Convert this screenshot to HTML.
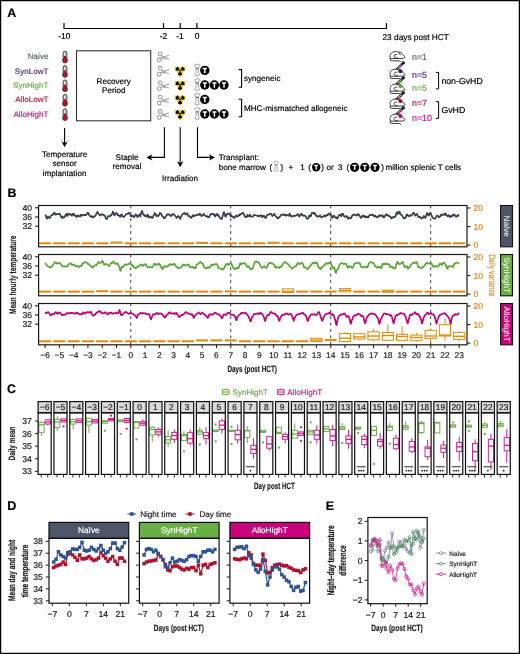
<!DOCTYPE html>
<html><head><meta charset="utf-8"><style>
html,body{margin:0;padding:0;background:#fff;}
svg{display:block;font-family:"Liberation Sans", sans-serif;text-rendering:geometricPrecision;-webkit-font-smoothing:antialiased;will-change:transform;}
</style></head><body>
<svg width="520" height="654" viewBox="0 0 520 654">
<rect x="0" y="0" width="520" height="654" fill="#fff"/>
<text x="7.20" y="16.60" font-size="12.4" fill="#000" stroke="#000" stroke-width="0.18" text-anchor="start" font-weight="bold" >A</text>
<polyline points="64.00,23.00 64.00,28.50 386.50,28.50 386.50,23.00" fill="none" stroke="#000" stroke-width="1.2" stroke-linejoin="round" stroke-linejoin="miter"/>
<line x1="163.50" y1="23.00" x2="163.50" y2="28.50" stroke="#000" stroke-width="1.2" />
<line x1="180.20" y1="23.00" x2="180.20" y2="28.50" stroke="#000" stroke-width="1.2" />
<line x1="196.90" y1="23.00" x2="196.90" y2="28.50" stroke="#000" stroke-width="1.2" />
<text x="64.30" y="39.30" font-size="8.5" fill="#000" stroke="#000" stroke-width="0.18" text-anchor="middle" >-10</text>
<text x="163.50" y="39.30" font-size="8.5" fill="#000" stroke="#000" stroke-width="0.18" text-anchor="middle" >-2</text>
<text x="180.00" y="39.30" font-size="8.5" fill="#000" stroke="#000" stroke-width="0.18" text-anchor="middle" >-1</text>
<text x="197.00" y="39.30" font-size="8.5" fill="#000" stroke="#000" stroke-width="0.18" text-anchor="middle" >0</text>
<text x="382.50" y="39.80" font-size="8.3" fill="#000" stroke="#000" stroke-width="0.18" text-anchor="start" >23 days post HCT</text>
<text x="48.40" y="59.30" font-size="8.05" fill="#5d6378" stroke="#5d6378" stroke-width="0.18" text-anchor="end" >Naive</text>
<text x="48.40" y="73.60" font-size="8.05" fill="#5b2d73" stroke="#5b2d73" stroke-width="0.18" text-anchor="end" >SynLowT</text>
<text x="48.40" y="88.00" font-size="8.05" fill="#6cab45" stroke="#6cab45" stroke-width="0.18" text-anchor="end" >SynHighT</text>
<text x="48.40" y="102.30" font-size="8.05" fill="#b51a40" stroke="#b51a40" stroke-width="0.18" text-anchor="end" >AlloLowT</text>
<text x="48.40" y="116.60" font-size="8.05" fill="#c2188a" stroke="#c2188a" stroke-width="0.18" text-anchor="end" >AlloHighT</text>
<rect x="63.10" y="51.20" width="3.8" height="9.0" rx="1.9" fill="#b4b4b4" stroke="#2a2a2a" stroke-width="0.8"/>
<line x1="64.70" y1="52.80" x2="64.70" y2="55.40" stroke="#fff" stroke-width="0.9"/>
<circle cx="65.00" cy="60.50" r="2.45" fill="#c8102e" stroke="#2a2a2a" stroke-width="0.8"/>
<rect x="63.90" y="56.00" width="2.2" height="4.6" fill="#b0102a"/>
<rect x="63.10" y="65.60" width="3.8" height="9.0" rx="1.9" fill="#b4b4b4" stroke="#2a2a2a" stroke-width="0.8"/>
<line x1="64.70" y1="67.20" x2="64.70" y2="69.80" stroke="#fff" stroke-width="0.9"/>
<circle cx="65.00" cy="74.90" r="2.45" fill="#c8102e" stroke="#2a2a2a" stroke-width="0.8"/>
<rect x="63.90" y="70.40" width="2.2" height="4.6" fill="#b0102a"/>
<rect x="63.10" y="80.00" width="3.8" height="9.0" rx="1.9" fill="#b4b4b4" stroke="#2a2a2a" stroke-width="0.8"/>
<line x1="64.70" y1="81.60" x2="64.70" y2="84.20" stroke="#fff" stroke-width="0.9"/>
<circle cx="65.00" cy="89.30" r="2.45" fill="#c8102e" stroke="#2a2a2a" stroke-width="0.8"/>
<rect x="63.90" y="84.80" width="2.2" height="4.6" fill="#b0102a"/>
<rect x="63.10" y="94.40" width="3.8" height="9.0" rx="1.9" fill="#b4b4b4" stroke="#2a2a2a" stroke-width="0.8"/>
<line x1="64.70" y1="96.00" x2="64.70" y2="98.60" stroke="#fff" stroke-width="0.9"/>
<circle cx="65.00" cy="103.70" r="2.45" fill="#c8102e" stroke="#2a2a2a" stroke-width="0.8"/>
<rect x="63.90" y="99.20" width="2.2" height="4.6" fill="#b0102a"/>
<rect x="63.10" y="108.80" width="3.8" height="9.0" rx="1.9" fill="#b4b4b4" stroke="#2a2a2a" stroke-width="0.8"/>
<line x1="64.70" y1="110.40" x2="64.70" y2="113.00" stroke="#fff" stroke-width="0.9"/>
<circle cx="65.00" cy="118.10" r="2.45" fill="#c8102e" stroke="#2a2a2a" stroke-width="0.8"/>
<rect x="63.90" y="113.60" width="2.2" height="4.6" fill="#b0102a"/>
<rect x="76.50" y="50.80" width="74.20" height="70.00" fill="none" stroke="#333" stroke-width="1.1" />
<text x="113.70" y="84.30" font-size="8.1" fill="#000" stroke="#000" stroke-width="0.18" text-anchor="middle" >Recovery</text>
<text x="113.80" y="93.40" font-size="8.1" fill="#000" stroke="#000" stroke-width="0.18" text-anchor="middle" >Period</text>
<g fill="none" stroke="#a2a2a2" stroke-width="1.15"><circle cx="160.20" cy="53.90" r="1.9"/><circle cx="159.20" cy="59.80" r="1.9"/><path d="M161.50,55.40 L164.40,58.10 M160.70,58.50 L163.60,57.10"/><path d="M165.20,56.50 L169.00,55.40 M165.20,58.40 L169.00,59.10"/><circle cx="164.30" cy="57.50" r="1.0"/></g>
<g fill="none" stroke="#a2a2a2" stroke-width="1.15"><circle cx="160.20" cy="68.30" r="1.9"/><circle cx="159.20" cy="74.20" r="1.9"/><path d="M161.50,69.80 L164.40,72.50 M160.70,72.90 L163.60,71.50"/><path d="M165.20,70.90 L169.00,69.80 M165.20,72.80 L169.00,73.50"/><circle cx="164.30" cy="71.90" r="1.0"/></g>
<g fill="none" stroke="#a2a2a2" stroke-width="1.15"><circle cx="160.20" cy="82.70" r="1.9"/><circle cx="159.20" cy="88.60" r="1.9"/><path d="M161.50,84.20 L164.40,86.90 M160.70,87.30 L163.60,85.90"/><path d="M165.20,85.30 L169.00,84.20 M165.20,87.20 L169.00,87.90"/><circle cx="164.30" cy="86.30" r="1.0"/></g>
<g fill="none" stroke="#a2a2a2" stroke-width="1.15"><circle cx="160.20" cy="97.10" r="1.9"/><circle cx="159.20" cy="103.00" r="1.9"/><path d="M161.50,98.60 L164.40,101.30 M160.70,101.70 L163.60,100.30"/><path d="M165.20,99.70 L169.00,98.60 M165.20,101.60 L169.00,102.30"/><circle cx="164.30" cy="100.70" r="1.0"/></g>
<g fill="none" stroke="#a2a2a2" stroke-width="1.15"><circle cx="160.20" cy="111.50" r="1.9"/><circle cx="159.20" cy="117.40" r="1.9"/><path d="M161.50,113.00 L164.40,115.70 M160.70,116.10 L163.60,114.70"/><path d="M165.20,114.10 L169.00,113.00 M165.20,116.00 L169.00,116.70"/><circle cx="164.30" cy="115.10" r="1.0"/></g>
<polygon points="174.50,67.20 185.70,67.20 180.10,77.00" fill="#f2c200" stroke="#f2c200" stroke-width="0.6" stroke-linejoin="round"/>
<path d="M178.55,70.60 L175.40,70.60 A4.7,4.7 0 0 1 177.75,66.53 L179.32,69.26 A1.55,1.55 0 0 0 178.55,70.60 Z" fill="#000"/>
<path d="M180.88,69.26 L182.45,66.53 A4.7,4.7 0 0 1 184.80,70.60 L181.65,70.60 A1.55,1.55 0 0 0 180.88,69.26 Z" fill="#000"/>
<path d="M180.88,71.94 L182.45,74.67 A4.7,4.7 0 0 1 177.75,74.67 L179.32,71.94 A1.55,1.55 0 0 0 180.88,71.94 Z" fill="#000"/>
<circle cx="180.10" cy="70.60" r="0.95" fill="#000"/>
<polygon points="174.50,81.60 185.70,81.60 180.10,91.40" fill="#f2c200" stroke="#f2c200" stroke-width="0.6" stroke-linejoin="round"/>
<path d="M178.55,85.00 L175.40,85.00 A4.7,4.7 0 0 1 177.75,80.93 L179.32,83.66 A1.55,1.55 0 0 0 178.55,85.00 Z" fill="#000"/>
<path d="M180.88,83.66 L182.45,80.93 A4.7,4.7 0 0 1 184.80,85.00 L181.65,85.00 A1.55,1.55 0 0 0 180.88,83.66 Z" fill="#000"/>
<path d="M180.88,86.34 L182.45,89.07 A4.7,4.7 0 0 1 177.75,89.07 L179.32,86.34 A1.55,1.55 0 0 0 180.88,86.34 Z" fill="#000"/>
<circle cx="180.10" cy="85.00" r="0.95" fill="#000"/>
<polygon points="174.50,96.00 185.70,96.00 180.10,105.80" fill="#f2c200" stroke="#f2c200" stroke-width="0.6" stroke-linejoin="round"/>
<path d="M178.55,99.40 L175.40,99.40 A4.7,4.7 0 0 1 177.75,95.33 L179.32,98.06 A1.55,1.55 0 0 0 178.55,99.40 Z" fill="#000"/>
<path d="M180.88,98.06 L182.45,95.33 A4.7,4.7 0 0 1 184.80,99.40 L181.65,99.40 A1.55,1.55 0 0 0 180.88,98.06 Z" fill="#000"/>
<path d="M180.88,100.74 L182.45,103.47 A4.7,4.7 0 0 1 177.75,103.47 L179.32,100.74 A1.55,1.55 0 0 0 180.88,100.74 Z" fill="#000"/>
<circle cx="180.10" cy="99.40" r="0.95" fill="#000"/>
<polygon points="174.50,110.40 185.70,110.40 180.10,120.20" fill="#f2c200" stroke="#f2c200" stroke-width="0.6" stroke-linejoin="round"/>
<path d="M178.55,113.80 L175.40,113.80 A4.7,4.7 0 0 1 177.75,109.73 L179.32,112.46 A1.55,1.55 0 0 0 178.55,113.80 Z" fill="#000"/>
<path d="M180.88,112.46 L182.45,109.73 A4.7,4.7 0 0 1 184.80,113.80 L181.65,113.80 A1.55,1.55 0 0 0 180.88,112.46 Z" fill="#000"/>
<path d="M180.88,115.14 L182.45,117.87 A4.7,4.7 0 0 1 177.75,117.87 L179.32,115.14 A1.55,1.55 0 0 0 180.88,115.14 Z" fill="#000"/>
<circle cx="180.10" cy="113.80" r="0.95" fill="#000"/>
<g transform="translate(194.20,64.20) scale(1.0)" fill="#fff" stroke="#8a8a8a" stroke-width="0.8"><path d="M0.6,0.8 C1.5,-0.2 4.8,-0.2 5.6,0.8 C6.2,1.8 5.2,2.6 4.4,3.0 L4.2,8.6 C5.2,9.4 5.6,10.6 4.8,11.2 C3.8,11.8 1.6,11.8 1.0,11.0 C0.6,10.2 1.2,9.2 1.8,8.6 L1.9,3.0 C0.8,2.6 0.0,1.8 0.6,0.8 Z"/><ellipse cx="2.9" cy="4.1" rx="0.9" ry="0.6" fill="#222" stroke="none"/></g>
<circle cx="204.80" cy="70.40" r="4.7" fill="#000"/>
<path d="M202.70,68.40 H206.90 M204.80,68.40 V73.20" stroke="#fff" stroke-width="1.45" fill="none"/>
<g transform="translate(194.20,78.80) scale(1.0)" fill="#fff" stroke="#8a8a8a" stroke-width="0.8"><path d="M0.6,0.8 C1.5,-0.2 4.8,-0.2 5.6,0.8 C6.2,1.8 5.2,2.6 4.4,3.0 L4.2,8.6 C5.2,9.4 5.6,10.6 4.8,11.2 C3.8,11.8 1.6,11.8 1.0,11.0 C0.6,10.2 1.2,9.2 1.8,8.6 L1.9,3.0 C0.8,2.6 0.0,1.8 0.6,0.8 Z"/><ellipse cx="2.9" cy="4.1" rx="0.9" ry="0.6" fill="#222" stroke="none"/></g>
<circle cx="204.80" cy="85.00" r="4.7" fill="#000"/>
<path d="M202.70,83.00 H206.90 M204.80,83.00 V87.80" stroke="#fff" stroke-width="1.45" fill="none"/>
<circle cx="214.40" cy="85.00" r="4.7" fill="#000"/>
<path d="M212.30,83.00 H216.50 M214.40,83.00 V87.80" stroke="#fff" stroke-width="1.45" fill="none"/>
<circle cx="224.00" cy="85.00" r="4.7" fill="#000"/>
<path d="M221.90,83.00 H226.10 M224.00,83.00 V87.80" stroke="#fff" stroke-width="1.45" fill="none"/>
<g transform="translate(194.20,93.30) scale(1.0)" fill="#fff" stroke="#8a8a8a" stroke-width="0.8"><path d="M0.6,0.8 C1.5,-0.2 4.8,-0.2 5.6,0.8 C6.2,1.8 5.2,2.6 4.4,3.0 L4.2,8.6 C5.2,9.4 5.6,10.6 4.8,11.2 C3.8,11.8 1.6,11.8 1.0,11.0 C0.6,10.2 1.2,9.2 1.8,8.6 L1.9,3.0 C0.8,2.6 0.0,1.8 0.6,0.8 Z"/><ellipse cx="2.9" cy="4.1" rx="0.9" ry="0.6" fill="#222" stroke="none"/></g>
<circle cx="204.80" cy="99.50" r="4.7" fill="#000"/>
<path d="M202.70,97.50 H206.90 M204.80,97.50 V102.30" stroke="#fff" stroke-width="1.45" fill="none"/>
<g transform="translate(194.20,107.80) scale(1.0)" fill="#fff" stroke="#8a8a8a" stroke-width="0.8"><path d="M0.6,0.8 C1.5,-0.2 4.8,-0.2 5.6,0.8 C6.2,1.8 5.2,2.6 4.4,3.0 L4.2,8.6 C5.2,9.4 5.6,10.6 4.8,11.2 C3.8,11.8 1.6,11.8 1.0,11.0 C0.6,10.2 1.2,9.2 1.8,8.6 L1.9,3.0 C0.8,2.6 0.0,1.8 0.6,0.8 Z"/><ellipse cx="2.9" cy="4.1" rx="0.9" ry="0.6" fill="#222" stroke="none"/></g>
<circle cx="204.80" cy="114.00" r="4.7" fill="#000"/>
<path d="M202.70,112.00 H206.90 M204.80,112.00 V116.80" stroke="#fff" stroke-width="1.45" fill="none"/>
<circle cx="214.40" cy="114.00" r="4.7" fill="#000"/>
<path d="M212.30,112.00 H216.50 M214.40,112.00 V116.80" stroke="#fff" stroke-width="1.45" fill="none"/>
<circle cx="224.00" cy="114.00" r="4.7" fill="#000"/>
<path d="M221.90,112.00 H226.10 M224.00,112.00 V116.80" stroke="#fff" stroke-width="1.45" fill="none"/>
<polyline points="238.60,69.60 241.60,69.60 241.60,87.30 238.60,87.30" fill="none" stroke="#000" stroke-width="1.1" stroke-linejoin="round" stroke-linejoin="miter"/>
<polyline points="238.60,99.20 241.60,99.20 241.60,116.80 238.60,116.80" fill="none" stroke="#000" stroke-width="1.1" stroke-linejoin="round" stroke-linejoin="miter"/>
<text x="244.00" y="80.90" font-size="8.1" fill="#000" stroke="#000" stroke-width="0.18" text-anchor="start" >syngeneic</text>
<text x="244.00" y="111.00" font-size="8.1" fill="#000" stroke="#000" stroke-width="0.18" text-anchor="start" >MHC-mismatched allogeneic</text>
<g transform="translate(389.30,51.50)" fill="#fff" stroke="#1e1e1e" stroke-width="0.85" stroke-linejoin="round" stroke-linecap="round"><path d="M1.3,7.0 C-0.2,5.2 0.6,1.2 4.6,0.2 C6.6,-0.2 8.4,0.2 9.4,0.9 C10.2,0.2 11.6,0.3 11.9,1.4 C13.0,2.3 14.6,4.0 15.4,5.2 C15.8,6.0 15.2,6.8 14.0,6.9 L2.6,7.1 C2.0,7.1 1.6,7.1 1.3,7.0 Z"/><path d="M7.6,3.0 C5.6,2.2 4.2,4.0 5.0,5.5 C5.6,6.6 7.4,6.9 8.2,6.4" fill="none"/><path d="M10.0,1.2 C9.6,2.4 10.4,3.4 11.6,3.2" fill="none"/><path d="M1.3,7.2 C0.2,7.9 0.4,9.0 1.8,9.3 L10.2,9.4 C11.2,9.5 11.6,10.0 11.2,10.5" fill="none"/></g>
<line x1="403.60" y1="62.60" x2="396.60" y2="69.60" stroke="#1e1e1e" stroke-width="2.5" stroke-linecap="round"/>
<line x1="401.64" y1="64.56" x2="397.65" y2="68.55" stroke="#c29ad8" stroke-width="1.1"/>
<line x1="402.33" y1="61.33" x2="404.87" y2="63.87" stroke="#1e1e1e" stroke-width="0.9"/>
<g transform="translate(389.30,69.20)" fill="#fff" stroke="#1e1e1e" stroke-width="0.85" stroke-linejoin="round" stroke-linecap="round"><path d="M1.3,7.0 C-0.2,5.2 0.6,1.2 4.6,0.2 C6.6,-0.2 8.4,0.2 9.4,0.9 C10.2,0.2 11.6,0.3 11.9,1.4 C13.0,2.3 14.6,4.0 15.4,5.2 C15.8,6.0 15.2,6.8 14.0,6.9 L2.6,7.1 C2.0,7.1 1.6,7.1 1.3,7.0 Z"/><path d="M7.6,3.0 C5.6,2.2 4.2,4.0 5.0,5.5 C5.6,6.6 7.4,6.9 8.2,6.4" fill="none"/><path d="M10.0,1.2 C9.6,2.4 10.4,3.4 11.6,3.2" fill="none"/><path d="M1.3,7.2 C0.2,7.9 0.4,9.0 1.8,9.3 L10.2,9.4 C11.2,9.5 11.6,10.0 11.2,10.5" fill="none"/></g>
<circle cx="400.40" cy="71.20" r="2.0" fill="#4e1266"/>
<line x1="403.60" y1="77.50" x2="396.60" y2="84.50" stroke="#1e1e1e" stroke-width="2.5" stroke-linecap="round"/>
<line x1="401.64" y1="79.46" x2="397.65" y2="83.45" stroke="#a8d890" stroke-width="1.1"/>
<line x1="402.33" y1="76.23" x2="404.87" y2="78.77" stroke="#1e1e1e" stroke-width="0.9"/>
<g transform="translate(389.30,84.10)" fill="#fff" stroke="#1e1e1e" stroke-width="0.85" stroke-linejoin="round" stroke-linecap="round"><path d="M1.3,7.0 C-0.2,5.2 0.6,1.2 4.6,0.2 C6.6,-0.2 8.4,0.2 9.4,0.9 C10.2,0.2 11.6,0.3 11.9,1.4 C13.0,2.3 14.6,4.0 15.4,5.2 C15.8,6.0 15.2,6.8 14.0,6.9 L2.6,7.1 C2.0,7.1 1.6,7.1 1.3,7.0 Z"/><path d="M7.6,3.0 C5.6,2.2 4.2,4.0 5.0,5.5 C5.6,6.6 7.4,6.9 8.2,6.4" fill="none"/><path d="M10.0,1.2 C9.6,2.4 10.4,3.4 11.6,3.2" fill="none"/><path d="M1.3,7.2 C0.2,7.9 0.4,9.0 1.8,9.3 L10.2,9.4 C11.2,9.5 11.6,10.0 11.2,10.5" fill="none"/></g>
<circle cx="400.40" cy="86.10" r="2.0" fill="#4fae2a"/>
<line x1="403.60" y1="92.50" x2="396.60" y2="99.50" stroke="#1e1e1e" stroke-width="2.5" stroke-linecap="round"/>
<line x1="401.64" y1="94.46" x2="397.65" y2="98.45" stroke="#f0a0b8" stroke-width="1.1"/>
<line x1="402.33" y1="91.23" x2="404.87" y2="93.77" stroke="#1e1e1e" stroke-width="0.9"/>
<g transform="translate(389.30,99.10)" fill="#fff" stroke="#1e1e1e" stroke-width="0.85" stroke-linejoin="round" stroke-linecap="round"><path d="M1.3,7.0 C-0.2,5.2 0.6,1.2 4.6,0.2 C6.6,-0.2 8.4,0.2 9.4,0.9 C10.2,0.2 11.6,0.3 11.9,1.4 C13.0,2.3 14.6,4.0 15.4,5.2 C15.8,6.0 15.2,6.8 14.0,6.9 L2.6,7.1 C2.0,7.1 1.6,7.1 1.3,7.0 Z"/><path d="M7.6,3.0 C5.6,2.2 4.2,4.0 5.0,5.5 C5.6,6.6 7.4,6.9 8.2,6.4" fill="none"/><path d="M10.0,1.2 C9.6,2.4 10.4,3.4 11.6,3.2" fill="none"/><path d="M1.3,7.2 C0.2,7.9 0.4,9.0 1.8,9.3 L10.2,9.4 C11.2,9.5 11.6,10.0 11.2,10.5" fill="none"/></g>
<circle cx="400.40" cy="101.10" r="2.0" fill="#c0001e"/>
<line x1="403.60" y1="107.50" x2="396.60" y2="114.50" stroke="#1e1e1e" stroke-width="2.5" stroke-linecap="round"/>
<line x1="401.64" y1="109.46" x2="397.65" y2="113.45" stroke="#f08ccc" stroke-width="1.1"/>
<line x1="402.33" y1="106.23" x2="404.87" y2="108.77" stroke="#1e1e1e" stroke-width="0.9"/>
<g transform="translate(389.30,114.10)" fill="#fff" stroke="#1e1e1e" stroke-width="0.85" stroke-linejoin="round" stroke-linecap="round"><path d="M1.3,7.0 C-0.2,5.2 0.6,1.2 4.6,0.2 C6.6,-0.2 8.4,0.2 9.4,0.9 C10.2,0.2 11.6,0.3 11.9,1.4 C13.0,2.3 14.6,4.0 15.4,5.2 C15.8,6.0 15.2,6.8 14.0,6.9 L2.6,7.1 C2.0,7.1 1.6,7.1 1.3,7.0 Z"/><path d="M7.6,3.0 C5.6,2.2 4.2,4.0 5.0,5.5 C5.6,6.6 7.4,6.9 8.2,6.4" fill="none"/><path d="M10.0,1.2 C9.6,2.4 10.4,3.4 11.6,3.2" fill="none"/><path d="M1.3,7.2 C0.2,7.9 0.4,9.0 1.8,9.3 L10.2,9.4 C11.2,9.5 11.6,10.0 11.2,10.5" fill="none"/></g>
<circle cx="400.40" cy="116.10" r="2.0" fill="#d0007a"/>
<text x="412.00" y="59.70" font-size="8.9" fill="#5d6378" stroke="#5d6378" stroke-width="0.18" text-anchor="start" >n=1</text>
<text x="412.00" y="77.80" font-size="8.9" fill="#5b2d73" stroke="#5b2d73" stroke-width="0.18" text-anchor="start" >n=5</text>
<text x="412.00" y="90.90" font-size="8.9" fill="#6cab45" stroke="#6cab45" stroke-width="0.18" text-anchor="start" >n=5</text>
<text x="412.00" y="106.30" font-size="8.9" fill="#b51a40" stroke="#b51a40" stroke-width="0.18" text-anchor="start" >n=7</text>
<text x="412.00" y="120.90" font-size="8.9" fill="#c2188a" stroke="#c2188a" stroke-width="0.18" text-anchor="start" >n=10</text>
<polyline points="435.80,72.40 438.60,72.40 438.60,88.90 435.80,88.90" fill="none" stroke="#000" stroke-width="1.0" stroke-linejoin="round" stroke-linejoin="miter"/>
<polyline points="435.80,101.60 438.60,101.60 438.60,118.40 435.80,118.40" fill="none" stroke="#000" stroke-width="1.0" stroke-linejoin="round" stroke-linejoin="miter"/>
<text x="441.40" y="83.80" font-size="8.75" fill="#000" stroke="#000" stroke-width="0.18" text-anchor="start" >non-GvHD</text>
<text x="441.40" y="113.00" font-size="8.75" fill="#000" stroke="#000" stroke-width="0.18" text-anchor="start" >GvHD</text>
<line x1="64.60" y1="128.00" x2="64.60" y2="143.00" stroke="#000" stroke-width="1.1" />
<polygon points="64.60,147.30 61.40,141.30 64.60,142.90 67.80,141.30" fill="#000"/>
<text x="64.60" y="156.50" font-size="8.1" fill="#000" stroke="#000" stroke-width="0.18" text-anchor="middle" >Temperature</text>
<text x="64.60" y="166.40" font-size="8.1" fill="#000" stroke="#000" stroke-width="0.18" text-anchor="middle" >sensor</text>
<text x="64.60" y="176.30" font-size="8.1" fill="#000" stroke="#000" stroke-width="0.18" text-anchor="middle" >implantation</text>
<polyline points="164.40,127.20 164.40,157.40 150.00,157.40" fill="none" stroke="#000" stroke-width="1.1" stroke-linejoin="round" stroke-linejoin="miter"/>
<polygon points="146.40,157.40 152.40,154.20 150.80,157.40 152.40,160.60" fill="#000"/>
<text x="127.00" y="160.20" font-size="8.1" fill="#000" stroke="#000" stroke-width="0.18" text-anchor="middle" >Staple</text>
<text x="126.90" y="169.30" font-size="8.1" fill="#000" stroke="#000" stroke-width="0.18" text-anchor="middle" >removal</text>
<line x1="180.20" y1="127.20" x2="180.20" y2="162.50" stroke="#000" stroke-width="1.1" />
<polygon points="180.20,167.20 177.00,161.20 180.20,162.80 183.40,161.20" fill="#000"/>
<text x="180.00" y="180.70" font-size="8.1" fill="#000" stroke="#000" stroke-width="0.18" text-anchor="middle" >Irradiation</text>
<polyline points="197.50,127.20 197.50,157.40 211.00,157.40" fill="none" stroke="#000" stroke-width="1.1" stroke-linejoin="round" stroke-linejoin="miter"/>
<polygon points="215.00,157.40 209.00,154.20 210.60,157.40 209.00,160.60" fill="#000"/>
<text x="218.70" y="160.00" font-size="8.1" fill="#000" stroke="#000" stroke-width="0.18" text-anchor="start" >Transplant:</text>
<text x="218.70" y="169.70" font-size="8.1" fill="#000" stroke="#000" stroke-width="0.18" text-anchor="start" >bone marrow</text>
<text x="269.50" y="169.70" font-size="8.1" fill="#000" stroke="#000" stroke-width="0.18" text-anchor="start" >(</text>
<g transform="translate(273.60,161.30) scale(0.85)" fill="#fff" stroke="#8a8a8a" stroke-width="0.8"><path d="M0.6,0.8 C1.5,-0.2 4.8,-0.2 5.6,0.8 C6.2,1.8 5.2,2.6 4.4,3.0 L4.2,8.6 C5.2,9.4 5.6,10.6 4.8,11.2 C3.8,11.8 1.6,11.8 1.0,11.0 C0.6,10.2 1.2,9.2 1.8,8.6 L1.9,3.0 C0.8,2.6 0.0,1.8 0.6,0.8 Z"/><ellipse cx="2.9" cy="4.1" rx="0.9" ry="0.6" fill="#222" stroke="none"/></g>
<text x="280.60" y="169.70" font-size="8.1" fill="#000" stroke="#000" stroke-width="0.18" text-anchor="start" >)</text>
<text x="288.50" y="169.70" font-size="8.1" fill="#000" stroke="#000" stroke-width="0.18" text-anchor="start" >+</text>
<text x="300.30" y="169.70" font-size="8.1" fill="#000" stroke="#000" stroke-width="0.18" text-anchor="start" >1</text>
<text x="308.30" y="169.70" font-size="8.1" fill="#000" stroke="#000" stroke-width="0.18" text-anchor="start" >(</text>
<circle cx="316.20" cy="167.30" r="4.2" fill="#000"/>
<path d="M314.32,165.51 H318.08 M316.20,165.51 V169.80" stroke="#fff" stroke-width="1.30" fill="none"/>
<text x="321.30" y="169.70" font-size="8.1" fill="#000" stroke="#000" stroke-width="0.18" text-anchor="start" >)</text>
<text x="326.50" y="169.70" font-size="8.1" fill="#000" stroke="#000" stroke-width="0.18" text-anchor="start" >or</text>
<text x="337.90" y="169.70" font-size="8.1" fill="#000" stroke="#000" stroke-width="0.18" text-anchor="start" >3</text>
<text x="346.60" y="169.70" font-size="8.1" fill="#000" stroke="#000" stroke-width="0.18" text-anchor="start" >(</text>
<circle cx="354.60" cy="167.30" r="4.6" fill="#000"/>
<path d="M352.54,165.34 H356.66 M354.60,165.34 V170.04" stroke="#fff" stroke-width="1.42" fill="none"/>
<circle cx="364.80" cy="167.30" r="4.6" fill="#000"/>
<path d="M362.74,165.34 H366.86 M364.80,165.34 V170.04" stroke="#fff" stroke-width="1.42" fill="none"/>
<circle cx="375.00" cy="167.30" r="4.6" fill="#000"/>
<path d="M372.94,165.34 H377.06 M375.00,165.34 V170.04" stroke="#fff" stroke-width="1.42" fill="none"/>
<text x="381.20" y="169.70" font-size="8.1" fill="#000" stroke="#000" stroke-width="0.18" text-anchor="start" >)</text>
<text x="385.40" y="169.70" font-size="8.1" fill="#000" stroke="#000" stroke-width="0.18" text-anchor="start" >million splenic T cells</text>
<text x="7.40" y="196.70" font-size="12.4" fill="#000" stroke="#000" stroke-width="0.18" text-anchor="start" font-weight="bold" >B</text>
<line x1="130.78" y1="205.50" x2="130.78" y2="246.80" stroke="#3a3a3a" stroke-width="1.0" stroke-dasharray="2.8,3.6"/>
<line x1="230.74" y1="205.50" x2="230.74" y2="246.80" stroke="#3a3a3a" stroke-width="1.0" stroke-dasharray="2.8,3.6"/>
<line x1="330.70" y1="205.50" x2="330.70" y2="246.80" stroke="#3a3a3a" stroke-width="1.0" stroke-dasharray="2.8,3.6"/>
<line x1="430.66" y1="205.50" x2="430.66" y2="246.80" stroke="#3a3a3a" stroke-width="1.0" stroke-dasharray="2.8,3.6"/>
<rect x="39.10" y="242.30" width="12.00" height="2.00" fill="#e08a00" stroke="none" stroke-width="1" />
<rect x="53.38" y="242.30" width="12.00" height="2.00" fill="#e08a00" stroke="none" stroke-width="1" />
<rect x="67.66" y="242.30" width="12.00" height="2.00" fill="#e08a00" stroke="none" stroke-width="1" />
<rect x="81.94" y="242.30" width="12.00" height="2.00" fill="#e08a00" stroke="none" stroke-width="1" />
<rect x="96.22" y="242.30" width="12.00" height="2.00" fill="#e08a00" stroke="none" stroke-width="1" />
<rect x="110.50" y="241.60" width="12.00" height="2.00" fill="#e08a00" stroke="none" stroke-width="1" />
<rect x="124.78" y="242.30" width="12.00" height="2.00" fill="#e08a00" stroke="none" stroke-width="1" />
<rect x="139.06" y="242.30" width="12.00" height="2.00" fill="#e08a00" stroke="none" stroke-width="1" />
<rect x="153.34" y="242.30" width="12.00" height="2.00" fill="#e08a00" stroke="none" stroke-width="1" />
<rect x="167.62" y="242.30" width="12.00" height="2.00" fill="#e08a00" stroke="none" stroke-width="1" />
<rect x="181.90" y="242.30" width="12.00" height="2.00" fill="#e08a00" stroke="none" stroke-width="1" />
<rect x="196.18" y="241.90" width="12.00" height="2.00" fill="#e08a00" stroke="none" stroke-width="1" />
<rect x="210.46" y="242.30" width="12.00" height="2.00" fill="#e08a00" stroke="none" stroke-width="1" />
<rect x="224.74" y="242.30" width="12.00" height="2.00" fill="#e08a00" stroke="none" stroke-width="1" />
<rect x="239.02" y="242.30" width="12.00" height="2.00" fill="#e08a00" stroke="none" stroke-width="1" />
<rect x="253.30" y="242.30" width="12.00" height="2.00" fill="#e08a00" stroke="none" stroke-width="1" />
<rect x="267.58" y="241.80" width="12.00" height="2.00" fill="#e08a00" stroke="none" stroke-width="1" />
<rect x="281.86" y="242.30" width="12.00" height="2.00" fill="#e08a00" stroke="none" stroke-width="1" />
<rect x="296.14" y="242.30" width="12.00" height="2.00" fill="#e08a00" stroke="none" stroke-width="1" />
<rect x="310.42" y="242.30" width="12.00" height="2.00" fill="#e08a00" stroke="none" stroke-width="1" />
<rect x="324.70" y="242.30" width="12.00" height="2.00" fill="#e08a00" stroke="none" stroke-width="1" />
<rect x="338.98" y="242.30" width="12.00" height="2.00" fill="#e08a00" stroke="none" stroke-width="1" />
<rect x="353.26" y="242.30" width="12.00" height="2.00" fill="#e08a00" stroke="none" stroke-width="1" />
<rect x="367.54" y="242.30" width="12.00" height="2.00" fill="#e08a00" stroke="none" stroke-width="1" />
<rect x="381.82" y="242.30" width="12.00" height="2.00" fill="#e08a00" stroke="none" stroke-width="1" />
<rect x="396.10" y="242.30" width="12.00" height="2.00" fill="#e08a00" stroke="none" stroke-width="1" />
<rect x="410.38" y="242.30" width="12.00" height="2.00" fill="#e08a00" stroke="none" stroke-width="1" />
<rect x="424.66" y="242.30" width="12.00" height="2.00" fill="#e08a00" stroke="none" stroke-width="1" />
<rect x="438.94" y="242.30" width="12.00" height="2.00" fill="#e08a00" stroke="none" stroke-width="1" />
<rect x="453.22" y="242.30" width="12.00" height="2.00" fill="#e08a00" stroke="none" stroke-width="1" />
<polyline points="45.10,214.85 45.70,215.17 46.29,217.21 46.88,218.58 47.48,218.00 48.07,216.48 48.67,217.11 49.27,218.12 49.86,217.87 50.45,216.90 51.05,215.64 51.64,215.24 52.24,214.88 52.84,214.83 53.43,213.53 54.02,212.91 54.62,212.70 55.21,214.60 55.81,214.70 56.41,214.29 57.00,213.76 57.59,214.03 58.19,213.99 58.78,213.90 59.38,213.78 59.98,214.06 60.57,216.07 61.16,216.60 61.76,217.75 62.35,216.39 62.95,217.90 63.55,217.13 64.14,217.46 64.73,216.81 65.33,215.24 65.92,214.72 66.52,213.52 67.12,216.01 67.71,215.28 68.31,214.75 68.90,213.73 69.50,214.24 70.09,214.08 70.69,214.86 71.28,214.74 71.88,215.68 72.47,213.92 73.06,214.68 73.66,213.57 74.25,215.56 74.85,215.09 75.44,216.00 76.04,215.87 76.64,217.08 77.23,215.69 77.82,215.85 78.42,215.48 79.02,216.39 79.61,216.31 80.21,216.41 80.80,214.69 81.39,214.95 81.99,215.45 82.59,215.67 83.18,214.89 83.78,214.68 84.37,215.03 84.97,214.92 85.56,215.13 86.16,215.13 86.75,214.20 87.34,213.01 87.94,212.70 88.53,213.11 89.13,214.86 89.72,215.75 90.32,216.41 90.91,216.86 91.51,216.38 92.10,216.02 92.70,217.56 93.30,217.46 93.89,216.87 94.48,216.00 95.08,216.18 95.67,215.48 96.27,214.24 96.87,213.13 97.46,211.85 98.06,213.08 98.65,213.86 99.25,214.76 99.84,215.12 100.44,215.56 101.03,214.37 101.62,214.67 102.22,214.23 102.81,214.34 103.41,215.33 104.00,215.02 104.60,215.66 105.19,216.21 105.79,218.18 106.39,218.96 106.98,218.97 107.57,217.31 108.17,216.01 108.76,216.49 109.36,216.49 109.96,216.21 110.55,215.12 111.15,215.51 111.74,214.57 112.34,213.62 112.93,211.47 113.53,213.10 114.12,215.03 114.72,215.34 115.31,213.26 115.91,213.22 116.50,212.98 117.09,213.80 117.69,215.10 118.28,214.61 118.88,215.69 119.47,215.90 120.07,216.75 120.66,215.55 121.26,214.45 121.85,214.59 122.45,216.37 123.04,216.60 123.64,216.99 124.24,216.48 124.83,215.90 125.43,215.24 126.02,214.14 126.61,214.08 127.21,213.78 127.81,213.85 128.40,213.48 129.00,212.81 129.59,213.59 130.19,214.05 130.78,216.13 131.38,216.15 131.97,215.90 132.56,215.34 133.16,216.46 133.75,217.33 134.35,216.67 134.94,216.00 135.54,214.25 136.13,214.74 136.73,215.34 137.32,217.10 137.92,216.45 138.52,215.77 139.11,214.55 139.70,214.64 140.30,216.52 140.89,213.33 141.49,212.49 142.09,210.90 142.68,213.16 143.28,214.68 143.87,214.88 144.47,215.84 145.06,215.22 145.66,216.34 146.25,216.67 146.84,216.57 147.44,214.62 148.03,215.09 148.63,217.35 149.22,217.52 149.82,216.98 150.41,216.61 151.01,216.65 151.60,217.97 152.20,218.00 152.79,217.81 153.39,215.77 153.98,215.36 154.58,212.95 155.17,213.67 155.77,214.11 156.37,216.11 156.96,215.41 157.56,215.63 158.15,216.09 158.75,215.60 159.34,214.20 159.93,212.91 160.53,213.43 161.12,213.88 161.72,215.38 162.31,216.10 162.91,216.82 163.50,217.03 164.10,218.26 164.69,218.22 165.29,217.44 165.88,216.25 166.48,215.47 167.07,214.25 167.67,214.43 168.26,214.59 168.86,214.14 169.46,214.48 170.05,215.60 170.64,215.84 171.24,216.17 171.84,214.62 172.43,214.87 173.03,214.03 173.62,214.16 174.21,214.84 174.81,215.24 175.41,216.51 176.00,216.51 176.59,217.95 177.19,217.22 177.78,216.80 178.38,215.99 178.97,217.04 179.57,216.98 180.16,219.09 180.76,217.05 181.35,216.11 181.95,214.84 182.54,214.32 183.14,213.88 183.73,213.24 184.33,212.96 184.92,213.47 185.52,214.64 186.11,213.95 186.71,213.35 187.31,213.44 187.90,214.80 188.49,216.10 189.09,215.88 189.68,216.30 190.28,216.97 190.88,217.94 191.47,217.72 192.06,216.73 192.66,215.30 193.25,215.17 193.85,216.23 194.44,216.02 195.04,215.28 195.63,215.55 196.23,215.05 196.82,214.83 197.42,214.67 198.01,214.60 198.61,214.89 199.20,214.88 199.80,213.53 200.39,214.91 200.99,214.93 201.59,216.12 202.18,215.48 202.77,215.41 203.37,214.20 203.96,213.86 204.56,214.98 205.16,215.62 205.75,216.17 206.34,216.33 206.94,216.59 207.53,216.11 208.13,217.34 208.72,217.44 209.32,217.09 209.91,215.43 210.51,214.38 211.10,213.82 211.70,213.89 212.29,214.47 212.89,213.83 213.48,214.30 214.08,214.09 214.67,215.63 215.27,216.45 215.87,215.31 216.46,214.03 217.05,214.80 217.65,214.25 218.24,215.69 218.84,215.64 219.44,217.26 220.03,217.81 220.62,218.66 221.22,218.92 221.81,218.93 222.41,216.82 223.00,214.70 223.60,212.24 224.19,212.33 224.79,214.60 225.38,216.62 225.98,216.52 226.57,214.68 227.17,214.06 227.76,213.36 228.36,213.86 228.95,213.73 229.55,214.10 230.14,215.23 230.74,216.42 231.33,215.25 231.93,216.12 232.52,216.89 233.12,216.90 233.72,217.26 234.31,218.04 234.90,216.87 235.50,216.23 236.09,215.42 236.69,216.64 237.28,216.49 237.88,216.24 238.47,215.10 239.07,214.64 239.66,215.37 240.26,214.15 240.85,214.18 241.45,214.19 242.04,213.19 242.64,213.21 243.23,212.84 243.83,214.29 244.42,215.75 245.02,216.28 245.61,217.19 246.21,216.86 246.80,216.98 247.40,214.87 248.00,216.11 248.59,216.10 249.18,216.18 249.78,214.66 250.37,215.24 250.97,216.58 251.56,216.68 252.16,216.57 252.75,216.75 253.35,216.05 253.94,215.33 254.54,214.94 255.13,215.15 255.73,215.27 256.32,215.48 256.92,215.65 257.51,215.57 258.11,216.24 258.70,215.81 259.30,215.95 259.89,216.36 260.49,215.20 261.08,215.41 261.68,215.53 262.28,217.15 262.87,216.64 263.46,215.66 264.06,215.66 264.65,217.20 265.25,217.84 265.85,218.03 266.44,216.63 267.03,215.14 267.63,214.79 268.23,214.57 268.82,214.57 269.42,214.47 270.01,213.86 270.61,213.62 271.20,214.19 271.80,214.81 272.39,216.02 272.99,215.58 273.58,214.79 274.18,213.81 274.77,214.72 275.37,215.55 275.96,216.61 276.56,217.03 277.15,218.13 277.75,217.75 278.34,218.45 278.94,217.13 279.53,217.03 280.12,216.25 280.72,215.92 281.31,214.67 281.91,214.83 282.50,214.48 283.10,214.61 283.69,215.11 284.29,214.44 284.88,215.13 285.48,214.75 286.07,215.80 286.67,215.11 287.26,215.13 287.86,215.08 288.46,215.49 289.05,215.91 289.64,213.62 290.24,214.68 290.83,215.69 291.43,216.76 292.03,216.33 292.62,216.08 293.21,215.85 293.81,215.75 294.40,216.19 295.00,215.47 295.60,215.71 296.19,215.47 296.79,214.95 297.38,214.44 297.97,214.01 298.57,215.47 299.17,216.60 299.76,216.04 300.36,215.07 300.95,213.79 301.55,213.91 302.14,215.15 302.74,215.21 303.33,215.93 303.93,215.36 304.52,215.55 305.12,215.95 305.71,216.42 306.31,217.33 306.90,218.62 307.50,218.57 308.09,218.64 308.69,217.61 309.28,215.39 309.88,216.44 310.47,215.73 311.06,216.09 311.66,213.21 312.25,212.76 312.85,212.90 313.45,213.51 314.04,213.89 314.63,212.70 315.23,214.19 315.82,214.87 316.42,216.09 317.02,215.85 317.61,216.41 318.20,216.90 318.80,216.48 319.39,215.99 319.99,215.38 320.59,216.25 321.18,217.47 321.78,217.51 322.37,216.75 322.96,216.74 323.56,216.08 324.16,215.61 324.75,215.35 325.35,216.59 325.94,215.90 326.53,215.24 327.13,214.80 327.73,215.22 328.32,213.85 328.92,213.60 329.51,214.54 330.11,214.67 330.70,214.31 331.30,216.31 331.89,217.77 332.49,217.79 333.08,215.78 333.68,216.61 334.27,215.78 334.87,217.12 335.46,217.28 336.06,218.07 336.65,217.32 337.25,218.54 337.84,218.12 338.44,216.20 339.03,215.15 339.62,214.64 340.22,214.85 340.81,216.00 341.41,216.03 342.01,213.90 342.60,213.78 343.19,214.07 343.79,216.08 344.38,216.38 344.98,216.68 345.58,216.87 346.17,216.36 346.76,216.00 347.36,216.89 347.95,218.75 348.55,218.07 349.15,217.41 349.74,217.71 350.34,218.54 350.93,218.33 351.52,217.40 352.12,215.81 352.72,214.86 353.31,214.75 353.91,215.05 354.50,214.61 355.09,214.26 355.69,214.96 356.29,215.09 356.88,215.62 357.48,215.48 358.07,213.77 358.66,214.66 359.26,215.16 359.86,216.00 360.45,217.32 361.05,217.90 361.64,217.18 362.24,216.27 362.83,215.33 363.43,215.89 364.02,216.76 364.62,215.96 365.21,216.49 365.81,217.43 366.40,217.07 367.00,216.51 367.59,217.12 368.19,217.52 368.78,216.51 369.38,215.20 369.97,214.81 370.56,215.17 371.16,215.24 371.75,214.96 372.35,214.52 372.94,214.60 373.54,215.49 374.14,216.40 374.73,216.08 375.32,215.53 375.92,216.90 376.51,217.02 377.11,217.43 377.71,216.56 378.30,216.41 378.89,216.61 379.49,215.10 380.08,215.42 380.68,215.66 381.28,215.69 381.87,216.20 382.47,215.16 383.06,216.71 383.65,217.35 384.25,217.36 384.85,216.26 385.44,214.99 386.04,214.81 386.63,214.12 387.22,215.56 387.82,215.25 388.42,215.58 389.01,216.19 389.61,216.11 390.20,216.58 390.80,217.45 391.39,218.59 391.99,217.39 392.58,217.82 393.18,216.86 393.77,217.49 394.37,216.90 394.96,216.95 395.56,216.28 396.15,213.47 396.75,212.77 397.34,212.10 397.94,213.92 398.53,213.12 399.12,211.72 399.72,211.81 400.31,214.33 400.91,214.72 401.50,214.81 402.10,215.60 402.70,216.33 403.29,217.57 403.88,218.46 404.48,218.15 405.07,218.06 405.67,217.71 406.27,215.87 406.86,214.39 407.45,214.96 408.05,215.52 408.64,216.34 409.24,215.60 409.84,215.36 410.43,215.37 411.03,215.62 411.62,215.56 412.21,214.66 412.81,213.80 413.41,212.54 414.00,213.20 414.60,214.10 415.19,215.59 415.78,214.56 416.38,214.64 416.98,213.86 417.57,215.31 418.17,216.75 418.76,216.97 419.35,217.17 419.95,216.69 420.55,217.96 421.14,218.00 421.74,218.52 422.33,218.25 422.93,217.86 423.52,216.19 424.12,216.10 424.71,217.32 425.31,217.93 425.90,216.59 426.50,214.89 427.09,213.05 427.69,213.42 428.28,215.35 428.88,215.53 429.47,213.74 430.06,212.92 430.66,213.28 431.25,214.44 431.85,216.21 432.44,217.19 433.04,218.01 433.63,218.48 434.23,218.59 434.83,218.87 435.42,218.03 436.01,217.09 436.61,215.83 437.20,215.55 437.80,215.94 438.40,216.70 438.99,217.27 439.58,217.03 440.18,216.40 440.77,214.92 441.37,215.54 441.97,214.28 442.56,214.81 443.16,214.94 443.75,214.28 444.34,214.64 444.94,213.27 445.54,215.00 446.13,214.26 446.73,215.56 447.32,215.76 447.91,216.46 448.51,215.07 449.11,215.58 449.70,216.27 450.30,217.15 450.89,216.30 451.49,215.61 452.08,216.24 452.68,215.24 453.27,215.31 453.87,214.25 454.46,214.50 455.06,215.81 455.65,216.17 456.25,216.86 456.84,215.96 457.44,215.97 458.03,214.81 458.62,215.80 459.22,215.35" fill="none" stroke="#363c52" stroke-width="1.7" stroke-linejoin="round" />
<rect x="38.60" y="205.50" width="428.40" height="41.30" fill="none" stroke="#1a1a1a" stroke-width="1.2" />
<line x1="35.10" y1="207.80" x2="38.60" y2="207.80" stroke="#1a1a1a" stroke-width="1.1" />
<text x="32.00" y="210.80" font-size="8.6" fill="#1a1a1a" stroke="#1a1a1a" stroke-width="0.18" text-anchor="end" >40</text>
<line x1="35.10" y1="217.00" x2="38.60" y2="217.00" stroke="#1a1a1a" stroke-width="1.1" />
<text x="32.00" y="220.00" font-size="8.6" fill="#1a1a1a" stroke="#1a1a1a" stroke-width="0.18" text-anchor="end" >36</text>
<line x1="35.10" y1="226.20" x2="38.60" y2="226.20" stroke="#1a1a1a" stroke-width="1.1" />
<text x="32.00" y="229.20" font-size="8.6" fill="#1a1a1a" stroke="#1a1a1a" stroke-width="0.18" text-anchor="end" >32</text>
<line x1="467.00" y1="245.10" x2="470.40" y2="245.10" stroke="#1a1a1a" stroke-width="1.1" />
<text x="473.60" y="248.10" font-size="8.6" fill="#d8880f" stroke="#d8880f" stroke-width="0.18" text-anchor="start" >0</text>
<line x1="467.00" y1="226.55" x2="470.40" y2="226.55" stroke="#1a1a1a" stroke-width="1.1" />
<text x="473.60" y="229.55" font-size="8.6" fill="#d8880f" stroke="#d8880f" stroke-width="0.18" text-anchor="start" >10</text>
<line x1="467.00" y1="208.00" x2="470.40" y2="208.00" stroke="#1a1a1a" stroke-width="1.1" />
<text x="473.60" y="211.00" font-size="8.6" fill="#d8880f" stroke="#d8880f" stroke-width="0.18" text-anchor="start" >20</text>
<rect x="500.60" y="205.50" width="11.90" height="41.30" fill="#4f5568" stroke="#111" stroke-width="1.1" />
<text x="506.55" y="226.15" font-size="8.1" fill="#fff" text-anchor="middle" dominant-baseline="central" transform="rotate(90 506.55 226.15)">Naïve</text>
<line x1="130.78" y1="254.50" x2="130.78" y2="295.80" stroke="#3a3a3a" stroke-width="1.0" stroke-dasharray="2.8,3.6"/>
<line x1="230.74" y1="254.50" x2="230.74" y2="295.80" stroke="#3a3a3a" stroke-width="1.0" stroke-dasharray="2.8,3.6"/>
<line x1="330.70" y1="254.50" x2="330.70" y2="295.80" stroke="#3a3a3a" stroke-width="1.0" stroke-dasharray="2.8,3.6"/>
<line x1="430.66" y1="254.50" x2="430.66" y2="295.80" stroke="#3a3a3a" stroke-width="1.0" stroke-dasharray="2.8,3.6"/>
<rect x="39.10" y="290.60" width="12.00" height="2.00" fill="#e08a00" stroke="none" stroke-width="1" />
<rect x="53.38" y="290.60" width="12.00" height="2.00" fill="#e08a00" stroke="none" stroke-width="1" />
<rect x="67.66" y="290.60" width="12.00" height="2.00" fill="#e08a00" stroke="none" stroke-width="1" />
<rect x="81.94" y="290.60" width="12.00" height="2.00" fill="#e08a00" stroke="none" stroke-width="1" />
<rect x="96.22" y="290.20" width="12.00" height="2.00" fill="#e08a00" stroke="none" stroke-width="1" />
<rect x="110.50" y="290.60" width="12.00" height="2.00" fill="#e08a00" stroke="none" stroke-width="1" />
<rect x="124.78" y="290.60" width="12.00" height="2.00" fill="#e08a00" stroke="none" stroke-width="1" />
<rect x="139.06" y="290.60" width="12.00" height="2.00" fill="#e08a00" stroke="none" stroke-width="1" />
<rect x="153.34" y="290.60" width="12.00" height="2.00" fill="#e08a00" stroke="none" stroke-width="1" />
<rect x="167.62" y="290.60" width="12.00" height="2.00" fill="#e08a00" stroke="none" stroke-width="1" />
<rect x="181.90" y="290.60" width="12.00" height="2.00" fill="#e08a00" stroke="none" stroke-width="1" />
<rect x="196.18" y="290.60" width="12.00" height="2.00" fill="#e08a00" stroke="none" stroke-width="1" />
<rect x="210.46" y="290.60" width="12.00" height="2.00" fill="#e08a00" stroke="none" stroke-width="1" />
<rect x="224.74" y="290.40" width="12.00" height="2.00" fill="#e08a00" stroke="none" stroke-width="1" />
<rect x="239.02" y="290.60" width="12.00" height="2.00" fill="#e08a00" stroke="none" stroke-width="1" />
<rect x="253.30" y="290.60" width="12.00" height="2.00" fill="#e08a00" stroke="none" stroke-width="1" />
<rect x="267.58" y="290.60" width="12.00" height="2.00" fill="#e08a00" stroke="none" stroke-width="1" />
<rect x="282.26" y="288.90" width="11.20" height="3.70" fill="#fff" stroke="#e08a00" stroke-width="1.0" />
<line x1="282.26" y1="291.40" x2="293.46" y2="291.40" stroke="#e08a00" stroke-width="1.4" />
<rect x="296.14" y="290.60" width="12.00" height="2.00" fill="#e08a00" stroke="none" stroke-width="1" />
<rect x="310.42" y="290.60" width="12.00" height="2.00" fill="#e08a00" stroke="none" stroke-width="1" />
<rect x="324.70" y="290.60" width="12.00" height="2.00" fill="#e08a00" stroke="none" stroke-width="1" />
<rect x="339.38" y="288.60" width="11.20" height="3.20" fill="#fff" stroke="#e08a00" stroke-width="1.0" />
<line x1="339.38" y1="290.40" x2="350.58" y2="290.40" stroke="#e08a00" stroke-width="1.4" />
<rect x="353.26" y="290.60" width="12.00" height="2.00" fill="#e08a00" stroke="none" stroke-width="1" />
<rect x="367.54" y="290.60" width="12.00" height="2.00" fill="#e08a00" stroke="none" stroke-width="1" />
<rect x="382.22" y="290.20" width="11.20" height="2.00" fill="#fff" stroke="#e08a00" stroke-width="1.0" />
<line x1="382.22" y1="291.40" x2="393.42" y2="291.40" stroke="#e08a00" stroke-width="1.4" />
<rect x="396.10" y="290.60" width="12.00" height="2.00" fill="#e08a00" stroke="none" stroke-width="1" />
<rect x="410.38" y="290.60" width="12.00" height="2.00" fill="#e08a00" stroke="none" stroke-width="1" />
<rect x="424.66" y="290.60" width="12.00" height="2.00" fill="#e08a00" stroke="none" stroke-width="1" />
<rect x="438.94" y="290.60" width="12.00" height="2.00" fill="#e08a00" stroke="none" stroke-width="1" />
<rect x="453.22" y="290.60" width="12.00" height="2.00" fill="#e08a00" stroke="none" stroke-width="1" />
<polyline points="45.10,263.06 45.70,263.87 46.29,264.24 46.88,265.43 47.48,266.22 48.07,266.51 48.67,266.52 49.27,266.83 49.86,267.94 50.45,267.58 51.05,266.86 51.64,266.76 52.24,265.78 52.84,265.05 53.43,264.37 54.02,263.31 54.62,262.07 55.21,262.54 55.81,263.01 56.41,262.93 57.00,263.57 57.59,263.15 58.19,263.08 58.78,262.69 59.38,262.88 59.98,263.35 60.57,263.91 61.16,264.42 61.76,265.55 62.35,266.35 62.95,266.26 63.55,266.40 64.14,266.55 64.73,266.25 65.33,266.50 65.92,266.90 66.52,266.25 67.12,266.24 67.71,265.90 68.31,264.36 68.90,263.98 69.50,263.82 70.09,263.61 70.69,263.19 71.28,263.95 71.88,264.83 72.47,264.92 73.06,264.85 73.66,264.31 74.25,264.47 74.85,265.64 75.44,265.96 76.04,266.39 76.64,265.91 77.23,266.25 77.82,266.06 78.42,266.53 79.02,267.14 79.61,266.62 80.21,265.92 80.80,265.69 81.39,266.01 81.99,264.94 82.59,263.35 83.18,263.44 83.78,263.04 84.37,262.49 84.97,262.05 85.56,262.39 86.16,262.45 86.75,262.53 87.34,263.34 87.94,264.09 88.53,263.71 89.13,264.66 89.72,265.15 90.32,265.83 90.91,266.09 91.51,267.07 92.10,266.81 92.70,267.73 93.30,266.81 93.89,266.49 94.48,265.24 95.08,265.18 95.67,265.48 96.27,265.31 96.87,264.39 97.46,263.41 98.06,262.93 98.65,261.84 99.25,262.62 99.84,263.00 100.44,262.73 101.03,262.52 101.62,262.35 102.22,260.87 102.81,261.73 103.41,262.91 104.00,264.46 104.60,264.81 105.19,264.29 105.79,263.74 106.39,264.02 106.98,264.64 107.57,264.97 108.17,265.27 108.76,265.77 109.36,266.10 109.96,264.45 110.55,263.77 111.15,262.81 111.74,262.97 112.34,262.47 112.93,262.57 113.53,261.49 114.12,263.01 114.72,263.33 115.31,264.01 115.91,263.81 116.50,263.66 117.09,263.19 117.69,263.54 118.28,265.56 118.88,265.78 119.47,266.94 120.07,270.32 120.66,270.88 121.26,268.27 121.85,266.86 122.45,267.21 123.04,266.95 123.64,266.00 124.24,265.44 124.83,264.51 125.43,264.56 126.02,264.23 126.61,264.82 127.21,264.62 127.81,264.53 128.40,264.05 129.00,263.73 129.59,263.43 130.19,263.71 130.78,264.55 131.38,264.82 131.97,264.47 132.56,266.09 133.16,265.81 133.75,267.18 134.35,267.21 134.94,267.79 135.54,268.23 136.13,267.73 136.73,267.08 137.32,267.33 137.92,267.08 138.52,265.93 139.11,265.90 139.70,265.87 140.30,264.81 140.89,264.25 141.49,264.50 142.09,265.29 142.68,266.16 143.28,265.27 143.87,264.80 144.47,264.32 145.06,264.54 145.66,264.07 146.25,265.57 146.84,266.46 147.44,266.97 148.03,267.23 148.63,267.50 149.22,267.47 149.82,266.69 150.41,267.07 151.01,267.36 151.60,267.34 152.20,267.56 152.79,266.62 153.39,265.58 153.98,264.07 154.58,263.81 155.17,263.69 155.77,264.71 156.37,264.96 156.96,265.01 157.56,264.08 158.15,264.22 158.75,263.44 159.34,264.23 159.93,264.54 160.53,266.46 161.12,266.76 161.72,268.07 162.31,269.03 162.91,268.93 163.50,267.54 164.10,266.32 164.69,266.62 165.29,266.62 165.88,266.70 166.48,265.90 167.07,266.76 167.67,266.51 168.26,266.09 168.86,265.15 169.46,264.88 170.05,264.14 170.64,264.78 171.24,264.58 171.84,264.41 172.43,265.00 173.03,264.66 173.62,263.78 174.21,263.60 174.81,264.52 175.41,264.87 176.00,266.50 176.59,266.90 177.19,267.47 177.78,268.10 178.38,268.00 178.97,267.97 179.57,267.98 180.16,267.71 180.76,267.37 181.35,267.28 181.95,266.48 182.54,265.31 183.14,264.51 183.73,264.96 184.33,264.73 184.92,265.57 185.52,265.49 186.11,265.30 186.71,264.82 187.31,264.61 187.90,264.76 188.49,264.45 189.09,265.35 189.68,267.01 190.28,267.38 190.88,267.36 191.47,266.84 192.06,267.25 192.66,266.97 193.25,267.58 193.85,267.20 194.44,268.01 195.04,268.37 195.63,268.04 196.23,266.61 196.82,264.33 197.42,264.20 198.01,263.98 198.61,263.61 199.20,263.18 199.80,262.22 200.39,261.77 200.99,262.33 201.59,263.23 202.18,263.36 202.77,263.62 203.37,264.80 203.96,266.82 204.56,267.72 205.16,267.88 205.75,268.03 206.34,268.34 206.94,268.14 207.53,267.76 208.13,267.03 208.72,267.35 209.32,267.92 209.91,267.40 210.51,266.43 211.10,265.37 211.70,264.36 212.29,264.94 212.89,264.96 213.48,265.15 214.08,264.59 214.67,264.39 215.27,264.17 215.87,264.09 216.46,263.85 217.05,264.69 217.65,265.53 218.24,267.98 218.84,267.96 219.44,268.33 220.03,268.56 220.62,268.46 221.22,268.62 221.81,269.36 222.41,269.75 223.00,269.46 223.60,268.69 224.19,268.32 224.79,266.51 225.38,265.35 225.98,264.03 226.57,264.57 227.17,264.07 227.76,263.63 228.36,264.22 228.95,265.01 229.55,263.99 230.14,263.60 230.74,263.09 231.33,263.64 231.93,264.74 232.52,266.44 233.12,267.69 233.72,268.64 234.31,268.88 234.90,268.84 235.50,268.70 236.09,268.86 236.69,267.71 237.28,268.14 237.88,268.32 238.47,268.22 239.07,266.43 239.66,264.89 240.26,262.98 240.85,264.13 241.45,264.35 242.04,263.50 242.64,263.39 243.23,263.18 243.83,263.52 244.42,263.20 245.02,263.51 245.61,264.34 246.21,265.19 246.80,265.89 247.40,267.02 248.00,266.97 248.59,266.23 249.18,266.98 249.78,268.33 250.37,269.33 250.97,269.22 251.56,268.77 252.16,269.01 252.75,267.82 253.35,266.58 253.94,264.22 254.54,262.95 255.13,261.77 255.73,261.46 256.32,261.48 256.92,261.72 257.51,262.51 258.11,262.31 258.70,262.58 259.30,263.42 259.89,264.48 260.49,265.87 261.08,267.00 261.68,267.78 262.28,267.79 262.87,267.41 263.46,266.95 264.06,266.48 264.65,266.22 265.25,267.16 265.85,267.81 266.44,268.06 267.03,267.13 267.63,266.11 268.23,263.88 268.82,263.81 269.42,262.92 270.01,262.97 270.61,262.78 271.20,263.49 271.80,263.20 272.39,263.72 272.99,263.69 273.58,264.37 274.18,264.76 274.77,265.84 275.37,267.26 275.96,267.80 276.56,267.40 277.15,267.09 277.75,267.29 278.34,267.54 278.94,267.89 279.53,267.86 280.12,266.74 280.72,267.04 281.31,266.43 281.91,266.13 282.50,264.31 283.10,263.84 283.69,263.03 284.29,262.46 284.88,261.95 285.48,262.09 286.07,262.83 286.67,263.49 287.26,263.54 287.86,263.97 288.46,264.40 289.05,265.10 289.64,266.31 290.24,267.02 290.83,267.36 291.43,267.95 292.03,268.83 292.62,268.03 293.21,267.65 293.81,267.27 294.40,266.96 295.00,266.19 295.60,266.21 296.19,266.00 296.79,264.67 297.38,263.53 297.97,262.89 298.57,263.74 299.17,263.96 299.76,264.05 300.36,263.70 300.95,262.91 301.55,262.53 302.14,263.18 302.74,263.63 303.33,265.21 303.93,267.39 304.52,267.30 305.12,267.23 305.71,267.18 306.31,268.05 306.90,268.80 307.50,269.04 308.09,268.84 308.69,268.23 309.28,266.65 309.88,266.87 310.47,265.79 311.06,264.84 311.66,263.90 312.25,263.67 312.85,262.81 313.45,262.59 314.04,263.21 314.63,263.32 315.23,263.27 315.82,262.37 316.42,262.26 317.02,262.93 317.61,264.53 318.20,266.47 318.80,267.24 319.39,268.36 319.99,268.12 320.59,268.99 321.18,267.87 321.78,267.08 322.37,266.83 322.96,266.89 323.56,265.88 324.16,264.98 324.75,264.89 325.35,264.08 325.94,263.38 326.53,263.16 327.13,263.39 327.73,263.77 328.32,263.11 328.92,262.79 329.51,263.04 330.11,263.43 330.70,263.65 331.30,264.11 331.89,265.87 332.49,268.01 333.08,268.10 333.68,267.33 334.27,267.40 334.87,269.66 335.46,272.46 336.06,272.75 336.65,271.03 337.25,269.45 337.84,269.05 338.44,268.29 339.03,266.38 339.62,264.31 340.22,263.84 340.81,263.26 341.41,263.18 342.01,263.08 342.60,263.55 343.19,263.69 343.79,264.02 344.38,263.96 344.98,263.62 345.58,263.54 346.17,263.92 346.76,265.68 347.36,266.92 347.95,267.90 348.55,266.73 349.15,266.29 349.74,266.77 350.34,266.35 350.93,266.32 351.52,267.58 352.12,267.60 352.72,267.87 353.31,266.63 353.91,265.25 354.50,263.44 355.09,263.20 355.69,263.04 356.29,263.16 356.88,262.92 357.48,262.75 358.07,262.58 358.66,262.90 359.26,263.20 359.86,263.21 360.45,265.23 361.05,266.64 361.64,267.13 362.24,267.11 362.83,267.04 363.43,267.51 364.02,267.36 364.62,266.96 365.21,266.88 365.81,266.44 366.40,266.80 367.00,267.24 367.59,267.24 368.19,265.17 368.78,263.42 369.38,262.96 369.97,262.31 370.56,262.17 371.16,261.99 371.75,262.63 372.35,262.71 372.94,262.85 373.54,262.92 374.14,264.11 374.73,265.27 375.32,266.07 375.92,266.62 376.51,267.40 377.11,266.99 377.71,267.66 378.30,267.25 378.89,267.07 379.49,266.68 380.08,266.88 380.68,268.25 381.28,267.75 381.87,266.67 382.47,264.18 383.06,263.64 383.65,264.16 384.25,264.16 384.85,264.09 385.44,263.31 386.04,264.30 386.63,263.64 387.22,264.13 387.82,264.11 388.42,264.31 389.01,264.07 389.61,265.72 390.20,267.11 390.80,266.57 391.39,266.45 391.99,266.63 392.58,267.77 393.18,267.44 393.77,268.26 394.37,268.09 394.96,268.62 395.56,267.60 396.15,265.46 396.75,263.14 397.34,261.81 397.94,262.53 398.53,263.49 399.12,264.13 399.72,263.86 400.31,263.98 400.91,263.75 401.50,262.65 402.10,262.15 402.70,261.92 403.29,263.34 403.88,265.57 404.48,266.91 405.07,267.31 405.67,266.30 406.27,266.04 406.86,266.11 407.45,267.40 408.05,268.66 408.64,268.11 409.24,267.18 409.84,267.27 410.43,265.92 411.03,264.76 411.62,264.13 412.21,263.77 412.81,263.19 413.41,262.46 414.00,262.93 414.60,262.48 415.19,263.06 415.78,262.80 416.38,262.13 416.98,262.73 417.57,264.35 418.17,266.98 418.76,267.11 419.35,267.42 419.95,267.16 420.55,267.62 421.14,268.21 421.74,268.13 422.33,267.87 422.93,266.65 423.52,266.76 424.12,266.07 424.71,265.41 425.31,264.29 425.90,263.61 426.50,262.94 427.09,263.54 427.69,263.12 428.28,263.28 428.88,263.34 429.47,263.46 430.06,263.96 430.66,263.78 431.25,263.27 431.85,263.97 432.44,265.84 433.04,266.92 433.63,266.40 434.23,266.43 434.83,265.81 435.42,266.52 436.01,266.23 436.61,266.45 437.20,266.12 437.80,266.82 438.40,265.96 438.99,265.41 439.58,263.85 440.18,263.27 440.77,263.76 441.37,264.88 441.97,264.20 442.56,264.21 443.16,262.69 443.75,262.44 444.34,262.89 444.94,263.66 445.54,265.02 446.13,265.52 446.73,267.98 447.32,268.59 447.91,267.68 448.51,266.34 449.11,266.62 449.70,266.53 450.30,266.23 450.89,266.06 451.49,266.09 452.08,266.28 452.68,267.08 453.27,266.90 453.87,265.31 454.46,263.46 455.06,263.75 455.65,263.06 456.25,262.77 456.84,262.53 457.44,262.78 458.03,263.03 458.62,263.29 459.22,263.77" fill="none" stroke="#5aa533" stroke-width="1.7" stroke-linejoin="round" />
<rect x="38.60" y="254.50" width="428.40" height="41.30" fill="none" stroke="#1a1a1a" stroke-width="1.2" />
<line x1="35.10" y1="256.80" x2="38.60" y2="256.80" stroke="#1a1a1a" stroke-width="1.1" />
<text x="32.00" y="259.80" font-size="8.6" fill="#1a1a1a" stroke="#1a1a1a" stroke-width="0.18" text-anchor="end" >40</text>
<line x1="35.10" y1="266.00" x2="38.60" y2="266.00" stroke="#1a1a1a" stroke-width="1.1" />
<text x="32.00" y="269.00" font-size="8.6" fill="#1a1a1a" stroke="#1a1a1a" stroke-width="0.18" text-anchor="end" >36</text>
<line x1="35.10" y1="275.20" x2="38.60" y2="275.20" stroke="#1a1a1a" stroke-width="1.1" />
<text x="32.00" y="278.20" font-size="8.6" fill="#1a1a1a" stroke="#1a1a1a" stroke-width="0.18" text-anchor="end" >32</text>
<line x1="467.00" y1="294.10" x2="470.40" y2="294.10" stroke="#1a1a1a" stroke-width="1.1" />
<text x="473.60" y="297.10" font-size="8.6" fill="#d8880f" stroke="#d8880f" stroke-width="0.18" text-anchor="start" >0</text>
<line x1="467.00" y1="275.55" x2="470.40" y2="275.55" stroke="#1a1a1a" stroke-width="1.1" />
<text x="473.60" y="278.55" font-size="8.6" fill="#d8880f" stroke="#d8880f" stroke-width="0.18" text-anchor="start" >10</text>
<line x1="467.00" y1="257.00" x2="470.40" y2="257.00" stroke="#1a1a1a" stroke-width="1.1" />
<text x="473.60" y="260.00" font-size="8.6" fill="#d8880f" stroke="#d8880f" stroke-width="0.18" text-anchor="start" >20</text>
<rect x="500.60" y="254.50" width="11.90" height="41.30" fill="#6aaf45" stroke="#111" stroke-width="1.1" />
<text x="506.55" y="275.15" font-size="8.1" fill="#fff" text-anchor="middle" dominant-baseline="central" transform="rotate(90 506.55 275.15)">SynHighT</text>
<line x1="130.78" y1="303.50" x2="130.78" y2="344.80" stroke="#3a3a3a" stroke-width="1.0" stroke-dasharray="2.8,3.6"/>
<line x1="230.74" y1="303.50" x2="230.74" y2="344.80" stroke="#3a3a3a" stroke-width="1.0" stroke-dasharray="2.8,3.6"/>
<line x1="330.70" y1="303.50" x2="330.70" y2="344.80" stroke="#3a3a3a" stroke-width="1.0" stroke-dasharray="2.8,3.6"/>
<line x1="430.66" y1="303.50" x2="430.66" y2="344.80" stroke="#3a3a3a" stroke-width="1.0" stroke-dasharray="2.8,3.6"/>
<rect x="39.10" y="340.30" width="12.00" height="2.00" fill="#e08a00" stroke="none" stroke-width="1" />
<rect x="53.38" y="340.30" width="12.00" height="2.00" fill="#e08a00" stroke="none" stroke-width="1" />
<rect x="67.66" y="340.30" width="12.00" height="2.00" fill="#e08a00" stroke="none" stroke-width="1" />
<rect x="81.94" y="340.30" width="12.00" height="2.00" fill="#e08a00" stroke="none" stroke-width="1" />
<rect x="96.22" y="340.30" width="12.00" height="2.00" fill="#e08a00" stroke="none" stroke-width="1" />
<rect x="110.50" y="340.30" width="12.00" height="2.00" fill="#e08a00" stroke="none" stroke-width="1" />
<rect x="124.78" y="340.30" width="12.00" height="2.00" fill="#e08a00" stroke="none" stroke-width="1" />
<rect x="139.06" y="340.30" width="12.00" height="2.00" fill="#e08a00" stroke="none" stroke-width="1" />
<rect x="153.34" y="340.30" width="12.00" height="2.00" fill="#e08a00" stroke="none" stroke-width="1" />
<rect x="167.62" y="340.30" width="12.00" height="2.00" fill="#e08a00" stroke="none" stroke-width="1" />
<rect x="181.90" y="340.30" width="12.00" height="2.00" fill="#e08a00" stroke="none" stroke-width="1" />
<rect x="196.18" y="339.40" width="12.00" height="2.00" fill="#e08a00" stroke="none" stroke-width="1" />
<rect x="210.46" y="339.40" width="12.00" height="2.00" fill="#e08a00" stroke="none" stroke-width="1" />
<rect x="224.74" y="339.40" width="12.00" height="2.00" fill="#e08a00" stroke="none" stroke-width="1" />
<rect x="239.02" y="340.30" width="12.00" height="2.00" fill="#e08a00" stroke="none" stroke-width="1" />
<rect x="253.30" y="340.30" width="12.00" height="2.00" fill="#e08a00" stroke="none" stroke-width="1" />
<rect x="267.58" y="340.30" width="12.00" height="2.00" fill="#e08a00" stroke="none" stroke-width="1" />
<rect x="281.86" y="340.30" width="12.00" height="2.00" fill="#e08a00" stroke="none" stroke-width="1" />
<rect x="296.14" y="340.30" width="12.00" height="2.00" fill="#e08a00" stroke="none" stroke-width="1" />
<rect x="310.82" y="338.20" width="11.20" height="3.30" fill="#fff" stroke="#e08a00" stroke-width="1.0" />
<line x1="310.82" y1="340.00" x2="322.02" y2="340.00" stroke="#e08a00" stroke-width="1.4" />
<rect x="324.70" y="339.10" width="12.00" height="2.00" fill="#e08a00" stroke="none" stroke-width="1" />
<line x1="344.98" y1="332.30" x2="344.98" y2="333.50" stroke="#e08a00" stroke-width="1.0" />
<rect x="339.38" y="333.50" width="11.20" height="8.00" fill="#fff" stroke="#e08a00" stroke-width="1.0" />
<line x1="339.38" y1="338.20" x2="350.58" y2="338.20" stroke="#e08a00" stroke-width="1.4" />
<rect x="353.66" y="333.70" width="11.20" height="5.40" fill="#fff" stroke="#e08a00" stroke-width="1.0" />
<line x1="353.66" y1="337.00" x2="364.86" y2="337.00" stroke="#e08a00" stroke-width="1.4" />
<line x1="373.54" y1="329.00" x2="373.54" y2="331.80" stroke="#e08a00" stroke-width="1.0" />
<line x1="373.54" y1="339.90" x2="373.54" y2="341.00" stroke="#e08a00" stroke-width="1.0" />
<rect x="367.94" y="331.80" width="11.20" height="8.10" fill="#fff" stroke="#e08a00" stroke-width="1.0" />
<line x1="367.94" y1="336.00" x2="379.14" y2="336.00" stroke="#e08a00" stroke-width="1.4" />
<line x1="387.82" y1="324.20" x2="387.82" y2="332.50" stroke="#e08a00" stroke-width="1.0" />
<line x1="387.82" y1="340.30" x2="387.82" y2="341.50" stroke="#e08a00" stroke-width="1.0" />
<rect x="382.22" y="332.50" width="11.20" height="7.80" fill="#fff" stroke="#e08a00" stroke-width="1.0" />
<line x1="382.22" y1="335.50" x2="393.42" y2="335.50" stroke="#e08a00" stroke-width="1.4" />
<line x1="402.10" y1="326.30" x2="402.10" y2="334.30" stroke="#e08a00" stroke-width="1.0" />
<line x1="402.10" y1="340.30" x2="402.10" y2="341.20" stroke="#e08a00" stroke-width="1.0" />
<rect x="396.50" y="334.30" width="11.20" height="6.00" fill="#fff" stroke="#e08a00" stroke-width="1.0" />
<line x1="396.50" y1="336.50" x2="407.70" y2="336.50" stroke="#e08a00" stroke-width="1.4" />
<line x1="416.38" y1="332.90" x2="416.38" y2="335.10" stroke="#e08a00" stroke-width="1.0" />
<line x1="416.38" y1="340.70" x2="416.38" y2="341.50" stroke="#e08a00" stroke-width="1.0" />
<rect x="410.78" y="335.10" width="11.20" height="5.60" fill="#fff" stroke="#e08a00" stroke-width="1.0" />
<line x1="410.78" y1="337.50" x2="421.98" y2="337.50" stroke="#e08a00" stroke-width="1.4" />
<line x1="430.66" y1="328.50" x2="430.66" y2="330.30" stroke="#e08a00" stroke-width="1.0" />
<line x1="430.66" y1="338.40" x2="430.66" y2="342.00" stroke="#e08a00" stroke-width="1.0" />
<rect x="425.06" y="330.30" width="11.20" height="8.10" fill="#fff" stroke="#e08a00" stroke-width="1.0" />
<line x1="425.06" y1="336.00" x2="436.26" y2="336.00" stroke="#e08a00" stroke-width="1.4" />
<line x1="444.94" y1="318.20" x2="444.94" y2="324.70" stroke="#e08a00" stroke-width="1.0" />
<line x1="444.94" y1="336.00" x2="444.94" y2="340.70" stroke="#e08a00" stroke-width="1.0" />
<rect x="439.34" y="324.70" width="11.20" height="11.30" fill="#fff" stroke="#e08a00" stroke-width="1.0" />
<line x1="439.34" y1="335.10" x2="450.54" y2="335.10" stroke="#e08a00" stroke-width="1.4" />
<line x1="459.22" y1="331.10" x2="459.22" y2="332.40" stroke="#e08a00" stroke-width="1.0" />
<line x1="459.22" y1="339.40" x2="459.22" y2="341.50" stroke="#e08a00" stroke-width="1.0" />
<rect x="453.62" y="332.40" width="11.20" height="7.00" fill="#fff" stroke="#e08a00" stroke-width="1.0" />
<line x1="453.62" y1="336.30" x2="464.82" y2="336.30" stroke="#e08a00" stroke-width="1.4" />
<polyline points="45.10,312.34 45.70,313.01 46.29,313.35 46.88,312.74 47.48,312.29 48.07,312.17 48.67,312.37 49.27,313.37 49.86,314.19 50.45,315.08 51.05,315.38 51.64,314.35 52.24,313.80 52.84,314.13 53.43,314.08 54.02,314.11 54.62,313.15 55.21,312.61 55.81,312.07 56.41,312.95 57.00,313.18 57.59,313.80 58.19,312.47 58.78,313.10 59.38,312.48 59.98,312.79 60.57,313.35 61.16,313.89 61.76,315.08 62.35,314.53 62.95,315.07 63.55,314.56 64.14,314.49 64.73,314.60 65.33,314.90 65.92,314.13 66.52,313.21 67.12,313.26 67.71,313.06 68.31,313.79 68.90,313.57 69.50,312.80 70.09,312.86 70.69,312.77 71.28,313.24 71.88,312.66 72.47,312.91 73.06,312.91 73.66,313.43 74.25,313.77 74.85,313.77 75.44,313.21 76.04,312.40 76.64,313.29 77.23,313.04 77.82,313.17 78.42,313.39 79.02,314.41 79.61,314.07 80.21,314.27 80.80,314.00 81.39,314.64 81.99,313.66 82.59,313.86 83.18,312.27 83.78,312.78 84.37,313.06 84.97,313.68 85.56,313.27 86.16,312.76 86.75,312.28 87.34,312.07 87.94,312.35 88.53,312.16 89.13,312.52 89.72,312.61 90.32,312.34 90.91,311.75 91.51,313.41 92.10,314.63 92.70,315.54 93.30,315.66 93.89,315.59 94.48,314.53 95.08,314.73 95.67,313.36 96.27,313.21 96.87,312.50 97.46,312.15 98.06,311.45 98.65,311.81 99.25,311.37 99.84,311.13 100.44,311.56 101.03,312.42 101.62,312.78 102.22,313.24 102.81,313.14 103.41,313.25 104.00,313.43 104.60,312.29 105.19,312.27 105.79,312.48 106.39,313.42 106.98,313.87 107.57,314.36 108.17,314.10 108.76,312.88 109.36,313.39 109.96,312.93 110.55,312.93 111.15,312.43 111.74,313.38 112.34,313.53 112.93,313.90 113.53,312.86 114.12,313.26 114.72,313.51 115.31,313.19 115.91,313.10 116.50,312.45 117.09,313.31 117.69,313.25 118.28,313.09 118.88,311.73 119.47,310.11 120.07,311.73 120.66,314.33 121.26,315.18 121.85,315.23 122.45,314.83 123.04,313.67 123.64,313.48 124.24,312.82 124.83,312.36 125.43,311.95 126.02,312.06 126.61,312.36 127.21,313.02 127.81,313.25 128.40,313.84 129.00,313.69 129.59,313.52 130.19,312.73 130.78,313.52 131.38,313.14 131.97,313.51 132.56,313.73 133.16,313.83 133.75,314.35 134.35,314.83 134.94,315.36 135.54,315.70 136.13,316.84 136.73,317.99 137.32,316.39 137.92,314.44 138.52,314.48 139.11,313.81 139.70,313.89 140.30,312.91 140.89,312.90 141.49,312.97 142.09,313.03 142.68,313.62 143.28,313.07 143.87,313.33 144.47,313.56 145.06,313.03 145.66,313.71 146.25,314.16 146.84,314.35 147.44,314.46 148.03,314.12 148.63,314.40 149.22,314.08 149.82,316.12 150.41,318.14 151.01,319.49 151.60,317.76 152.20,316.26 152.79,314.54 153.39,314.16 153.98,314.36 154.58,314.55 155.17,314.30 155.77,313.39 156.37,313.60 156.96,312.93 157.56,313.49 158.15,314.36 158.75,314.04 159.34,313.72 159.93,313.21 160.53,313.68 161.12,313.55 161.72,313.84 162.31,314.40 162.91,315.12 163.50,316.41 164.10,316.35 164.69,317.51 165.29,317.16 165.88,316.38 166.48,314.93 167.07,314.71 167.67,314.16 168.26,313.90 168.86,312.75 169.46,312.34 170.05,312.39 170.64,313.06 171.24,313.66 171.84,313.27 172.43,313.55 173.03,313.50 173.62,313.68 174.21,312.92 174.81,313.96 175.41,313.48 176.00,313.67 176.59,312.81 177.19,314.39 177.78,315.03 178.38,315.88 178.97,317.02 179.57,317.12 180.16,316.12 180.76,315.77 181.35,314.87 181.95,315.21 182.54,314.82 183.14,314.76 183.73,314.11 184.33,313.81 184.92,312.58 185.52,312.12 186.11,312.16 186.71,312.53 187.31,313.01 187.90,313.56 188.49,313.63 189.09,313.61 189.68,313.71 190.28,314.01 190.88,314.82 191.47,314.69 192.06,314.05 192.66,315.16 193.25,317.05 193.85,317.94 194.44,316.35 195.04,315.27 195.63,314.86 196.23,314.39 196.82,314.06 197.42,313.38 198.01,312.90 198.61,312.36 199.20,313.02 199.80,313.61 200.39,313.88 200.99,314.09 201.59,313.03 202.18,312.53 202.77,312.87 203.37,313.32 203.96,314.19 204.56,314.73 205.16,314.88 205.75,315.21 206.34,316.23 206.94,316.74 207.53,317.89 208.13,317.48 208.72,315.82 209.32,314.32 209.91,314.35 210.51,314.06 211.10,314.54 211.70,314.54 212.29,314.69 212.89,314.14 213.48,314.37 214.08,313.30 214.67,312.50 215.27,312.64 215.87,313.05 216.46,313.47 217.05,313.82 217.65,314.43 218.24,314.63 218.84,314.36 219.44,314.80 220.03,315.27 220.62,316.50 221.22,316.92 221.81,318.43 222.41,317.68 223.00,316.12 223.60,314.50 224.19,314.52 224.79,314.36 225.38,315.06 225.98,314.81 226.57,314.71 227.17,313.22 227.76,312.86 228.36,312.83 228.95,312.66 229.55,312.71 230.14,313.83 230.74,314.42 231.33,314.95 231.93,314.88 232.52,314.87 233.12,314.76 233.72,315.04 234.31,315.26 234.90,316.30 235.50,318.07 236.09,319.95 236.69,320.12 237.28,316.78 237.88,316.37 238.47,315.44 239.07,314.89 239.66,314.40 240.26,314.20 240.85,313.43 241.45,312.80 242.04,312.88 242.64,313.12 243.23,313.04 243.83,313.02 244.42,312.91 245.02,312.57 245.61,312.87 246.21,313.66 246.80,314.30 247.40,315.13 248.00,315.69 248.59,316.48 249.18,318.22 249.78,319.16 250.37,321.41 250.97,321.07 251.56,318.65 252.16,316.99 252.75,316.38 253.35,315.33 253.94,314.19 254.54,313.74 255.13,314.08 255.73,314.16 256.32,313.98 256.92,313.77 257.51,313.13 258.11,313.74 258.70,313.43 259.30,314.19 259.89,313.01 260.49,312.82 261.08,313.16 261.68,313.96 262.28,313.92 262.87,315.05 263.46,316.08 264.06,317.68 264.65,320.22 265.25,321.01 265.85,318.35 266.44,317.11 267.03,315.80 267.63,315.20 268.23,314.83 268.82,315.19 269.42,314.11 270.01,313.17 270.61,311.94 271.20,312.54 271.80,312.33 272.39,313.14 272.99,313.55 273.58,313.50 274.18,313.32 274.77,313.54 275.37,314.19 275.96,314.98 276.56,315.75 277.15,315.51 277.75,316.50 278.34,318.17 278.94,320.55 279.53,320.84 280.12,318.30 280.72,317.06 281.31,315.93 281.91,315.12 282.50,314.56 283.10,314.91 283.69,314.76 284.29,314.46 284.88,314.73 285.48,313.73 286.07,313.93 286.67,313.43 287.26,313.74 287.86,314.31 288.46,314.72 289.05,314.42 289.64,314.34 290.24,313.95 290.83,313.82 291.43,314.68 292.03,315.77 292.62,317.53 293.21,319.43 293.81,320.79 294.40,318.03 295.00,317.63 295.60,315.97 296.19,315.35 296.79,314.79 297.38,314.58 297.97,314.41 298.57,314.16 299.17,314.14 299.76,313.89 300.36,313.92 300.95,313.23 301.55,313.34 302.14,313.02 302.74,312.56 303.33,313.46 303.93,314.05 304.52,314.62 305.12,314.66 305.71,315.39 306.31,316.93 306.90,318.45 307.50,320.99 308.09,320.81 308.69,318.65 309.28,317.06 309.88,315.97 310.47,315.21 311.06,314.25 311.66,314.39 312.25,314.36 312.85,314.62 313.45,314.61 314.04,314.31 314.63,314.39 315.23,314.67 315.82,315.21 316.42,315.05 317.02,314.22 317.61,313.35 318.20,312.30 318.80,311.95 319.39,312.73 319.99,314.83 320.59,316.44 321.18,318.07 321.78,320.22 322.37,320.75 322.96,318.90 323.56,317.37 324.16,316.36 324.75,315.22 325.35,314.45 325.94,314.18 326.53,313.77 327.13,313.63 327.73,313.55 328.32,313.38 328.92,313.27 329.51,312.56 330.11,312.73 330.70,314.08 331.30,314.37 331.89,314.89 332.49,314.06 333.08,314.57 333.68,315.32 334.27,317.28 334.87,318.84 335.46,321.08 336.06,324.14 336.65,325.00 337.25,321.53 337.84,318.64 338.44,316.86 339.03,315.92 339.62,315.41 340.22,314.86 340.81,314.46 341.41,314.80 342.01,314.56 342.60,314.02 343.19,314.12 343.79,313.81 344.38,313.48 344.98,313.91 345.58,315.25 346.17,315.98 346.76,317.09 347.36,316.44 347.95,315.99 348.55,316.13 349.15,317.74 349.74,319.76 350.34,322.73 350.93,323.84 351.52,321.03 352.12,319.38 352.72,317.97 353.31,316.38 353.91,315.89 354.50,315.21 355.09,315.29 355.69,315.29 356.29,314.93 356.88,314.80 357.48,314.32 358.07,313.68 358.66,313.90 359.26,314.52 359.86,314.52 360.45,314.88 361.05,315.84 361.64,316.33 362.24,315.82 362.83,316.03 363.43,317.04 364.02,319.70 364.62,322.19 365.21,323.45 365.81,321.09 366.40,318.76 367.00,317.39 367.59,316.05 368.19,315.94 368.78,315.09 369.38,314.13 369.97,313.76 370.56,313.88 371.16,313.86 371.75,313.43 372.35,313.51 372.94,313.65 373.54,314.25 374.14,314.06 374.73,314.35 375.32,314.45 375.92,315.23 376.51,316.26 377.11,317.26 377.71,318.19 378.30,318.93 378.89,322.94 379.49,323.88 380.08,321.54 380.68,319.15 381.28,318.79 381.87,317.27 382.47,316.04 383.06,314.88 383.65,313.64 384.25,313.49 384.85,313.47 385.44,313.73 386.04,314.37 386.63,313.81 387.22,314.24 387.82,314.39 388.42,314.50 389.01,314.86 389.61,315.25 390.20,315.72 390.80,314.88 391.39,315.98 391.99,317.27 392.58,319.66 393.18,321.95 393.77,323.32 394.37,320.33 394.96,318.62 395.56,316.07 396.15,315.78 396.75,314.69 397.34,315.23 397.94,314.45 398.53,314.47 399.12,314.26 399.72,313.88 400.31,313.13 400.91,312.93 401.50,313.39 402.10,313.74 402.70,313.60 403.29,313.64 403.88,313.82 404.48,314.26 405.07,315.62 405.67,317.03 406.27,318.99 406.86,320.46 407.45,323.14 408.05,322.99 408.64,319.95 409.24,317.33 409.84,315.29 410.43,314.41 411.03,315.00 411.62,315.18 412.21,314.39 412.81,313.94 413.41,313.66 414.00,313.44 414.60,312.60 415.19,312.18 415.78,313.23 416.38,314.24 416.98,314.09 417.57,313.91 418.17,314.23 418.76,314.96 419.35,316.32 419.95,316.69 420.55,318.15 421.14,319.60 421.74,323.31 422.33,323.09 422.93,320.56 423.52,318.12 424.12,316.78 424.71,315.27 425.31,314.80 425.90,314.34 426.50,313.85 427.09,312.97 427.69,312.66 428.28,313.20 428.88,314.28 429.47,313.85 430.06,313.52 430.66,312.78 431.25,313.51 431.85,314.36 432.44,314.56 433.04,314.26 433.63,314.60 434.23,315.96 434.83,317.16 435.42,319.67 436.01,322.36 436.61,323.68 437.20,320.84 437.80,319.28 438.40,317.57 438.99,316.19 439.58,315.13 440.18,315.03 440.77,314.65 441.37,314.56 441.97,313.80 442.56,313.75 443.16,313.56 443.75,313.41 444.34,313.21 444.94,313.63 445.54,313.44 446.13,314.61 446.73,315.13 447.32,316.17 447.91,316.28 448.51,317.46 449.11,318.28 449.70,320.21 450.30,322.80 450.89,323.70 451.49,319.85 452.08,317.16 452.68,316.20 453.27,315.74 453.87,315.06 454.46,314.66 455.06,314.87 455.65,314.12 456.25,314.38 456.84,314.63 457.44,314.67 458.03,314.06 458.62,313.29 459.22,312.86" fill="none" stroke="#c2007a" stroke-width="1.7" stroke-linejoin="round" />
<rect x="38.60" y="303.50" width="428.40" height="41.30" fill="none" stroke="#1a1a1a" stroke-width="1.2" />
<line x1="35.10" y1="305.80" x2="38.60" y2="305.80" stroke="#1a1a1a" stroke-width="1.1" />
<text x="32.00" y="308.80" font-size="8.6" fill="#1a1a1a" stroke="#1a1a1a" stroke-width="0.18" text-anchor="end" >40</text>
<line x1="35.10" y1="315.00" x2="38.60" y2="315.00" stroke="#1a1a1a" stroke-width="1.1" />
<text x="32.00" y="318.00" font-size="8.6" fill="#1a1a1a" stroke="#1a1a1a" stroke-width="0.18" text-anchor="end" >36</text>
<line x1="35.10" y1="324.20" x2="38.60" y2="324.20" stroke="#1a1a1a" stroke-width="1.1" />
<text x="32.00" y="327.20" font-size="8.6" fill="#1a1a1a" stroke="#1a1a1a" stroke-width="0.18" text-anchor="end" >32</text>
<line x1="467.00" y1="343.10" x2="470.40" y2="343.10" stroke="#1a1a1a" stroke-width="1.1" />
<text x="473.60" y="346.10" font-size="8.6" fill="#d8880f" stroke="#d8880f" stroke-width="0.18" text-anchor="start" >0</text>
<line x1="467.00" y1="324.55" x2="470.40" y2="324.55" stroke="#1a1a1a" stroke-width="1.1" />
<text x="473.60" y="327.55" font-size="8.6" fill="#d8880f" stroke="#d8880f" stroke-width="0.18" text-anchor="start" >10</text>
<line x1="467.00" y1="306.00" x2="470.40" y2="306.00" stroke="#1a1a1a" stroke-width="1.1" />
<text x="473.60" y="309.00" font-size="8.6" fill="#d8880f" stroke="#d8880f" stroke-width="0.18" text-anchor="start" >20</text>
<rect x="500.60" y="303.50" width="11.90" height="41.30" fill="#c8007a" stroke="#111" stroke-width="1.1" />
<text x="506.55" y="324.15" font-size="8.1" fill="#fff" text-anchor="middle" dominant-baseline="central" transform="rotate(90 506.55 324.15)">AlloHighT</text>
<line x1="45.10" y1="344.80" x2="45.10" y2="348.00" stroke="#1a1a1a" stroke-width="1.0" />
<text x="45.10" y="358.00" font-size="8.4" fill="#1a1a1a" stroke="#1a1a1a" stroke-width="0.18" text-anchor="middle" >−6</text>
<line x1="59.38" y1="344.80" x2="59.38" y2="348.00" stroke="#1a1a1a" stroke-width="1.0" />
<text x="59.38" y="358.00" font-size="8.4" fill="#1a1a1a" stroke="#1a1a1a" stroke-width="0.18" text-anchor="middle" >−5</text>
<line x1="73.66" y1="344.80" x2="73.66" y2="348.00" stroke="#1a1a1a" stroke-width="1.0" />
<text x="73.66" y="358.00" font-size="8.4" fill="#1a1a1a" stroke="#1a1a1a" stroke-width="0.18" text-anchor="middle" >−4</text>
<line x1="87.94" y1="344.80" x2="87.94" y2="348.00" stroke="#1a1a1a" stroke-width="1.0" />
<text x="87.94" y="358.00" font-size="8.4" fill="#1a1a1a" stroke="#1a1a1a" stroke-width="0.18" text-anchor="middle" >−3</text>
<line x1="102.22" y1="344.80" x2="102.22" y2="348.00" stroke="#1a1a1a" stroke-width="1.0" />
<text x="102.22" y="358.00" font-size="8.4" fill="#1a1a1a" stroke="#1a1a1a" stroke-width="0.18" text-anchor="middle" >−2</text>
<line x1="116.50" y1="344.80" x2="116.50" y2="348.00" stroke="#1a1a1a" stroke-width="1.0" />
<text x="116.50" y="358.00" font-size="8.4" fill="#1a1a1a" stroke="#1a1a1a" stroke-width="0.18" text-anchor="middle" >−1</text>
<line x1="130.78" y1="344.80" x2="130.78" y2="348.00" stroke="#1a1a1a" stroke-width="1.0" />
<text x="130.78" y="358.00" font-size="8.4" fill="#1a1a1a" stroke="#1a1a1a" stroke-width="0.18" text-anchor="middle" >0</text>
<line x1="145.06" y1="344.80" x2="145.06" y2="348.00" stroke="#1a1a1a" stroke-width="1.0" />
<text x="145.06" y="358.00" font-size="8.4" fill="#1a1a1a" stroke="#1a1a1a" stroke-width="0.18" text-anchor="middle" >1</text>
<line x1="159.34" y1="344.80" x2="159.34" y2="348.00" stroke="#1a1a1a" stroke-width="1.0" />
<text x="159.34" y="358.00" font-size="8.4" fill="#1a1a1a" stroke="#1a1a1a" stroke-width="0.18" text-anchor="middle" >2</text>
<line x1="173.62" y1="344.80" x2="173.62" y2="348.00" stroke="#1a1a1a" stroke-width="1.0" />
<text x="173.62" y="358.00" font-size="8.4" fill="#1a1a1a" stroke="#1a1a1a" stroke-width="0.18" text-anchor="middle" >3</text>
<line x1="187.90" y1="344.80" x2="187.90" y2="348.00" stroke="#1a1a1a" stroke-width="1.0" />
<text x="187.90" y="358.00" font-size="8.4" fill="#1a1a1a" stroke="#1a1a1a" stroke-width="0.18" text-anchor="middle" >4</text>
<line x1="202.18" y1="344.80" x2="202.18" y2="348.00" stroke="#1a1a1a" stroke-width="1.0" />
<text x="202.18" y="358.00" font-size="8.4" fill="#1a1a1a" stroke="#1a1a1a" stroke-width="0.18" text-anchor="middle" >5</text>
<line x1="216.46" y1="344.80" x2="216.46" y2="348.00" stroke="#1a1a1a" stroke-width="1.0" />
<text x="216.46" y="358.00" font-size="8.4" fill="#1a1a1a" stroke="#1a1a1a" stroke-width="0.18" text-anchor="middle" >6</text>
<line x1="230.74" y1="344.80" x2="230.74" y2="348.00" stroke="#1a1a1a" stroke-width="1.0" />
<text x="230.74" y="358.00" font-size="8.4" fill="#1a1a1a" stroke="#1a1a1a" stroke-width="0.18" text-anchor="middle" >7</text>
<line x1="245.02" y1="344.80" x2="245.02" y2="348.00" stroke="#1a1a1a" stroke-width="1.0" />
<text x="245.02" y="358.00" font-size="8.4" fill="#1a1a1a" stroke="#1a1a1a" stroke-width="0.18" text-anchor="middle" >8</text>
<line x1="259.30" y1="344.80" x2="259.30" y2="348.00" stroke="#1a1a1a" stroke-width="1.0" />
<text x="259.30" y="358.00" font-size="8.4" fill="#1a1a1a" stroke="#1a1a1a" stroke-width="0.18" text-anchor="middle" >9</text>
<line x1="273.58" y1="344.80" x2="273.58" y2="348.00" stroke="#1a1a1a" stroke-width="1.0" />
<text x="273.58" y="358.00" font-size="8.4" fill="#1a1a1a" stroke="#1a1a1a" stroke-width="0.18" text-anchor="middle" >10</text>
<line x1="287.86" y1="344.80" x2="287.86" y2="348.00" stroke="#1a1a1a" stroke-width="1.0" />
<text x="287.86" y="358.00" font-size="8.4" fill="#1a1a1a" stroke="#1a1a1a" stroke-width="0.18" text-anchor="middle" >11</text>
<line x1="302.14" y1="344.80" x2="302.14" y2="348.00" stroke="#1a1a1a" stroke-width="1.0" />
<text x="302.14" y="358.00" font-size="8.4" fill="#1a1a1a" stroke="#1a1a1a" stroke-width="0.18" text-anchor="middle" >12</text>
<line x1="316.42" y1="344.80" x2="316.42" y2="348.00" stroke="#1a1a1a" stroke-width="1.0" />
<text x="316.42" y="358.00" font-size="8.4" fill="#1a1a1a" stroke="#1a1a1a" stroke-width="0.18" text-anchor="middle" >13</text>
<line x1="330.70" y1="344.80" x2="330.70" y2="348.00" stroke="#1a1a1a" stroke-width="1.0" />
<text x="330.70" y="358.00" font-size="8.4" fill="#1a1a1a" stroke="#1a1a1a" stroke-width="0.18" text-anchor="middle" >14</text>
<line x1="344.98" y1="344.80" x2="344.98" y2="348.00" stroke="#1a1a1a" stroke-width="1.0" />
<text x="344.98" y="358.00" font-size="8.4" fill="#1a1a1a" stroke="#1a1a1a" stroke-width="0.18" text-anchor="middle" >15</text>
<line x1="359.26" y1="344.80" x2="359.26" y2="348.00" stroke="#1a1a1a" stroke-width="1.0" />
<text x="359.26" y="358.00" font-size="8.4" fill="#1a1a1a" stroke="#1a1a1a" stroke-width="0.18" text-anchor="middle" >16</text>
<line x1="373.54" y1="344.80" x2="373.54" y2="348.00" stroke="#1a1a1a" stroke-width="1.0" />
<text x="373.54" y="358.00" font-size="8.4" fill="#1a1a1a" stroke="#1a1a1a" stroke-width="0.18" text-anchor="middle" >17</text>
<line x1="387.82" y1="344.80" x2="387.82" y2="348.00" stroke="#1a1a1a" stroke-width="1.0" />
<text x="387.82" y="358.00" font-size="8.4" fill="#1a1a1a" stroke="#1a1a1a" stroke-width="0.18" text-anchor="middle" >18</text>
<line x1="402.10" y1="344.80" x2="402.10" y2="348.00" stroke="#1a1a1a" stroke-width="1.0" />
<text x="402.10" y="358.00" font-size="8.4" fill="#1a1a1a" stroke="#1a1a1a" stroke-width="0.18" text-anchor="middle" >19</text>
<line x1="416.38" y1="344.80" x2="416.38" y2="348.00" stroke="#1a1a1a" stroke-width="1.0" />
<text x="416.38" y="358.00" font-size="8.4" fill="#1a1a1a" stroke="#1a1a1a" stroke-width="0.18" text-anchor="middle" >20</text>
<line x1="430.66" y1="344.80" x2="430.66" y2="348.00" stroke="#1a1a1a" stroke-width="1.0" />
<text x="430.66" y="358.00" font-size="8.4" fill="#1a1a1a" stroke="#1a1a1a" stroke-width="0.18" text-anchor="middle" >21</text>
<line x1="444.94" y1="344.80" x2="444.94" y2="348.00" stroke="#1a1a1a" stroke-width="1.0" />
<text x="444.94" y="358.00" font-size="8.4" fill="#1a1a1a" stroke="#1a1a1a" stroke-width="0.18" text-anchor="middle" >22</text>
<line x1="459.22" y1="344.80" x2="459.22" y2="348.00" stroke="#1a1a1a" stroke-width="1.0" />
<text x="459.22" y="358.00" font-size="8.4" fill="#1a1a1a" stroke="#1a1a1a" stroke-width="0.18" text-anchor="middle" >23</text>
<text x="252.20" y="371.60" font-size="9.0" fill="#1a1a1a" stroke="#1a1a1a" stroke-width="0.15" text-anchor="middle" textLength="49.5" lengthAdjust="spacingAndGlyphs" font-weight="bold">Days (post HCT)</text>
<text x="16.30" y="274.80" font-size="9.5" fill="#1a1a1a" stroke="#1a1a1a" stroke-width="0.15" text-anchor="middle" textLength="78.5" lengthAdjust="spacingAndGlyphs" transform="rotate(-90 16.30 274.80)" font-weight="bold">Mean hourly temperature</text>
<text x="489.40" y="275.40" font-size="9.5" fill="#d8880f" stroke="#d8880f" stroke-width="0.15" text-anchor="middle" textLength="42.4" lengthAdjust="spacingAndGlyphs" transform="rotate(90 489.40 275.40)">Daily variance</text>
<text x="7.00" y="392.80" font-size="12.4" fill="#000" stroke="#000" stroke-width="0.18" text-anchor="start" font-weight="bold" >C</text>
<rect x="38.10" y="401.60" width="13.10" height="11.20" fill="#dadada" stroke="#111" stroke-width="1.2" />
<text x="44.65" y="410.10" font-size="8.4" fill="#1a1a1a" stroke="#1a1a1a" stroke-width="0.18" text-anchor="middle" >−6</text>
<line x1="41.50" y1="421.30" x2="41.50" y2="422.40" stroke="#6cab45" stroke-width="1.0" />
<line x1="41.50" y1="432.40" x2="41.50" y2="435.90" stroke="#6cab45" stroke-width="1.0" />
<rect x="38.90" y="422.40" width="5.20" height="10.00" fill="#fff" stroke="#6cab45" stroke-width="0.95" />
<line x1="38.90" y1="424.80" x2="44.10" y2="424.80" stroke="#6cab45" stroke-width="1.3" />
<line x1="47.70" y1="419.00" x2="47.70" y2="419.80" stroke="#d3198f" stroke-width="1.0" />
<line x1="47.70" y1="424.00" x2="47.70" y2="425.00" stroke="#d3198f" stroke-width="1.0" />
<rect x="45.10" y="419.80" width="5.20" height="4.20" fill="#fff" stroke="#d3198f" stroke-width="0.95" />
<line x1="45.10" y1="422.00" x2="50.30" y2="422.00" stroke="#d3198f" stroke-width="1.3" />
<rect x="38.10" y="412.80" width="13.10" height="61.60" fill="none" stroke="#111" stroke-width="1.2" />
<line x1="41.20" y1="474.40" x2="41.20" y2="477.50" stroke="#1a1a1a" stroke-width="0.9" />
<line x1="47.70" y1="474.40" x2="47.70" y2="477.50" stroke="#1a1a1a" stroke-width="0.9" />
<rect x="53.93" y="401.60" width="13.10" height="11.20" fill="#dadada" stroke="#111" stroke-width="1.2" />
<text x="60.48" y="410.10" font-size="8.4" fill="#1a1a1a" stroke="#1a1a1a" stroke-width="0.18" text-anchor="middle" >−5</text>
<line x1="57.33" y1="416.60" x2="57.33" y2="419.30" stroke="#6cab45" stroke-width="1.0" />
<line x1="57.33" y1="427.70" x2="57.33" y2="431.10" stroke="#6cab45" stroke-width="1.0" />
<rect x="54.73" y="419.30" width="5.20" height="8.40" fill="#fff" stroke="#6cab45" stroke-width="0.95" />
<line x1="54.73" y1="422.00" x2="59.93" y2="422.00" stroke="#6cab45" stroke-width="1.3" />
<rect x="60.93" y="418.80" width="5.20" height="3.20" fill="#fff" stroke="#d3198f" stroke-width="0.95" />
<line x1="60.93" y1="420.50" x2="66.13" y2="420.50" stroke="#d3198f" stroke-width="1.3" />
<circle cx="63.53" cy="426.40" r="1.15" fill="#d3198f"/>
<rect x="53.93" y="412.80" width="13.10" height="61.60" fill="none" stroke="#111" stroke-width="1.2" />
<line x1="57.03" y1="474.40" x2="57.03" y2="477.50" stroke="#1a1a1a" stroke-width="0.9" />
<line x1="63.53" y1="474.40" x2="63.53" y2="477.50" stroke="#1a1a1a" stroke-width="0.9" />
<rect x="69.76" y="401.60" width="13.10" height="11.20" fill="#dadada" stroke="#111" stroke-width="1.2" />
<text x="76.31" y="410.10" font-size="8.4" fill="#1a1a1a" stroke="#1a1a1a" stroke-width="0.18" text-anchor="middle" >−4</text>
<line x1="73.16" y1="418.00" x2="73.16" y2="419.60" stroke="#6cab45" stroke-width="1.0" />
<line x1="73.16" y1="424.00" x2="73.16" y2="429.50" stroke="#6cab45" stroke-width="1.0" />
<rect x="70.56" y="419.60" width="5.20" height="4.40" fill="#fff" stroke="#6cab45" stroke-width="0.95" />
<line x1="70.56" y1="421.70" x2="75.76" y2="421.70" stroke="#6cab45" stroke-width="1.3" />
<rect x="76.76" y="418.80" width="5.20" height="3.70" fill="#fff" stroke="#d3198f" stroke-width="0.95" />
<line x1="76.76" y1="420.70" x2="81.96" y2="420.70" stroke="#d3198f" stroke-width="1.3" />
<rect x="69.76" y="412.80" width="13.10" height="61.60" fill="none" stroke="#111" stroke-width="1.2" />
<line x1="72.86" y1="474.40" x2="72.86" y2="477.50" stroke="#1a1a1a" stroke-width="0.9" />
<line x1="79.36" y1="474.40" x2="79.36" y2="477.50" stroke="#1a1a1a" stroke-width="0.9" />
<rect x="85.59" y="401.60" width="13.10" height="11.20" fill="#dadada" stroke="#111" stroke-width="1.2" />
<text x="92.14" y="410.10" font-size="8.4" fill="#1a1a1a" stroke="#1a1a1a" stroke-width="0.18" text-anchor="middle" >−3</text>
<line x1="88.99" y1="417.70" x2="88.99" y2="418.20" stroke="#6cab45" stroke-width="1.0" />
<line x1="88.99" y1="425.10" x2="88.99" y2="433.00" stroke="#6cab45" stroke-width="1.0" />
<rect x="86.39" y="418.20" width="5.20" height="6.90" fill="#fff" stroke="#6cab45" stroke-width="0.95" />
<line x1="86.39" y1="421.70" x2="91.59" y2="421.70" stroke="#6cab45" stroke-width="1.3" />
<rect x="92.59" y="419.50" width="5.20" height="3.50" fill="#fff" stroke="#d3198f" stroke-width="0.95" />
<line x1="92.59" y1="421.20" x2="97.79" y2="421.20" stroke="#d3198f" stroke-width="1.3" />
<rect x="85.59" y="412.80" width="13.10" height="61.60" fill="none" stroke="#111" stroke-width="1.2" />
<line x1="88.69" y1="474.40" x2="88.69" y2="477.50" stroke="#1a1a1a" stroke-width="0.9" />
<line x1="95.19" y1="474.40" x2="95.19" y2="477.50" stroke="#1a1a1a" stroke-width="0.9" />
<rect x="101.42" y="401.60" width="13.10" height="11.20" fill="#dadada" stroke="#111" stroke-width="1.2" />
<text x="107.97" y="410.10" font-size="8.4" fill="#1a1a1a" stroke="#1a1a1a" stroke-width="0.18" text-anchor="middle" >−2</text>
<rect x="102.22" y="420.60" width="5.20" height="2.60" fill="#fff" stroke="#6cab45" stroke-width="0.95" />
<line x1="102.22" y1="421.70" x2="107.42" y2="421.70" stroke="#6cab45" stroke-width="1.3" />
<circle cx="104.82" cy="430.80" r="1.15" fill="#6cab45"/>
<rect x="108.42" y="418.50" width="5.20" height="2.40" fill="#fff" stroke="#d3198f" stroke-width="0.95" />
<line x1="108.42" y1="419.70" x2="113.62" y2="419.70" stroke="#d3198f" stroke-width="1.3" />
<circle cx="111.02" cy="415.70" r="1.15" fill="#d3198f"/>
<rect x="101.42" y="412.80" width="13.10" height="61.60" fill="none" stroke="#111" stroke-width="1.2" />
<line x1="104.52" y1="474.40" x2="104.52" y2="477.50" stroke="#1a1a1a" stroke-width="0.9" />
<line x1="111.02" y1="474.40" x2="111.02" y2="477.50" stroke="#1a1a1a" stroke-width="0.9" />
<rect x="117.25" y="401.60" width="13.10" height="11.20" fill="#dadada" stroke="#111" stroke-width="1.2" />
<text x="123.80" y="410.10" font-size="8.4" fill="#1a1a1a" stroke="#1a1a1a" stroke-width="0.18" text-anchor="middle" >−1</text>
<rect x="118.05" y="419.80" width="5.20" height="1.90" fill="#fff" stroke="#6cab45" stroke-width="0.95" />
<line x1="118.05" y1="420.80" x2="123.25" y2="420.80" stroke="#6cab45" stroke-width="1.3" />
<circle cx="120.65" cy="434.00" r="1.15" fill="#6cab45"/>
<line x1="126.85" y1="417.50" x2="126.85" y2="418.50" stroke="#d3198f" stroke-width="1.0" />
<line x1="126.85" y1="422.40" x2="126.85" y2="423.50" stroke="#d3198f" stroke-width="1.0" />
<rect x="124.25" y="418.50" width="5.20" height="3.90" fill="#fff" stroke="#d3198f" stroke-width="0.95" />
<line x1="124.25" y1="420.50" x2="129.45" y2="420.50" stroke="#d3198f" stroke-width="1.3" />
<circle cx="126.85" cy="428.80" r="1.15" fill="#d3198f"/>
<rect x="117.25" y="412.80" width="13.10" height="61.60" fill="none" stroke="#111" stroke-width="1.2" />
<line x1="120.35" y1="474.40" x2="120.35" y2="477.50" stroke="#1a1a1a" stroke-width="0.9" />
<line x1="126.85" y1="474.40" x2="126.85" y2="477.50" stroke="#1a1a1a" stroke-width="0.9" />
<rect x="133.08" y="401.60" width="13.10" height="11.20" fill="#dadada" stroke="#111" stroke-width="1.2" />
<text x="139.63" y="410.10" font-size="8.4" fill="#1a1a1a" stroke="#1a1a1a" stroke-width="0.18" text-anchor="middle" >0</text>
<rect x="133.88" y="421.70" width="5.20" height="6.30" fill="#fff" stroke="#6cab45" stroke-width="0.95" />
<line x1="133.88" y1="422.40" x2="139.08" y2="422.40" stroke="#6cab45" stroke-width="1.3" />
<circle cx="136.48" cy="439.30" r="1.15" fill="#6cab45"/>
<line x1="142.68" y1="419.50" x2="142.68" y2="421.70" stroke="#d3198f" stroke-width="1.0" />
<line x1="142.68" y1="425.10" x2="142.68" y2="426.00" stroke="#d3198f" stroke-width="1.0" />
<rect x="140.08" y="421.70" width="5.20" height="3.40" fill="#fff" stroke="#d3198f" stroke-width="0.95" />
<line x1="140.08" y1="423.20" x2="145.28" y2="423.20" stroke="#d3198f" stroke-width="1.3" />
<rect x="133.08" y="412.80" width="13.10" height="61.60" fill="none" stroke="#111" stroke-width="1.2" />
<line x1="136.18" y1="474.40" x2="136.18" y2="477.50" stroke="#1a1a1a" stroke-width="0.9" />
<line x1="142.68" y1="474.40" x2="142.68" y2="477.50" stroke="#1a1a1a" stroke-width="0.9" />
<rect x="148.91" y="401.60" width="13.10" height="11.20" fill="#dadada" stroke="#111" stroke-width="1.2" />
<text x="155.46" y="410.10" font-size="8.4" fill="#1a1a1a" stroke="#1a1a1a" stroke-width="0.18" text-anchor="middle" >1</text>
<line x1="152.31" y1="426.00" x2="152.31" y2="427.20" stroke="#6cab45" stroke-width="1.0" />
<line x1="152.31" y1="435.00" x2="152.31" y2="441.80" stroke="#6cab45" stroke-width="1.0" />
<rect x="149.71" y="427.20" width="5.20" height="7.80" fill="#fff" stroke="#6cab45" stroke-width="0.95" />
<line x1="149.71" y1="429.50" x2="154.91" y2="429.50" stroke="#6cab45" stroke-width="1.3" />
<line x1="158.51" y1="427.60" x2="158.51" y2="429.50" stroke="#d3198f" stroke-width="1.0" />
<line x1="158.51" y1="434.60" x2="158.51" y2="436.60" stroke="#d3198f" stroke-width="1.0" />
<rect x="155.91" y="429.50" width="5.20" height="5.10" fill="#fff" stroke="#d3198f" stroke-width="0.95" />
<line x1="155.91" y1="431.90" x2="161.11" y2="431.90" stroke="#d3198f" stroke-width="1.3" />
<rect x="148.91" y="412.80" width="13.10" height="61.60" fill="none" stroke="#111" stroke-width="1.2" />
<line x1="152.01" y1="474.40" x2="152.01" y2="477.50" stroke="#1a1a1a" stroke-width="0.9" />
<line x1="158.51" y1="474.40" x2="158.51" y2="477.50" stroke="#1a1a1a" stroke-width="0.9" />
<rect x="164.74" y="401.60" width="13.10" height="11.20" fill="#dadada" stroke="#111" stroke-width="1.2" />
<text x="171.29" y="410.10" font-size="8.4" fill="#1a1a1a" stroke="#1a1a1a" stroke-width="0.18" text-anchor="middle" >2</text>
<line x1="168.14" y1="430.30" x2="168.14" y2="436.60" stroke="#6cab45" stroke-width="1.0" />
<line x1="168.14" y1="443.00" x2="168.14" y2="446.60" stroke="#6cab45" stroke-width="1.0" />
<rect x="165.54" y="436.60" width="5.20" height="6.40" fill="#fff" stroke="#6cab45" stroke-width="0.95" />
<line x1="165.54" y1="439.80" x2="170.74" y2="439.80" stroke="#6cab45" stroke-width="1.3" />
<line x1="174.34" y1="429.50" x2="174.34" y2="432.40" stroke="#d3198f" stroke-width="1.0" />
<line x1="174.34" y1="439.30" x2="174.34" y2="443.00" stroke="#d3198f" stroke-width="1.0" />
<rect x="171.74" y="432.40" width="5.20" height="6.90" fill="#fff" stroke="#d3198f" stroke-width="0.95" />
<line x1="171.74" y1="435.50" x2="176.94" y2="435.50" stroke="#d3198f" stroke-width="1.3" />
<rect x="164.74" y="412.80" width="13.10" height="61.60" fill="none" stroke="#111" stroke-width="1.2" />
<line x1="167.84" y1="474.40" x2="167.84" y2="477.50" stroke="#1a1a1a" stroke-width="0.9" />
<line x1="174.34" y1="474.40" x2="174.34" y2="477.50" stroke="#1a1a1a" stroke-width="0.9" />
<rect x="180.57" y="401.60" width="13.10" height="11.20" fill="#dadada" stroke="#111" stroke-width="1.2" />
<text x="187.12" y="410.10" font-size="8.4" fill="#1a1a1a" stroke="#1a1a1a" stroke-width="0.18" text-anchor="middle" >3</text>
<line x1="183.97" y1="431.10" x2="183.97" y2="434.30" stroke="#6cab45" stroke-width="1.0" />
<rect x="181.37" y="434.30" width="5.20" height="6.30" fill="#fff" stroke="#6cab45" stroke-width="0.95" />
<line x1="181.37" y1="435.50" x2="186.57" y2="435.50" stroke="#6cab45" stroke-width="1.3" />
<circle cx="183.97" cy="451.30" r="1.15" fill="#6cab45"/>
<line x1="190.17" y1="429.50" x2="190.17" y2="432.70" stroke="#d3198f" stroke-width="1.0" />
<line x1="190.17" y1="443.00" x2="190.17" y2="445.60" stroke="#d3198f" stroke-width="1.0" />
<rect x="187.57" y="432.70" width="5.20" height="10.30" fill="#fff" stroke="#d3198f" stroke-width="0.95" />
<line x1="187.57" y1="438.70" x2="192.77" y2="438.70" stroke="#d3198f" stroke-width="1.3" />
<rect x="180.57" y="412.80" width="13.10" height="61.60" fill="none" stroke="#111" stroke-width="1.2" />
<line x1="183.67" y1="474.40" x2="183.67" y2="477.50" stroke="#1a1a1a" stroke-width="0.9" />
<line x1="190.17" y1="474.40" x2="190.17" y2="477.50" stroke="#1a1a1a" stroke-width="0.9" />
<rect x="196.40" y="401.60" width="13.10" height="11.20" fill="#dadada" stroke="#111" stroke-width="1.2" />
<text x="202.95" y="410.10" font-size="8.4" fill="#1a1a1a" stroke="#1a1a1a" stroke-width="0.18" text-anchor="middle" >4</text>
<line x1="199.80" y1="427.20" x2="199.80" y2="430.30" stroke="#6cab45" stroke-width="1.0" />
<rect x="197.20" y="430.30" width="5.20" height="4.00" fill="#fff" stroke="#6cab45" stroke-width="0.95" />
<line x1="197.20" y1="431.90" x2="202.40" y2="431.90" stroke="#6cab45" stroke-width="1.3" />
<circle cx="199.80" cy="444.50" r="1.15" fill="#6cab45"/>
<line x1="206.00" y1="427.20" x2="206.00" y2="432.70" stroke="#d3198f" stroke-width="1.0" />
<line x1="206.00" y1="438.70" x2="206.00" y2="444.50" stroke="#d3198f" stroke-width="1.0" />
<rect x="203.40" y="432.70" width="5.20" height="6.00" fill="#fff" stroke="#d3198f" stroke-width="0.95" />
<line x1="203.40" y1="435.50" x2="208.60" y2="435.50" stroke="#d3198f" stroke-width="1.3" />
<rect x="196.40" y="412.80" width="13.10" height="61.60" fill="none" stroke="#111" stroke-width="1.2" />
<line x1="199.50" y1="474.40" x2="199.50" y2="477.50" stroke="#1a1a1a" stroke-width="0.9" />
<line x1="206.00" y1="474.40" x2="206.00" y2="477.50" stroke="#1a1a1a" stroke-width="0.9" />
<rect x="212.23" y="401.60" width="13.10" height="11.20" fill="#dadada" stroke="#111" stroke-width="1.2" />
<text x="218.78" y="410.10" font-size="8.4" fill="#1a1a1a" stroke="#1a1a1a" stroke-width="0.18" text-anchor="middle" >5</text>
<rect x="213.03" y="430.00" width="5.20" height="1.60" fill="#fff" stroke="#6cab45" stroke-width="0.95" />
<line x1="213.03" y1="430.80" x2="218.23" y2="430.80" stroke="#6cab45" stroke-width="1.3" />
<circle cx="215.63" cy="424.50" r="1.15" fill="#6cab45"/>
<circle cx="215.63" cy="441.40" r="1.15" fill="#6cab45"/>
<line x1="221.83" y1="418.50" x2="221.83" y2="420.90" stroke="#d3198f" stroke-width="1.0" />
<line x1="221.83" y1="429.50" x2="221.83" y2="433.50" stroke="#d3198f" stroke-width="1.0" />
<rect x="219.23" y="420.90" width="5.20" height="8.60" fill="#fff" stroke="#d3198f" stroke-width="0.95" />
<line x1="219.23" y1="425.10" x2="224.43" y2="425.10" stroke="#d3198f" stroke-width="1.3" />
<rect x="212.23" y="412.80" width="13.10" height="61.60" fill="none" stroke="#111" stroke-width="1.2" />
<line x1="215.33" y1="474.40" x2="215.33" y2="477.50" stroke="#1a1a1a" stroke-width="0.9" />
<line x1="221.83" y1="474.40" x2="221.83" y2="477.50" stroke="#1a1a1a" stroke-width="0.9" />
<rect x="228.06" y="401.60" width="13.10" height="11.20" fill="#dadada" stroke="#111" stroke-width="1.2" />
<text x="234.61" y="410.10" font-size="8.4" fill="#1a1a1a" stroke="#1a1a1a" stroke-width="0.18" text-anchor="middle" >6</text>
<rect x="228.86" y="430.20" width="5.20" height="1.40" fill="#fff" stroke="#6cab45" stroke-width="0.95" />
<line x1="228.86" y1="430.90" x2="234.06" y2="430.90" stroke="#6cab45" stroke-width="1.3" />
<circle cx="231.46" cy="426.70" r="1.15" fill="#6cab45"/>
<circle cx="231.46" cy="444.00" r="1.15" fill="#6cab45"/>
<line x1="237.66" y1="424.50" x2="237.66" y2="430.30" stroke="#d3198f" stroke-width="1.0" />
<line x1="237.66" y1="439.80" x2="237.66" y2="443.70" stroke="#d3198f" stroke-width="1.0" />
<rect x="235.06" y="430.30" width="5.20" height="9.50" fill="#fff" stroke="#d3198f" stroke-width="0.95" />
<line x1="235.06" y1="434.60" x2="240.26" y2="434.60" stroke="#d3198f" stroke-width="1.3" />
<rect x="228.06" y="412.80" width="13.10" height="61.60" fill="none" stroke="#111" stroke-width="1.2" />
<line x1="231.16" y1="474.40" x2="231.16" y2="477.50" stroke="#1a1a1a" stroke-width="0.9" />
<line x1="237.66" y1="474.40" x2="237.66" y2="477.50" stroke="#1a1a1a" stroke-width="0.9" />
<rect x="243.89" y="401.60" width="13.10" height="11.20" fill="#dadada" stroke="#111" stroke-width="1.2" />
<text x="250.44" y="410.10" font-size="8.4" fill="#1a1a1a" stroke="#1a1a1a" stroke-width="0.18" text-anchor="middle" >7</text>
<line x1="247.29" y1="426.40" x2="247.29" y2="430.30" stroke="#6cab45" stroke-width="1.0" />
<line x1="247.29" y1="437.40" x2="247.29" y2="443.00" stroke="#6cab45" stroke-width="1.0" />
<rect x="244.69" y="430.30" width="5.20" height="7.10" fill="#fff" stroke="#6cab45" stroke-width="0.95" />
<line x1="244.69" y1="430.80" x2="249.89" y2="430.80" stroke="#6cab45" stroke-width="1.3" />
<line x1="253.49" y1="438.20" x2="253.49" y2="445.30" stroke="#d3198f" stroke-width="1.0" />
<line x1="253.49" y1="453.50" x2="253.49" y2="458.70" stroke="#d3198f" stroke-width="1.0" />
<rect x="250.89" y="445.30" width="5.20" height="8.20" fill="#fff" stroke="#d3198f" stroke-width="0.95" />
<line x1="250.89" y1="449.30" x2="256.09" y2="449.30" stroke="#d3198f" stroke-width="1.3" />
<line x1="245.89" y1="466.70" x2="254.89" y2="466.70" stroke="#5a5a5a" stroke-width="1.3" />
<circle cx="250.44" cy="470.7" r="0.85" fill="#1a1a1a"/>
<rect x="243.89" y="412.80" width="13.10" height="61.60" fill="none" stroke="#111" stroke-width="1.2" />
<line x1="246.99" y1="474.40" x2="246.99" y2="477.50" stroke="#1a1a1a" stroke-width="0.9" />
<line x1="253.49" y1="474.40" x2="253.49" y2="477.50" stroke="#1a1a1a" stroke-width="0.9" />
<rect x="259.72" y="401.60" width="13.10" height="11.20" fill="#dadada" stroke="#111" stroke-width="1.2" />
<text x="266.27" y="410.10" font-size="8.4" fill="#1a1a1a" stroke="#1a1a1a" stroke-width="0.18" text-anchor="middle" >8</text>
<rect x="260.52" y="430.30" width="5.20" height="2.10" fill="#fff" stroke="#6cab45" stroke-width="0.95" />
<line x1="260.52" y1="431.30" x2="265.72" y2="431.30" stroke="#6cab45" stroke-width="1.3" />
<circle cx="263.12" cy="442.50" r="1.15" fill="#6cab45"/>
<line x1="269.32" y1="435.90" x2="269.32" y2="436.60" stroke="#d3198f" stroke-width="1.0" />
<line x1="269.32" y1="448.20" x2="269.32" y2="450.80" stroke="#d3198f" stroke-width="1.0" />
<rect x="266.72" y="436.60" width="5.20" height="11.60" fill="#fff" stroke="#d3198f" stroke-width="0.95" />
<line x1="266.72" y1="444.00" x2="271.92" y2="444.00" stroke="#d3198f" stroke-width="1.3" />
<rect x="259.72" y="412.80" width="13.10" height="61.60" fill="none" stroke="#111" stroke-width="1.2" />
<line x1="262.82" y1="474.40" x2="262.82" y2="477.50" stroke="#1a1a1a" stroke-width="0.9" />
<line x1="269.32" y1="474.40" x2="269.32" y2="477.50" stroke="#1a1a1a" stroke-width="0.9" />
<rect x="275.55" y="401.60" width="13.10" height="11.20" fill="#dadada" stroke="#111" stroke-width="1.2" />
<text x="282.10" y="410.10" font-size="8.4" fill="#1a1a1a" stroke="#1a1a1a" stroke-width="0.18" text-anchor="middle" >9</text>
<rect x="276.35" y="427.20" width="5.20" height="6.30" fill="#fff" stroke="#6cab45" stroke-width="0.95" />
<line x1="276.35" y1="432.40" x2="281.55" y2="432.40" stroke="#6cab45" stroke-width="1.3" />
<circle cx="278.95" cy="447.70" r="1.15" fill="#6cab45"/>
<line x1="285.15" y1="432.40" x2="285.15" y2="434.30" stroke="#d3198f" stroke-width="1.0" />
<line x1="285.15" y1="439.30" x2="285.15" y2="443.40" stroke="#d3198f" stroke-width="1.0" />
<rect x="282.55" y="434.30" width="5.20" height="5.00" fill="#fff" stroke="#d3198f" stroke-width="0.95" />
<line x1="282.55" y1="436.60" x2="287.75" y2="436.60" stroke="#d3198f" stroke-width="1.3" />
<rect x="275.55" y="412.80" width="13.10" height="61.60" fill="none" stroke="#111" stroke-width="1.2" />
<line x1="278.65" y1="474.40" x2="278.65" y2="477.50" stroke="#1a1a1a" stroke-width="0.9" />
<line x1="285.15" y1="474.40" x2="285.15" y2="477.50" stroke="#1a1a1a" stroke-width="0.9" />
<rect x="291.38" y="401.60" width="13.10" height="11.20" fill="#dadada" stroke="#111" stroke-width="1.2" />
<text x="297.93" y="410.10" font-size="8.4" fill="#1a1a1a" stroke="#1a1a1a" stroke-width="0.18" text-anchor="middle" >10</text>
<line x1="294.78" y1="423.20" x2="294.78" y2="430.30" stroke="#6cab45" stroke-width="1.0" />
<rect x="292.18" y="430.30" width="5.20" height="7.90" fill="#fff" stroke="#6cab45" stroke-width="0.95" />
<line x1="292.18" y1="434.00" x2="297.38" y2="434.00" stroke="#6cab45" stroke-width="1.3" />
<rect x="298.38" y="431.90" width="5.20" height="3.60" fill="#fff" stroke="#d3198f" stroke-width="0.95" />
<line x1="298.38" y1="433.50" x2="303.58" y2="433.50" stroke="#d3198f" stroke-width="1.3" />
<circle cx="300.98" cy="427.20" r="1.15" fill="#d3198f"/>
<circle cx="300.98" cy="440.90" r="1.15" fill="#d3198f"/>
<rect x="291.38" y="412.80" width="13.10" height="61.60" fill="none" stroke="#111" stroke-width="1.2" />
<line x1="294.48" y1="474.40" x2="294.48" y2="477.50" stroke="#1a1a1a" stroke-width="0.9" />
<line x1="300.98" y1="474.40" x2="300.98" y2="477.50" stroke="#1a1a1a" stroke-width="0.9" />
<rect x="307.21" y="401.60" width="13.10" height="11.20" fill="#dadada" stroke="#111" stroke-width="1.2" />
<text x="313.76" y="410.10" font-size="8.4" fill="#1a1a1a" stroke="#1a1a1a" stroke-width="0.18" text-anchor="middle" >11</text>
<rect x="308.01" y="430.30" width="5.20" height="4.30" fill="#fff" stroke="#6cab45" stroke-width="0.95" />
<line x1="308.01" y1="431.90" x2="313.21" y2="431.90" stroke="#6cab45" stroke-width="1.3" />
<circle cx="310.61" cy="422.40" r="1.15" fill="#6cab45"/>
<circle cx="310.61" cy="442.50" r="1.15" fill="#6cab45"/>
<line x1="316.81" y1="425.60" x2="316.81" y2="430.30" stroke="#d3198f" stroke-width="1.0" />
<line x1="316.81" y1="439.30" x2="316.81" y2="443.70" stroke="#d3198f" stroke-width="1.0" />
<rect x="314.21" y="430.30" width="5.20" height="9.00" fill="#fff" stroke="#d3198f" stroke-width="0.95" />
<line x1="314.21" y1="435.00" x2="319.41" y2="435.00" stroke="#d3198f" stroke-width="1.3" />
<rect x="307.21" y="412.80" width="13.10" height="61.60" fill="none" stroke="#111" stroke-width="1.2" />
<line x1="310.31" y1="474.40" x2="310.31" y2="477.50" stroke="#1a1a1a" stroke-width="0.9" />
<line x1="316.81" y1="474.40" x2="316.81" y2="477.50" stroke="#1a1a1a" stroke-width="0.9" />
<rect x="323.04" y="401.60" width="13.10" height="11.20" fill="#dadada" stroke="#111" stroke-width="1.2" />
<text x="329.59" y="410.10" font-size="8.4" fill="#1a1a1a" stroke="#1a1a1a" stroke-width="0.18" text-anchor="middle" >12</text>
<line x1="326.44" y1="431.40" x2="326.44" y2="432.40" stroke="#6cab45" stroke-width="1.0" />
<rect x="323.84" y="426.40" width="5.20" height="5.00" fill="#fff" stroke="#6cab45" stroke-width="0.95" />
<line x1="323.84" y1="428.80" x2="329.04" y2="428.80" stroke="#6cab45" stroke-width="1.3" />
<line x1="332.64" y1="425.10" x2="332.64" y2="429.50" stroke="#d3198f" stroke-width="1.0" />
<line x1="332.64" y1="440.60" x2="332.64" y2="446.10" stroke="#d3198f" stroke-width="1.0" />
<rect x="330.04" y="429.50" width="5.20" height="11.10" fill="#fff" stroke="#d3198f" stroke-width="0.95" />
<line x1="330.04" y1="435.90" x2="335.24" y2="435.90" stroke="#d3198f" stroke-width="1.3" />
<rect x="323.04" y="412.80" width="13.10" height="61.60" fill="none" stroke="#111" stroke-width="1.2" />
<line x1="326.14" y1="474.40" x2="326.14" y2="477.50" stroke="#1a1a1a" stroke-width="0.9" />
<line x1="332.64" y1="474.40" x2="332.64" y2="477.50" stroke="#1a1a1a" stroke-width="0.9" />
<rect x="338.87" y="401.60" width="13.10" height="11.20" fill="#dadada" stroke="#111" stroke-width="1.2" />
<text x="345.42" y="410.10" font-size="8.4" fill="#1a1a1a" stroke="#1a1a1a" stroke-width="0.18" text-anchor="middle" >13</text>
<line x1="342.27" y1="423.20" x2="342.27" y2="426.70" stroke="#6cab45" stroke-width="1.0" />
<rect x="339.67" y="426.70" width="5.20" height="2.80" fill="#fff" stroke="#6cab45" stroke-width="0.95" />
<line x1="339.67" y1="428.00" x2="344.87" y2="428.00" stroke="#6cab45" stroke-width="1.3" />
<circle cx="342.27" cy="443.00" r="1.15" fill="#6cab45"/>
<line x1="348.47" y1="429.90" x2="348.47" y2="435.90" stroke="#d3198f" stroke-width="1.0" />
<line x1="348.47" y1="443.40" x2="348.47" y2="448.80" stroke="#d3198f" stroke-width="1.0" />
<rect x="345.87" y="435.90" width="5.20" height="7.50" fill="#fff" stroke="#d3198f" stroke-width="0.95" />
<line x1="345.87" y1="439.30" x2="351.07" y2="439.30" stroke="#d3198f" stroke-width="1.3" />
<rect x="338.87" y="412.80" width="13.10" height="61.60" fill="none" stroke="#111" stroke-width="1.2" />
<line x1="341.97" y1="474.40" x2="341.97" y2="477.50" stroke="#1a1a1a" stroke-width="0.9" />
<line x1="348.47" y1="474.40" x2="348.47" y2="477.50" stroke="#1a1a1a" stroke-width="0.9" />
<rect x="354.70" y="401.60" width="13.10" height="11.20" fill="#dadada" stroke="#111" stroke-width="1.2" />
<text x="361.25" y="410.10" font-size="8.4" fill="#1a1a1a" stroke="#1a1a1a" stroke-width="0.18" text-anchor="middle" >14</text>
<rect x="355.50" y="427.20" width="5.20" height="2.00" fill="#fff" stroke="#6cab45" stroke-width="0.95" />
<line x1="355.50" y1="428.20" x2="360.70" y2="428.20" stroke="#6cab45" stroke-width="1.3" />
<circle cx="358.10" cy="433.00" r="1.15" fill="#6cab45"/>
<line x1="364.30" y1="433.50" x2="364.30" y2="436.20" stroke="#d3198f" stroke-width="1.0" />
<line x1="364.30" y1="444.50" x2="364.30" y2="448.20" stroke="#d3198f" stroke-width="1.0" />
<rect x="361.70" y="436.20" width="5.20" height="8.30" fill="#fff" stroke="#d3198f" stroke-width="0.95" />
<line x1="361.70" y1="439.30" x2="366.90" y2="439.30" stroke="#d3198f" stroke-width="1.3" />
<line x1="356.70" y1="466.70" x2="365.70" y2="466.70" stroke="#5a5a5a" stroke-width="1.3" />
<circle cx="358.95" cy="470.7" r="0.85" fill="#1a1a1a"/>
<circle cx="361.25" cy="470.7" r="0.85" fill="#1a1a1a"/>
<circle cx="363.55" cy="470.7" r="0.85" fill="#1a1a1a"/>
<rect x="354.70" y="412.80" width="13.10" height="61.60" fill="none" stroke="#111" stroke-width="1.2" />
<line x1="357.80" y1="474.40" x2="357.80" y2="477.50" stroke="#1a1a1a" stroke-width="0.9" />
<line x1="364.30" y1="474.40" x2="364.30" y2="477.50" stroke="#1a1a1a" stroke-width="0.9" />
<rect x="370.53" y="401.60" width="13.10" height="11.20" fill="#dadada" stroke="#111" stroke-width="1.2" />
<text x="377.08" y="410.10" font-size="8.4" fill="#1a1a1a" stroke="#1a1a1a" stroke-width="0.18" text-anchor="middle" >15</text>
<rect x="371.33" y="426.40" width="5.20" height="9.10" fill="#fff" stroke="#6cab45" stroke-width="0.95" />
<line x1="371.33" y1="430.30" x2="376.53" y2="430.30" stroke="#6cab45" stroke-width="1.3" />
<circle cx="373.93" cy="463.90" r="1.15" fill="#6cab45"/>
<line x1="380.13" y1="433.00" x2="380.13" y2="439.30" stroke="#d3198f" stroke-width="1.0" />
<line x1="380.13" y1="446.10" x2="380.13" y2="448.80" stroke="#d3198f" stroke-width="1.0" />
<rect x="377.53" y="439.30" width="5.20" height="6.80" fill="#fff" stroke="#d3198f" stroke-width="0.95" />
<line x1="377.53" y1="441.40" x2="382.73" y2="441.40" stroke="#d3198f" stroke-width="1.3" />
<rect x="370.53" y="412.80" width="13.10" height="61.60" fill="none" stroke="#111" stroke-width="1.2" />
<line x1="373.63" y1="474.40" x2="373.63" y2="477.50" stroke="#1a1a1a" stroke-width="0.9" />
<line x1="380.13" y1="474.40" x2="380.13" y2="477.50" stroke="#1a1a1a" stroke-width="0.9" />
<rect x="386.36" y="401.60" width="13.10" height="11.20" fill="#dadada" stroke="#111" stroke-width="1.2" />
<text x="392.91" y="410.10" font-size="8.4" fill="#1a1a1a" stroke="#1a1a1a" stroke-width="0.18" text-anchor="middle" >16</text>
<line x1="389.76" y1="422.90" x2="389.76" y2="426.00" stroke="#6cab45" stroke-width="1.0" />
<rect x="387.16" y="426.00" width="5.20" height="4.30" fill="#fff" stroke="#6cab45" stroke-width="0.95" />
<line x1="387.16" y1="427.20" x2="392.36" y2="427.20" stroke="#6cab45" stroke-width="1.3" />
<circle cx="389.76" cy="443.70" r="1.15" fill="#6cab45"/>
<line x1="395.96" y1="434.60" x2="395.96" y2="438.20" stroke="#d3198f" stroke-width="1.0" />
<line x1="395.96" y1="448.80" x2="395.96" y2="450.00" stroke="#d3198f" stroke-width="1.0" />
<rect x="393.36" y="438.20" width="5.20" height="10.60" fill="#fff" stroke="#d3198f" stroke-width="0.95" />
<line x1="393.36" y1="444.50" x2="398.56" y2="444.50" stroke="#d3198f" stroke-width="1.3" />
<rect x="386.36" y="412.80" width="13.10" height="61.60" fill="none" stroke="#111" stroke-width="1.2" />
<line x1="389.46" y1="474.40" x2="389.46" y2="477.50" stroke="#1a1a1a" stroke-width="0.9" />
<line x1="395.96" y1="474.40" x2="395.96" y2="477.50" stroke="#1a1a1a" stroke-width="0.9" />
<rect x="402.19" y="401.60" width="13.10" height="11.20" fill="#dadada" stroke="#111" stroke-width="1.2" />
<text x="408.74" y="410.10" font-size="8.4" fill="#1a1a1a" stroke="#1a1a1a" stroke-width="0.18" text-anchor="middle" >17</text>
<line x1="405.59" y1="421.30" x2="405.59" y2="425.60" stroke="#6cab45" stroke-width="1.0" />
<line x1="405.59" y1="429.20" x2="405.59" y2="430.30" stroke="#6cab45" stroke-width="1.0" />
<rect x="402.99" y="425.60" width="5.20" height="3.60" fill="#fff" stroke="#6cab45" stroke-width="0.95" />
<line x1="402.99" y1="427.20" x2="408.19" y2="427.20" stroke="#6cab45" stroke-width="1.3" />
<line x1="411.79" y1="438.20" x2="411.79" y2="441.40" stroke="#d3198f" stroke-width="1.0" />
<line x1="411.79" y1="451.30" x2="411.79" y2="453.20" stroke="#d3198f" stroke-width="1.0" />
<rect x="409.19" y="441.40" width="5.20" height="9.90" fill="#fff" stroke="#d3198f" stroke-width="0.95" />
<line x1="409.19" y1="446.90" x2="414.39" y2="446.90" stroke="#d3198f" stroke-width="1.3" />
<line x1="404.19" y1="466.70" x2="413.19" y2="466.70" stroke="#5a5a5a" stroke-width="1.3" />
<circle cx="406.44" cy="470.7" r="0.85" fill="#1a1a1a"/>
<circle cx="408.74" cy="470.7" r="0.85" fill="#1a1a1a"/>
<circle cx="411.04" cy="470.7" r="0.85" fill="#1a1a1a"/>
<rect x="402.19" y="412.80" width="13.10" height="61.60" fill="none" stroke="#111" stroke-width="1.2" />
<line x1="405.29" y1="474.40" x2="405.29" y2="477.50" stroke="#1a1a1a" stroke-width="0.9" />
<line x1="411.79" y1="474.40" x2="411.79" y2="477.50" stroke="#1a1a1a" stroke-width="0.9" />
<rect x="418.02" y="401.60" width="13.10" height="11.20" fill="#dadada" stroke="#111" stroke-width="1.2" />
<text x="424.57" y="410.10" font-size="8.4" fill="#1a1a1a" stroke="#1a1a1a" stroke-width="0.18" text-anchor="middle" >18</text>
<line x1="421.42" y1="420.90" x2="421.42" y2="422.40" stroke="#6cab45" stroke-width="1.0" />
<line x1="421.42" y1="432.40" x2="421.42" y2="434.00" stroke="#6cab45" stroke-width="1.0" />
<rect x="418.82" y="422.40" width="5.20" height="10.00" fill="#fff" stroke="#6cab45" stroke-width="0.95" />
<line x1="418.82" y1="423.60" x2="424.02" y2="423.60" stroke="#6cab45" stroke-width="1.3" />
<line x1="427.62" y1="439.80" x2="427.62" y2="446.90" stroke="#d3198f" stroke-width="1.0" />
<line x1="427.62" y1="456.70" x2="427.62" y2="459.80" stroke="#d3198f" stroke-width="1.0" />
<rect x="425.02" y="446.90" width="5.20" height="9.80" fill="#fff" stroke="#d3198f" stroke-width="0.95" />
<line x1="425.02" y1="448.20" x2="430.22" y2="448.20" stroke="#d3198f" stroke-width="1.3" />
<line x1="420.02" y1="466.70" x2="429.02" y2="466.70" stroke="#5a5a5a" stroke-width="1.3" />
<circle cx="422.27" cy="470.7" r="0.85" fill="#1a1a1a"/>
<circle cx="424.57" cy="470.7" r="0.85" fill="#1a1a1a"/>
<circle cx="426.87" cy="470.7" r="0.85" fill="#1a1a1a"/>
<rect x="418.02" y="412.80" width="13.10" height="61.60" fill="none" stroke="#111" stroke-width="1.2" />
<line x1="421.12" y1="474.40" x2="421.12" y2="477.50" stroke="#1a1a1a" stroke-width="0.9" />
<line x1="427.62" y1="474.40" x2="427.62" y2="477.50" stroke="#1a1a1a" stroke-width="0.9" />
<rect x="433.85" y="401.60" width="13.10" height="11.20" fill="#dadada" stroke="#111" stroke-width="1.2" />
<text x="440.40" y="410.10" font-size="8.4" fill="#1a1a1a" stroke="#1a1a1a" stroke-width="0.18" text-anchor="middle" >19</text>
<rect x="434.65" y="422.40" width="5.20" height="10.60" fill="#fff" stroke="#6cab45" stroke-width="0.95" />
<line x1="434.65" y1="422.90" x2="439.85" y2="422.90" stroke="#6cab45" stroke-width="1.3" />
<line x1="443.45" y1="440.60" x2="443.45" y2="445.00" stroke="#d3198f" stroke-width="1.0" />
<line x1="443.45" y1="452.40" x2="443.45" y2="458.00" stroke="#d3198f" stroke-width="1.0" />
<rect x="440.85" y="445.00" width="5.20" height="7.40" fill="#fff" stroke="#d3198f" stroke-width="0.95" />
<line x1="440.85" y1="448.20" x2="446.05" y2="448.20" stroke="#d3198f" stroke-width="1.3" />
<line x1="435.85" y1="466.70" x2="444.85" y2="466.70" stroke="#5a5a5a" stroke-width="1.3" />
<circle cx="438.10" cy="470.7" r="0.85" fill="#1a1a1a"/>
<circle cx="440.40" cy="470.7" r="0.85" fill="#1a1a1a"/>
<circle cx="442.70" cy="470.7" r="0.85" fill="#1a1a1a"/>
<rect x="433.85" y="412.80" width="13.10" height="61.60" fill="none" stroke="#111" stroke-width="1.2" />
<line x1="436.95" y1="474.40" x2="436.95" y2="477.50" stroke="#1a1a1a" stroke-width="0.9" />
<line x1="443.45" y1="474.40" x2="443.45" y2="477.50" stroke="#1a1a1a" stroke-width="0.9" />
<rect x="449.68" y="401.60" width="13.10" height="11.20" fill="#dadada" stroke="#111" stroke-width="1.2" />
<text x="456.23" y="410.10" font-size="8.4" fill="#1a1a1a" stroke="#1a1a1a" stroke-width="0.18" text-anchor="middle" >20</text>
<rect x="450.48" y="424.80" width="5.20" height="2.40" fill="#fff" stroke="#6cab45" stroke-width="0.95" />
<line x1="450.48" y1="426.00" x2="455.68" y2="426.00" stroke="#6cab45" stroke-width="1.3" />
<circle cx="453.08" cy="422.40" r="1.15" fill="#6cab45"/>
<line x1="459.28" y1="436.60" x2="459.28" y2="442.50" stroke="#d3198f" stroke-width="1.0" />
<line x1="459.28" y1="451.60" x2="459.28" y2="460.80" stroke="#d3198f" stroke-width="1.0" />
<rect x="456.68" y="442.50" width="5.20" height="9.10" fill="#fff" stroke="#d3198f" stroke-width="0.95" />
<line x1="456.68" y1="446.90" x2="461.88" y2="446.90" stroke="#d3198f" stroke-width="1.3" />
<line x1="451.68" y1="466.70" x2="460.68" y2="466.70" stroke="#5a5a5a" stroke-width="1.3" />
<circle cx="453.93" cy="470.7" r="0.85" fill="#1a1a1a"/>
<circle cx="456.23" cy="470.7" r="0.85" fill="#1a1a1a"/>
<circle cx="458.53" cy="470.7" r="0.85" fill="#1a1a1a"/>
<rect x="449.68" y="412.80" width="13.10" height="61.60" fill="none" stroke="#111" stroke-width="1.2" />
<line x1="452.78" y1="474.40" x2="452.78" y2="477.50" stroke="#1a1a1a" stroke-width="0.9" />
<line x1="459.28" y1="474.40" x2="459.28" y2="477.50" stroke="#1a1a1a" stroke-width="0.9" />
<rect x="465.51" y="401.60" width="13.10" height="11.20" fill="#dadada" stroke="#111" stroke-width="1.2" />
<text x="472.06" y="410.10" font-size="8.4" fill="#1a1a1a" stroke="#1a1a1a" stroke-width="0.18" text-anchor="middle" >21</text>
<rect x="466.31" y="425.10" width="5.20" height="2.10" fill="#fff" stroke="#6cab45" stroke-width="0.95" />
<line x1="466.31" y1="426.10" x2="471.51" y2="426.10" stroke="#6cab45" stroke-width="1.3" />
<circle cx="468.91" cy="421.30" r="1.15" fill="#6cab45"/>
<circle cx="468.91" cy="430.80" r="1.15" fill="#6cab45"/>
<line x1="475.11" y1="439.30" x2="475.11" y2="443.40" stroke="#d3198f" stroke-width="1.0" />
<line x1="475.11" y1="460.80" x2="475.11" y2="471.30" stroke="#d3198f" stroke-width="1.0" />
<rect x="472.51" y="443.40" width="5.20" height="17.40" fill="#fff" stroke="#d3198f" stroke-width="0.95" />
<line x1="472.51" y1="451.60" x2="477.71" y2="451.60" stroke="#d3198f" stroke-width="1.3" />
<line x1="467.51" y1="466.70" x2="476.51" y2="466.70" stroke="#5a5a5a" stroke-width="1.3" />
<circle cx="469.76" cy="470.7" r="0.85" fill="#1a1a1a"/>
<circle cx="472.06" cy="470.7" r="0.85" fill="#1a1a1a"/>
<circle cx="474.36" cy="470.7" r="0.85" fill="#1a1a1a"/>
<rect x="465.51" y="412.80" width="13.10" height="61.60" fill="none" stroke="#111" stroke-width="1.2" />
<line x1="468.61" y1="474.40" x2="468.61" y2="477.50" stroke="#1a1a1a" stroke-width="0.9" />
<line x1="475.11" y1="474.40" x2="475.11" y2="477.50" stroke="#1a1a1a" stroke-width="0.9" />
<rect x="481.34" y="401.60" width="13.10" height="11.20" fill="#dadada" stroke="#111" stroke-width="1.2" />
<text x="487.89" y="410.10" font-size="8.4" fill="#1a1a1a" stroke="#1a1a1a" stroke-width="0.18" text-anchor="middle" >22</text>
<line x1="484.74" y1="422.00" x2="484.74" y2="424.00" stroke="#6cab45" stroke-width="1.0" />
<rect x="482.14" y="424.00" width="5.20" height="3.70" fill="#fff" stroke="#6cab45" stroke-width="0.95" />
<line x1="482.14" y1="425.60" x2="487.34" y2="425.60" stroke="#6cab45" stroke-width="1.3" />
<circle cx="484.74" cy="434.00" r="1.15" fill="#6cab45"/>
<line x1="490.94" y1="433.50" x2="490.94" y2="439.30" stroke="#d3198f" stroke-width="1.0" />
<line x1="490.94" y1="461.90" x2="490.94" y2="469.80" stroke="#d3198f" stroke-width="1.0" />
<rect x="488.34" y="439.30" width="5.20" height="22.60" fill="#fff" stroke="#d3198f" stroke-width="0.95" />
<line x1="488.34" y1="446.10" x2="493.54" y2="446.10" stroke="#d3198f" stroke-width="1.3" />
<line x1="483.34" y1="466.70" x2="492.34" y2="466.70" stroke="#5a5a5a" stroke-width="1.3" />
<circle cx="487.89" cy="470.7" r="0.85" fill="#1a1a1a"/>
<rect x="481.34" y="412.80" width="13.10" height="61.60" fill="none" stroke="#111" stroke-width="1.2" />
<line x1="484.44" y1="474.40" x2="484.44" y2="477.50" stroke="#1a1a1a" stroke-width="0.9" />
<line x1="490.94" y1="474.40" x2="490.94" y2="477.50" stroke="#1a1a1a" stroke-width="0.9" />
<rect x="497.17" y="401.60" width="13.10" height="11.20" fill="#dadada" stroke="#111" stroke-width="1.2" />
<text x="503.72" y="410.10" font-size="8.4" fill="#1a1a1a" stroke="#1a1a1a" stroke-width="0.18" text-anchor="middle" >23</text>
<line x1="500.57" y1="420.90" x2="500.57" y2="423.60" stroke="#6cab45" stroke-width="1.0" />
<rect x="497.97" y="423.60" width="5.20" height="3.10" fill="#fff" stroke="#6cab45" stroke-width="0.95" />
<line x1="497.97" y1="425.10" x2="503.17" y2="425.10" stroke="#6cab45" stroke-width="1.3" />
<line x1="506.77" y1="429.20" x2="506.77" y2="437.40" stroke="#d3198f" stroke-width="1.0" />
<line x1="506.77" y1="450.80" x2="506.77" y2="463.00" stroke="#d3198f" stroke-width="1.0" />
<rect x="504.17" y="437.40" width="5.20" height="13.40" fill="#fff" stroke="#d3198f" stroke-width="0.95" />
<line x1="504.17" y1="445.30" x2="509.37" y2="445.30" stroke="#d3198f" stroke-width="1.3" />
<line x1="499.17" y1="466.70" x2="508.17" y2="466.70" stroke="#5a5a5a" stroke-width="1.3" />
<circle cx="503.72" cy="470.7" r="0.85" fill="#1a1a1a"/>
<rect x="497.17" y="412.80" width="13.10" height="61.60" fill="none" stroke="#111" stroke-width="1.2" />
<line x1="500.27" y1="474.40" x2="500.27" y2="477.50" stroke="#1a1a1a" stroke-width="0.9" />
<line x1="506.77" y1="474.40" x2="506.77" y2="477.50" stroke="#1a1a1a" stroke-width="0.9" />
<line x1="35.00" y1="471.40" x2="38.10" y2="471.40" stroke="#1a1a1a" stroke-width="1.0" />
<text x="31.80" y="474.40" font-size="8.6" fill="#1a1a1a" stroke="#1a1a1a" stroke-width="0.18" text-anchor="end" >33</text>
<line x1="35.00" y1="458.80" x2="38.10" y2="458.80" stroke="#1a1a1a" stroke-width="1.0" />
<text x="31.80" y="461.80" font-size="8.6" fill="#1a1a1a" stroke="#1a1a1a" stroke-width="0.18" text-anchor="end" >34</text>
<line x1="35.00" y1="446.20" x2="38.10" y2="446.20" stroke="#1a1a1a" stroke-width="1.0" />
<text x="31.80" y="449.20" font-size="8.6" fill="#1a1a1a" stroke="#1a1a1a" stroke-width="0.18" text-anchor="end" >35</text>
<line x1="35.00" y1="433.60" x2="38.10" y2="433.60" stroke="#1a1a1a" stroke-width="1.0" />
<text x="31.80" y="436.60" font-size="8.6" fill="#1a1a1a" stroke="#1a1a1a" stroke-width="0.18" text-anchor="end" >36</text>
<line x1="35.00" y1="421.00" x2="38.10" y2="421.00" stroke="#1a1a1a" stroke-width="1.0" />
<text x="31.80" y="424.00" font-size="8.6" fill="#1a1a1a" stroke="#1a1a1a" stroke-width="0.18" text-anchor="end" >37</text>
<text x="14.60" y="443.50" font-size="9.3" fill="#1a1a1a" stroke="#1a1a1a" stroke-width="0.15" text-anchor="middle" textLength="34.0" lengthAdjust="spacingAndGlyphs" transform="rotate(-90 14.60 443.50)" font-weight="bold">Daily mean</text>
<text x="274.40" y="488.90" font-size="9.0" fill="#1a1a1a" stroke="#1a1a1a" stroke-width="0.15" text-anchor="middle" textLength="41.0" lengthAdjust="spacingAndGlyphs" font-weight="bold">Day post HCT</text>
<rect x="222.60" y="389.70" width="6.40" height="4.60" fill="#fff" stroke="#6cab45" stroke-width="1.0" />
<line x1="222.60" y1="392.00" x2="229.00" y2="392.00" stroke="#6cab45" stroke-width="1.0" />
<line x1="225.80" y1="388.50" x2="225.80" y2="389.70" stroke="#6cab45" stroke-width="1.0" />
<line x1="225.80" y1="394.30" x2="225.80" y2="395.50" stroke="#6cab45" stroke-width="1.0" />
<text x="232.50" y="394.90" font-size="8.1" fill="#6cab45" stroke="#6cab45" stroke-width="0.18" text-anchor="start" >SynHighT</text>
<rect x="277.60" y="389.70" width="6.40" height="4.60" fill="#fff" stroke="#d3198f" stroke-width="1.0" />
<line x1="277.60" y1="392.00" x2="284.00" y2="392.00" stroke="#d3198f" stroke-width="1.0" />
<line x1="280.80" y1="388.50" x2="280.80" y2="389.70" stroke="#d3198f" stroke-width="1.0" />
<line x1="280.80" y1="394.30" x2="280.80" y2="395.50" stroke="#d3198f" stroke-width="1.0" />
<text x="287.20" y="394.90" font-size="8.1" fill="#d3198f" stroke="#d3198f" stroke-width="0.18" text-anchor="start" >AlloHighT</text>
<text x="7.20" y="510.20" font-size="12.6" fill="#000" stroke="#000" stroke-width="0.18" text-anchor="start" font-weight="bold" >D</text>
<rect x="49.00" y="522.40" width="79.70" height="15.90" fill="#4f5568" stroke="#111" stroke-width="1.2" />
<text x="88.85" y="533.00" font-size="8.3" fill="#fff" stroke="#fff" stroke-width="0.18" text-anchor="middle" >Naïve</text>
<polyline points="53.70,567.55 56.06,565.97 58.42,565.18 60.78,564.39 63.14,562.03 65.50,564.39 67.86,554.14 70.22,553.35 72.58,554.93 74.94,557.29 77.30,560.45 79.66,554.93 82.02,558.87 84.38,558.87 86.74,558.08 89.10,556.50 91.46,558.87 93.82,560.45 96.18,559.66 98.54,558.08 100.90,552.56 103.26,555.72 105.62,558.08 107.98,561.24 110.34,558.87 112.70,556.50 115.06,561.24 117.42,564.39 119.78,558.08 122.14,558.08 124.50,561.24" fill="none" stroke="#b0122e" stroke-width="1.2" stroke-linejoin="round" />
<rect x="51.95" y="565.80" width="3.50" height="3.50" fill="#b0122e" stroke="none" stroke-width="1" />
<rect x="54.31" y="564.22" width="3.50" height="3.50" fill="#b0122e" stroke="none" stroke-width="1" />
<rect x="56.67" y="563.43" width="3.50" height="3.50" fill="#b0122e" stroke="none" stroke-width="1" />
<rect x="59.03" y="562.64" width="3.50" height="3.50" fill="#b0122e" stroke="none" stroke-width="1" />
<rect x="61.39" y="560.28" width="3.50" height="3.50" fill="#b0122e" stroke="none" stroke-width="1" />
<rect x="63.75" y="562.64" width="3.50" height="3.50" fill="#b0122e" stroke="none" stroke-width="1" />
<rect x="66.11" y="552.39" width="3.50" height="3.50" fill="#b0122e" stroke="none" stroke-width="1" />
<rect x="68.47" y="551.60" width="3.50" height="3.50" fill="#b0122e" stroke="none" stroke-width="1" />
<rect x="70.83" y="553.18" width="3.50" height="3.50" fill="#b0122e" stroke="none" stroke-width="1" />
<rect x="73.19" y="555.54" width="3.50" height="3.50" fill="#b0122e" stroke="none" stroke-width="1" />
<rect x="75.55" y="558.70" width="3.50" height="3.50" fill="#b0122e" stroke="none" stroke-width="1" />
<rect x="77.91" y="553.18" width="3.50" height="3.50" fill="#b0122e" stroke="none" stroke-width="1" />
<rect x="80.27" y="557.12" width="3.50" height="3.50" fill="#b0122e" stroke="none" stroke-width="1" />
<rect x="82.63" y="557.12" width="3.50" height="3.50" fill="#b0122e" stroke="none" stroke-width="1" />
<rect x="84.99" y="556.33" width="3.50" height="3.50" fill="#b0122e" stroke="none" stroke-width="1" />
<rect x="87.35" y="554.75" width="3.50" height="3.50" fill="#b0122e" stroke="none" stroke-width="1" />
<rect x="89.71" y="557.12" width="3.50" height="3.50" fill="#b0122e" stroke="none" stroke-width="1" />
<rect x="92.07" y="558.70" width="3.50" height="3.50" fill="#b0122e" stroke="none" stroke-width="1" />
<rect x="94.43" y="557.91" width="3.50" height="3.50" fill="#b0122e" stroke="none" stroke-width="1" />
<rect x="96.79" y="556.33" width="3.50" height="3.50" fill="#b0122e" stroke="none" stroke-width="1" />
<rect x="99.15" y="550.81" width="3.50" height="3.50" fill="#b0122e" stroke="none" stroke-width="1" />
<rect x="101.51" y="553.97" width="3.50" height="3.50" fill="#b0122e" stroke="none" stroke-width="1" />
<rect x="103.87" y="556.33" width="3.50" height="3.50" fill="#b0122e" stroke="none" stroke-width="1" />
<rect x="106.23" y="559.49" width="3.50" height="3.50" fill="#b0122e" stroke="none" stroke-width="1" />
<rect x="108.59" y="557.12" width="3.50" height="3.50" fill="#b0122e" stroke="none" stroke-width="1" />
<rect x="110.95" y="554.75" width="3.50" height="3.50" fill="#b0122e" stroke="none" stroke-width="1" />
<rect x="113.31" y="559.49" width="3.50" height="3.50" fill="#b0122e" stroke="none" stroke-width="1" />
<rect x="115.67" y="562.64" width="3.50" height="3.50" fill="#b0122e" stroke="none" stroke-width="1" />
<rect x="118.03" y="556.33" width="3.50" height="3.50" fill="#b0122e" stroke="none" stroke-width="1" />
<rect x="120.39" y="556.33" width="3.50" height="3.50" fill="#b0122e" stroke="none" stroke-width="1" />
<rect x="122.75" y="559.49" width="3.50" height="3.50" fill="#b0122e" stroke="none" stroke-width="1" />
<polyline points="53.70,562.03 56.06,559.34 58.42,551.77 60.78,554.93 63.14,556.50 65.50,558.08 67.86,552.56 70.22,551.77 72.58,548.93 74.94,549.41 77.30,549.41 79.66,547.36 82.02,542.31 84.38,550.20 86.74,550.98 89.10,550.20 91.46,547.36 93.82,549.41 96.18,550.98 98.54,548.62 100.90,545.46 103.26,550.20 105.62,553.35 107.98,551.77 110.34,548.62 112.70,543.10 115.06,543.10 117.42,548.62 119.78,550.20 122.14,547.04 124.50,542.62" fill="none" stroke="#2d5390" stroke-width="1.2" stroke-linejoin="round" />
<rect x="51.95" y="560.28" width="3.50" height="3.50" fill="#2d5390" stroke="none" stroke-width="1" />
<rect x="54.31" y="557.59" width="3.50" height="3.50" fill="#2d5390" stroke="none" stroke-width="1" />
<rect x="56.67" y="550.02" width="3.50" height="3.50" fill="#2d5390" stroke="none" stroke-width="1" />
<rect x="59.03" y="553.18" width="3.50" height="3.50" fill="#2d5390" stroke="none" stroke-width="1" />
<rect x="61.39" y="554.75" width="3.50" height="3.50" fill="#2d5390" stroke="none" stroke-width="1" />
<rect x="63.75" y="556.33" width="3.50" height="3.50" fill="#2d5390" stroke="none" stroke-width="1" />
<rect x="66.11" y="550.81" width="3.50" height="3.50" fill="#2d5390" stroke="none" stroke-width="1" />
<rect x="68.47" y="550.02" width="3.50" height="3.50" fill="#2d5390" stroke="none" stroke-width="1" />
<rect x="70.83" y="547.18" width="3.50" height="3.50" fill="#2d5390" stroke="none" stroke-width="1" />
<rect x="73.19" y="547.66" width="3.50" height="3.50" fill="#2d5390" stroke="none" stroke-width="1" />
<rect x="75.55" y="547.66" width="3.50" height="3.50" fill="#2d5390" stroke="none" stroke-width="1" />
<rect x="77.91" y="545.61" width="3.50" height="3.50" fill="#2d5390" stroke="none" stroke-width="1" />
<rect x="80.27" y="540.56" width="3.50" height="3.50" fill="#2d5390" stroke="none" stroke-width="1" />
<rect x="82.63" y="548.45" width="3.50" height="3.50" fill="#2d5390" stroke="none" stroke-width="1" />
<rect x="84.99" y="549.23" width="3.50" height="3.50" fill="#2d5390" stroke="none" stroke-width="1" />
<rect x="87.35" y="548.45" width="3.50" height="3.50" fill="#2d5390" stroke="none" stroke-width="1" />
<rect x="89.71" y="545.61" width="3.50" height="3.50" fill="#2d5390" stroke="none" stroke-width="1" />
<rect x="92.07" y="547.66" width="3.50" height="3.50" fill="#2d5390" stroke="none" stroke-width="1" />
<rect x="94.43" y="549.23" width="3.50" height="3.50" fill="#2d5390" stroke="none" stroke-width="1" />
<rect x="96.79" y="546.87" width="3.50" height="3.50" fill="#2d5390" stroke="none" stroke-width="1" />
<rect x="99.15" y="543.71" width="3.50" height="3.50" fill="#2d5390" stroke="none" stroke-width="1" />
<rect x="101.51" y="548.45" width="3.50" height="3.50" fill="#2d5390" stroke="none" stroke-width="1" />
<rect x="103.87" y="551.60" width="3.50" height="3.50" fill="#2d5390" stroke="none" stroke-width="1" />
<rect x="106.23" y="550.02" width="3.50" height="3.50" fill="#2d5390" stroke="none" stroke-width="1" />
<rect x="108.59" y="546.87" width="3.50" height="3.50" fill="#2d5390" stroke="none" stroke-width="1" />
<rect x="110.95" y="541.35" width="3.50" height="3.50" fill="#2d5390" stroke="none" stroke-width="1" />
<rect x="113.31" y="541.35" width="3.50" height="3.50" fill="#2d5390" stroke="none" stroke-width="1" />
<rect x="115.67" y="546.87" width="3.50" height="3.50" fill="#2d5390" stroke="none" stroke-width="1" />
<rect x="118.03" y="548.45" width="3.50" height="3.50" fill="#2d5390" stroke="none" stroke-width="1" />
<rect x="120.39" y="545.29" width="3.50" height="3.50" fill="#2d5390" stroke="none" stroke-width="1" />
<rect x="122.75" y="540.87" width="3.50" height="3.50" fill="#2d5390" stroke="none" stroke-width="1" />
<rect x="49.00" y="538.30" width="79.70" height="64.90" fill="none" stroke="#111" stroke-width="1.2" />
<line x1="52.30" y1="603.20" x2="52.30" y2="606.20" stroke="#1a1a1a" stroke-width="1.0" />
<text x="52.30" y="616.60" font-size="8.6" fill="#1a1a1a" stroke="#1a1a1a" stroke-width="0.18" text-anchor="middle" >−7</text>
<line x1="69.31" y1="603.20" x2="69.31" y2="606.20" stroke="#1a1a1a" stroke-width="1.0" />
<text x="69.31" y="616.60" font-size="8.6" fill="#1a1a1a" stroke="#1a1a1a" stroke-width="0.18" text-anchor="middle" >0</text>
<line x1="86.32" y1="603.20" x2="86.32" y2="606.20" stroke="#1a1a1a" stroke-width="1.0" />
<text x="86.32" y="616.60" font-size="8.6" fill="#1a1a1a" stroke="#1a1a1a" stroke-width="0.18" text-anchor="middle" >7</text>
<line x1="103.33" y1="603.20" x2="103.33" y2="606.20" stroke="#1a1a1a" stroke-width="1.0" />
<text x="103.33" y="616.60" font-size="8.6" fill="#1a1a1a" stroke="#1a1a1a" stroke-width="0.18" text-anchor="middle" >14</text>
<line x1="120.34" y1="603.20" x2="120.34" y2="606.20" stroke="#1a1a1a" stroke-width="1.0" />
<text x="120.34" y="616.60" font-size="8.6" fill="#1a1a1a" stroke="#1a1a1a" stroke-width="0.18" text-anchor="middle" >21</text>
<line x1="45.70" y1="600.80" x2="49.00" y2="600.80" stroke="#1a1a1a" stroke-width="1.0" />
<text x="42.70" y="603.80" font-size="8.6" fill="#1a1a1a" stroke="#1a1a1a" stroke-width="0.18" text-anchor="end" >33</text>
<line x1="45.70" y1="588.90" x2="49.00" y2="588.90" stroke="#1a1a1a" stroke-width="1.0" />
<text x="42.70" y="591.90" font-size="8.6" fill="#1a1a1a" stroke="#1a1a1a" stroke-width="0.18" text-anchor="end" >34</text>
<line x1="45.70" y1="577.00" x2="49.00" y2="577.00" stroke="#1a1a1a" stroke-width="1.0" />
<text x="42.70" y="580.00" font-size="8.6" fill="#1a1a1a" stroke="#1a1a1a" stroke-width="0.18" text-anchor="end" >35</text>
<line x1="45.70" y1="565.10" x2="49.00" y2="565.10" stroke="#1a1a1a" stroke-width="1.0" />
<text x="42.70" y="568.10" font-size="8.6" fill="#1a1a1a" stroke="#1a1a1a" stroke-width="0.18" text-anchor="end" >36</text>
<line x1="45.70" y1="553.20" x2="49.00" y2="553.20" stroke="#1a1a1a" stroke-width="1.0" />
<text x="42.70" y="556.20" font-size="8.6" fill="#1a1a1a" stroke="#1a1a1a" stroke-width="0.18" text-anchor="end" >37</text>
<line x1="45.70" y1="541.30" x2="49.00" y2="541.30" stroke="#1a1a1a" stroke-width="1.0" />
<text x="42.70" y="544.30" font-size="8.6" fill="#1a1a1a" stroke="#1a1a1a" stroke-width="0.18" text-anchor="end" >38</text>
<rect x="139.40" y="522.40" width="79.70" height="15.90" fill="#6aaf45" stroke="#111" stroke-width="1.2" />
<text x="179.25" y="533.00" font-size="8.3" fill="#fff" stroke="#fff" stroke-width="0.18" text-anchor="middle" >SynHighT</text>
<polyline points="144.10,563.60 146.46,562.03 148.82,561.24 151.18,560.92 153.54,560.45 155.90,559.97 158.26,554.14 160.62,556.50 162.98,559.66 165.34,564.39 167.70,569.91 170.06,570.70 172.42,566.76 174.78,565.97 177.14,565.97 179.50,567.55 181.86,569.12 184.22,569.91 186.58,568.33 188.94,569.12 191.30,567.55 193.66,567.55 196.02,570.70 198.38,565.18 200.74,573.85 203.10,565.18 205.46,564.39 207.82,567.55 210.18,564.39 212.54,563.60 214.90,562.81" fill="none" stroke="#b0122e" stroke-width="1.2" stroke-linejoin="round" />
<rect x="142.35" y="561.85" width="3.50" height="3.50" fill="#b0122e" stroke="none" stroke-width="1" />
<rect x="144.71" y="560.28" width="3.50" height="3.50" fill="#b0122e" stroke="none" stroke-width="1" />
<rect x="147.07" y="559.49" width="3.50" height="3.50" fill="#b0122e" stroke="none" stroke-width="1" />
<rect x="149.43" y="559.17" width="3.50" height="3.50" fill="#b0122e" stroke="none" stroke-width="1" />
<rect x="151.79" y="558.70" width="3.50" height="3.50" fill="#b0122e" stroke="none" stroke-width="1" />
<rect x="154.15" y="558.22" width="3.50" height="3.50" fill="#b0122e" stroke="none" stroke-width="1" />
<rect x="156.51" y="552.39" width="3.50" height="3.50" fill="#b0122e" stroke="none" stroke-width="1" />
<rect x="158.87" y="554.75" width="3.50" height="3.50" fill="#b0122e" stroke="none" stroke-width="1" />
<rect x="161.23" y="557.91" width="3.50" height="3.50" fill="#b0122e" stroke="none" stroke-width="1" />
<rect x="163.59" y="562.64" width="3.50" height="3.50" fill="#b0122e" stroke="none" stroke-width="1" />
<rect x="165.95" y="568.16" width="3.50" height="3.50" fill="#b0122e" stroke="none" stroke-width="1" />
<rect x="168.31" y="568.95" width="3.50" height="3.50" fill="#b0122e" stroke="none" stroke-width="1" />
<rect x="170.67" y="565.01" width="3.50" height="3.50" fill="#b0122e" stroke="none" stroke-width="1" />
<rect x="173.03" y="564.22" width="3.50" height="3.50" fill="#b0122e" stroke="none" stroke-width="1" />
<rect x="175.39" y="564.22" width="3.50" height="3.50" fill="#b0122e" stroke="none" stroke-width="1" />
<rect x="177.75" y="565.80" width="3.50" height="3.50" fill="#b0122e" stroke="none" stroke-width="1" />
<rect x="180.11" y="567.37" width="3.50" height="3.50" fill="#b0122e" stroke="none" stroke-width="1" />
<rect x="182.47" y="568.16" width="3.50" height="3.50" fill="#b0122e" stroke="none" stroke-width="1" />
<rect x="184.83" y="566.58" width="3.50" height="3.50" fill="#b0122e" stroke="none" stroke-width="1" />
<rect x="187.19" y="567.37" width="3.50" height="3.50" fill="#b0122e" stroke="none" stroke-width="1" />
<rect x="189.55" y="565.80" width="3.50" height="3.50" fill="#b0122e" stroke="none" stroke-width="1" />
<rect x="191.91" y="565.80" width="3.50" height="3.50" fill="#b0122e" stroke="none" stroke-width="1" />
<rect x="194.27" y="568.95" width="3.50" height="3.50" fill="#b0122e" stroke="none" stroke-width="1" />
<rect x="196.63" y="563.43" width="3.50" height="3.50" fill="#b0122e" stroke="none" stroke-width="1" />
<rect x="198.99" y="572.10" width="3.50" height="3.50" fill="#b0122e" stroke="none" stroke-width="1" />
<rect x="201.35" y="563.43" width="3.50" height="3.50" fill="#b0122e" stroke="none" stroke-width="1" />
<rect x="203.71" y="562.64" width="3.50" height="3.50" fill="#b0122e" stroke="none" stroke-width="1" />
<rect x="206.07" y="565.80" width="3.50" height="3.50" fill="#b0122e" stroke="none" stroke-width="1" />
<rect x="208.43" y="562.64" width="3.50" height="3.50" fill="#b0122e" stroke="none" stroke-width="1" />
<rect x="210.79" y="561.85" width="3.50" height="3.50" fill="#b0122e" stroke="none" stroke-width="1" />
<rect x="213.15" y="561.06" width="3.50" height="3.50" fill="#b0122e" stroke="none" stroke-width="1" />
<polyline points="144.10,554.93 146.46,549.41 148.82,548.62 151.18,549.41 153.54,551.77 155.90,550.20 158.26,553.35 160.62,556.50 162.98,559.66 165.34,566.76 167.70,567.55 170.06,562.81 172.42,558.08 174.78,562.03 177.14,561.24 179.50,559.66 181.86,560.45 184.22,561.24 186.58,559.66 188.94,556.50 191.30,555.72 193.66,555.72 196.02,556.50 198.38,561.24 200.74,556.50 203.10,551.77 205.46,551.77 207.82,550.20 210.18,550.20 212.54,551.77 214.90,549.41" fill="none" stroke="#2d5390" stroke-width="1.2" stroke-linejoin="round" />
<rect x="142.35" y="553.18" width="3.50" height="3.50" fill="#2d5390" stroke="none" stroke-width="1" />
<rect x="144.71" y="547.66" width="3.50" height="3.50" fill="#2d5390" stroke="none" stroke-width="1" />
<rect x="147.07" y="546.87" width="3.50" height="3.50" fill="#2d5390" stroke="none" stroke-width="1" />
<rect x="149.43" y="547.66" width="3.50" height="3.50" fill="#2d5390" stroke="none" stroke-width="1" />
<rect x="151.79" y="550.02" width="3.50" height="3.50" fill="#2d5390" stroke="none" stroke-width="1" />
<rect x="154.15" y="548.45" width="3.50" height="3.50" fill="#2d5390" stroke="none" stroke-width="1" />
<rect x="156.51" y="551.60" width="3.50" height="3.50" fill="#2d5390" stroke="none" stroke-width="1" />
<rect x="158.87" y="554.75" width="3.50" height="3.50" fill="#2d5390" stroke="none" stroke-width="1" />
<rect x="161.23" y="557.91" width="3.50" height="3.50" fill="#2d5390" stroke="none" stroke-width="1" />
<rect x="163.59" y="565.01" width="3.50" height="3.50" fill="#2d5390" stroke="none" stroke-width="1" />
<rect x="165.95" y="565.80" width="3.50" height="3.50" fill="#2d5390" stroke="none" stroke-width="1" />
<rect x="168.31" y="561.06" width="3.50" height="3.50" fill="#2d5390" stroke="none" stroke-width="1" />
<rect x="170.67" y="556.33" width="3.50" height="3.50" fill="#2d5390" stroke="none" stroke-width="1" />
<rect x="173.03" y="560.28" width="3.50" height="3.50" fill="#2d5390" stroke="none" stroke-width="1" />
<rect x="175.39" y="559.49" width="3.50" height="3.50" fill="#2d5390" stroke="none" stroke-width="1" />
<rect x="177.75" y="557.91" width="3.50" height="3.50" fill="#2d5390" stroke="none" stroke-width="1" />
<rect x="180.11" y="558.70" width="3.50" height="3.50" fill="#2d5390" stroke="none" stroke-width="1" />
<rect x="182.47" y="559.49" width="3.50" height="3.50" fill="#2d5390" stroke="none" stroke-width="1" />
<rect x="184.83" y="557.91" width="3.50" height="3.50" fill="#2d5390" stroke="none" stroke-width="1" />
<rect x="187.19" y="554.75" width="3.50" height="3.50" fill="#2d5390" stroke="none" stroke-width="1" />
<rect x="189.55" y="553.97" width="3.50" height="3.50" fill="#2d5390" stroke="none" stroke-width="1" />
<rect x="191.91" y="553.97" width="3.50" height="3.50" fill="#2d5390" stroke="none" stroke-width="1" />
<rect x="194.27" y="554.75" width="3.50" height="3.50" fill="#2d5390" stroke="none" stroke-width="1" />
<rect x="196.63" y="559.49" width="3.50" height="3.50" fill="#2d5390" stroke="none" stroke-width="1" />
<rect x="198.99" y="554.75" width="3.50" height="3.50" fill="#2d5390" stroke="none" stroke-width="1" />
<rect x="201.35" y="550.02" width="3.50" height="3.50" fill="#2d5390" stroke="none" stroke-width="1" />
<rect x="203.71" y="550.02" width="3.50" height="3.50" fill="#2d5390" stroke="none" stroke-width="1" />
<rect x="206.07" y="548.45" width="3.50" height="3.50" fill="#2d5390" stroke="none" stroke-width="1" />
<rect x="208.43" y="548.45" width="3.50" height="3.50" fill="#2d5390" stroke="none" stroke-width="1" />
<rect x="210.79" y="550.02" width="3.50" height="3.50" fill="#2d5390" stroke="none" stroke-width="1" />
<rect x="213.15" y="547.66" width="3.50" height="3.50" fill="#2d5390" stroke="none" stroke-width="1" />
<rect x="139.40" y="538.30" width="79.70" height="64.90" fill="none" stroke="#111" stroke-width="1.2" />
<line x1="142.70" y1="603.20" x2="142.70" y2="606.20" stroke="#1a1a1a" stroke-width="1.0" />
<text x="142.70" y="616.60" font-size="8.6" fill="#1a1a1a" stroke="#1a1a1a" stroke-width="0.18" text-anchor="middle" >−7</text>
<line x1="159.71" y1="603.20" x2="159.71" y2="606.20" stroke="#1a1a1a" stroke-width="1.0" />
<text x="159.71" y="616.60" font-size="8.6" fill="#1a1a1a" stroke="#1a1a1a" stroke-width="0.18" text-anchor="middle" >0</text>
<line x1="176.72" y1="603.20" x2="176.72" y2="606.20" stroke="#1a1a1a" stroke-width="1.0" />
<text x="176.72" y="616.60" font-size="8.6" fill="#1a1a1a" stroke="#1a1a1a" stroke-width="0.18" text-anchor="middle" >7</text>
<line x1="193.73" y1="603.20" x2="193.73" y2="606.20" stroke="#1a1a1a" stroke-width="1.0" />
<text x="193.73" y="616.60" font-size="8.6" fill="#1a1a1a" stroke="#1a1a1a" stroke-width="0.18" text-anchor="middle" >14</text>
<line x1="210.74" y1="603.20" x2="210.74" y2="606.20" stroke="#1a1a1a" stroke-width="1.0" />
<text x="210.74" y="616.60" font-size="8.6" fill="#1a1a1a" stroke="#1a1a1a" stroke-width="0.18" text-anchor="middle" >21</text>
<line x1="136.10" y1="600.80" x2="139.40" y2="600.80" stroke="#1a1a1a" stroke-width="1.0" />
<line x1="136.10" y1="588.90" x2="139.40" y2="588.90" stroke="#1a1a1a" stroke-width="1.0" />
<line x1="136.10" y1="577.00" x2="139.40" y2="577.00" stroke="#1a1a1a" stroke-width="1.0" />
<line x1="136.10" y1="565.10" x2="139.40" y2="565.10" stroke="#1a1a1a" stroke-width="1.0" />
<line x1="136.10" y1="553.20" x2="139.40" y2="553.20" stroke="#1a1a1a" stroke-width="1.0" />
<line x1="136.10" y1="541.30" x2="139.40" y2="541.30" stroke="#1a1a1a" stroke-width="1.0" />
<rect x="229.90" y="522.40" width="79.70" height="15.90" fill="#c8007a" stroke="#111" stroke-width="1.2" />
<text x="269.75" y="533.00" font-size="8.3" fill="#fff" stroke="#fff" stroke-width="0.18" text-anchor="middle" >AlloHighT</text>
<polyline points="234.60,558.87 236.96,559.34 239.32,559.66 241.68,558.87 244.04,558.08 246.40,558.87 248.76,552.56 251.12,554.93 253.48,563.60 255.84,565.18 258.20,565.18 260.56,565.97 262.92,554.14 265.28,560.45 267.64,573.07 270.00,572.28 272.36,567.55 274.72,565.18 277.08,564.71 279.44,564.08 281.80,565.18 284.16,565.97 286.52,565.65 288.88,567.23 291.24,568.33 293.60,569.91 295.96,570.38 298.32,570.70 300.68,572.59 303.04,569.91 305.40,568.81" fill="none" stroke="#b0122e" stroke-width="1.2" stroke-linejoin="round" />
<rect x="232.85" y="557.12" width="3.50" height="3.50" fill="#b0122e" stroke="none" stroke-width="1" />
<rect x="235.21" y="557.59" width="3.50" height="3.50" fill="#b0122e" stroke="none" stroke-width="1" />
<rect x="237.57" y="557.91" width="3.50" height="3.50" fill="#b0122e" stroke="none" stroke-width="1" />
<rect x="239.93" y="557.12" width="3.50" height="3.50" fill="#b0122e" stroke="none" stroke-width="1" />
<rect x="242.29" y="556.33" width="3.50" height="3.50" fill="#b0122e" stroke="none" stroke-width="1" />
<rect x="244.65" y="557.12" width="3.50" height="3.50" fill="#b0122e" stroke="none" stroke-width="1" />
<rect x="247.01" y="550.81" width="3.50" height="3.50" fill="#b0122e" stroke="none" stroke-width="1" />
<rect x="249.37" y="553.18" width="3.50" height="3.50" fill="#b0122e" stroke="none" stroke-width="1" />
<rect x="251.73" y="561.85" width="3.50" height="3.50" fill="#b0122e" stroke="none" stroke-width="1" />
<rect x="254.09" y="563.43" width="3.50" height="3.50" fill="#b0122e" stroke="none" stroke-width="1" />
<rect x="256.45" y="563.43" width="3.50" height="3.50" fill="#b0122e" stroke="none" stroke-width="1" />
<rect x="258.81" y="564.22" width="3.50" height="3.50" fill="#b0122e" stroke="none" stroke-width="1" />
<rect x="261.17" y="552.39" width="3.50" height="3.50" fill="#b0122e" stroke="none" stroke-width="1" />
<rect x="263.53" y="558.70" width="3.50" height="3.50" fill="#b0122e" stroke="none" stroke-width="1" />
<rect x="265.89" y="571.32" width="3.50" height="3.50" fill="#b0122e" stroke="none" stroke-width="1" />
<rect x="268.25" y="570.53" width="3.50" height="3.50" fill="#b0122e" stroke="none" stroke-width="1" />
<rect x="270.61" y="565.80" width="3.50" height="3.50" fill="#b0122e" stroke="none" stroke-width="1" />
<rect x="272.97" y="563.43" width="3.50" height="3.50" fill="#b0122e" stroke="none" stroke-width="1" />
<rect x="275.33" y="562.96" width="3.50" height="3.50" fill="#b0122e" stroke="none" stroke-width="1" />
<rect x="277.69" y="562.33" width="3.50" height="3.50" fill="#b0122e" stroke="none" stroke-width="1" />
<rect x="280.05" y="563.43" width="3.50" height="3.50" fill="#b0122e" stroke="none" stroke-width="1" />
<rect x="282.41" y="564.22" width="3.50" height="3.50" fill="#b0122e" stroke="none" stroke-width="1" />
<rect x="284.77" y="563.90" width="3.50" height="3.50" fill="#b0122e" stroke="none" stroke-width="1" />
<rect x="287.13" y="565.48" width="3.50" height="3.50" fill="#b0122e" stroke="none" stroke-width="1" />
<rect x="289.49" y="566.58" width="3.50" height="3.50" fill="#b0122e" stroke="none" stroke-width="1" />
<rect x="291.85" y="568.16" width="3.50" height="3.50" fill="#b0122e" stroke="none" stroke-width="1" />
<rect x="294.21" y="568.63" width="3.50" height="3.50" fill="#b0122e" stroke="none" stroke-width="1" />
<rect x="296.57" y="568.95" width="3.50" height="3.50" fill="#b0122e" stroke="none" stroke-width="1" />
<rect x="298.93" y="570.84" width="3.50" height="3.50" fill="#b0122e" stroke="none" stroke-width="1" />
<rect x="301.29" y="568.16" width="3.50" height="3.50" fill="#b0122e" stroke="none" stroke-width="1" />
<rect x="303.65" y="567.06" width="3.50" height="3.50" fill="#b0122e" stroke="none" stroke-width="1" />
<polyline points="234.60,549.41 236.96,547.36 239.32,547.04 241.68,546.73 244.04,548.62 246.40,546.25 248.76,555.72 251.12,558.08 253.48,564.39 255.84,569.91 258.20,572.28 260.56,569.12 262.92,559.66 265.28,571.49 267.64,584.90 270.00,577.01 272.36,569.91 274.72,566.76 277.08,566.76 279.44,569.12 281.80,574.64 284.16,577.01 286.52,580.16 288.88,581.74 291.24,586.47 293.60,590.42 295.96,587.26 298.32,586.47 300.68,591.21 303.04,590.42 305.40,582.53" fill="none" stroke="#2d5390" stroke-width="1.2" stroke-linejoin="round" />
<rect x="232.85" y="547.66" width="3.50" height="3.50" fill="#2d5390" stroke="none" stroke-width="1" />
<rect x="235.21" y="545.61" width="3.50" height="3.50" fill="#2d5390" stroke="none" stroke-width="1" />
<rect x="237.57" y="545.29" width="3.50" height="3.50" fill="#2d5390" stroke="none" stroke-width="1" />
<rect x="239.93" y="544.98" width="3.50" height="3.50" fill="#2d5390" stroke="none" stroke-width="1" />
<rect x="242.29" y="546.87" width="3.50" height="3.50" fill="#2d5390" stroke="none" stroke-width="1" />
<rect x="244.65" y="544.50" width="3.50" height="3.50" fill="#2d5390" stroke="none" stroke-width="1" />
<rect x="247.01" y="553.97" width="3.50" height="3.50" fill="#2d5390" stroke="none" stroke-width="1" />
<rect x="249.37" y="556.33" width="3.50" height="3.50" fill="#2d5390" stroke="none" stroke-width="1" />
<rect x="251.73" y="562.64" width="3.50" height="3.50" fill="#2d5390" stroke="none" stroke-width="1" />
<rect x="254.09" y="568.16" width="3.50" height="3.50" fill="#2d5390" stroke="none" stroke-width="1" />
<rect x="256.45" y="570.53" width="3.50" height="3.50" fill="#2d5390" stroke="none" stroke-width="1" />
<rect x="258.81" y="567.37" width="3.50" height="3.50" fill="#2d5390" stroke="none" stroke-width="1" />
<rect x="261.17" y="557.91" width="3.50" height="3.50" fill="#2d5390" stroke="none" stroke-width="1" />
<rect x="263.53" y="569.74" width="3.50" height="3.50" fill="#2d5390" stroke="none" stroke-width="1" />
<rect x="265.89" y="583.15" width="3.50" height="3.50" fill="#2d5390" stroke="none" stroke-width="1" />
<rect x="268.25" y="575.26" width="3.50" height="3.50" fill="#2d5390" stroke="none" stroke-width="1" />
<rect x="270.61" y="568.16" width="3.50" height="3.50" fill="#2d5390" stroke="none" stroke-width="1" />
<rect x="272.97" y="565.01" width="3.50" height="3.50" fill="#2d5390" stroke="none" stroke-width="1" />
<rect x="275.33" y="565.01" width="3.50" height="3.50" fill="#2d5390" stroke="none" stroke-width="1" />
<rect x="277.69" y="567.37" width="3.50" height="3.50" fill="#2d5390" stroke="none" stroke-width="1" />
<rect x="280.05" y="572.89" width="3.50" height="3.50" fill="#2d5390" stroke="none" stroke-width="1" />
<rect x="282.41" y="575.26" width="3.50" height="3.50" fill="#2d5390" stroke="none" stroke-width="1" />
<rect x="284.77" y="578.41" width="3.50" height="3.50" fill="#2d5390" stroke="none" stroke-width="1" />
<rect x="287.13" y="579.99" width="3.50" height="3.50" fill="#2d5390" stroke="none" stroke-width="1" />
<rect x="289.49" y="584.72" width="3.50" height="3.50" fill="#2d5390" stroke="none" stroke-width="1" />
<rect x="291.85" y="588.67" width="3.50" height="3.50" fill="#2d5390" stroke="none" stroke-width="1" />
<rect x="294.21" y="585.51" width="3.50" height="3.50" fill="#2d5390" stroke="none" stroke-width="1" />
<rect x="296.57" y="584.72" width="3.50" height="3.50" fill="#2d5390" stroke="none" stroke-width="1" />
<rect x="298.93" y="589.46" width="3.50" height="3.50" fill="#2d5390" stroke="none" stroke-width="1" />
<rect x="301.29" y="588.67" width="3.50" height="3.50" fill="#2d5390" stroke="none" stroke-width="1" />
<rect x="303.65" y="580.78" width="3.50" height="3.50" fill="#2d5390" stroke="none" stroke-width="1" />
<rect x="229.90" y="538.30" width="79.70" height="64.90" fill="none" stroke="#111" stroke-width="1.2" />
<line x1="233.20" y1="603.20" x2="233.20" y2="606.20" stroke="#1a1a1a" stroke-width="1.0" />
<text x="233.20" y="616.60" font-size="8.6" fill="#1a1a1a" stroke="#1a1a1a" stroke-width="0.18" text-anchor="middle" >−7</text>
<line x1="250.21" y1="603.20" x2="250.21" y2="606.20" stroke="#1a1a1a" stroke-width="1.0" />
<text x="250.21" y="616.60" font-size="8.6" fill="#1a1a1a" stroke="#1a1a1a" stroke-width="0.18" text-anchor="middle" >0</text>
<line x1="267.22" y1="603.20" x2="267.22" y2="606.20" stroke="#1a1a1a" stroke-width="1.0" />
<text x="267.22" y="616.60" font-size="8.6" fill="#1a1a1a" stroke="#1a1a1a" stroke-width="0.18" text-anchor="middle" >7</text>
<line x1="284.23" y1="603.20" x2="284.23" y2="606.20" stroke="#1a1a1a" stroke-width="1.0" />
<text x="284.23" y="616.60" font-size="8.6" fill="#1a1a1a" stroke="#1a1a1a" stroke-width="0.18" text-anchor="middle" >14</text>
<line x1="301.24" y1="603.20" x2="301.24" y2="606.20" stroke="#1a1a1a" stroke-width="1.0" />
<text x="301.24" y="616.60" font-size="8.6" fill="#1a1a1a" stroke="#1a1a1a" stroke-width="0.18" text-anchor="middle" >21</text>
<line x1="226.60" y1="600.80" x2="229.90" y2="600.80" stroke="#1a1a1a" stroke-width="1.0" />
<line x1="226.60" y1="588.90" x2="229.90" y2="588.90" stroke="#1a1a1a" stroke-width="1.0" />
<line x1="226.60" y1="577.00" x2="229.90" y2="577.00" stroke="#1a1a1a" stroke-width="1.0" />
<line x1="226.60" y1="565.10" x2="229.90" y2="565.10" stroke="#1a1a1a" stroke-width="1.0" />
<line x1="226.60" y1="553.20" x2="229.90" y2="553.20" stroke="#1a1a1a" stroke-width="1.0" />
<line x1="226.60" y1="541.30" x2="229.90" y2="541.30" stroke="#1a1a1a" stroke-width="1.0" />
<text x="178.80" y="630.80" font-size="9.0" fill="#1a1a1a" stroke="#1a1a1a" stroke-width="0.15" text-anchor="middle" textLength="50.0" lengthAdjust="spacingAndGlyphs" font-weight="bold">Days (post HCT)</text>
<text x="15.00" y="570.40" font-size="9.5" fill="#1a1a1a" stroke="#1a1a1a" stroke-width="0.22" text-anchor="middle" textLength="61.0" lengthAdjust="spacingAndGlyphs" transform="rotate(-90 15.00 570.40)" font-weight="bold">Mean day and night</text>
<text x="28.20" y="570.90" font-size="9.5" fill="#1a1a1a" stroke="#1a1a1a" stroke-width="0.22" text-anchor="middle" textLength="52.6" lengthAdjust="spacingAndGlyphs" transform="rotate(-90 28.20 570.90)" font-weight="bold">time temperature</text>
<line x1="127.40" y1="514.00" x2="136.20" y2="514.00" stroke="#2d5390" stroke-width="1.1" />
<rect x="130.00" y="512.20" width="3.60" height="3.60" fill="#2d5390" stroke="none" stroke-width="1" />
<text x="140.20" y="516.70" font-size="8.1" fill="#1a1a1a" stroke="#1a1a1a" stroke-width="0.18" text-anchor="start" >Night time</text>
<line x1="185.60" y1="514.00" x2="194.40" y2="514.00" stroke="#b0122e" stroke-width="1.1" />
<rect x="188.20" y="512.20" width="3.60" height="3.60" fill="#b0122e" stroke="none" stroke-width="1" />
<text x="199.40" y="516.70" font-size="8.1" fill="#1a1a1a" stroke="#1a1a1a" stroke-width="0.18" text-anchor="start" >Day time</text>
<text x="325.70" y="510.20" font-size="12.4" fill="#000" stroke="#000" stroke-width="0.18" text-anchor="start" font-weight="bold" >E</text>
<polyline points="371.00,551.48 372.76,549.66 374.52,538.46 376.28,544.97 378.04,551.48 379.80,550.18 381.56,558.00 383.32,558.00 385.08,550.70 386.84,547.58 388.60,542.37 390.36,548.10 392.12,533.25 393.88,546.28 395.64,548.88 397.40,550.18 399.16,541.59 400.92,542.37 402.68,546.28 404.44,544.97 406.20,548.88 407.96,551.48 409.72,552.79 411.48,544.97 413.24,543.67 415.00,538.46 416.76,530.65 418.52,534.55 420.28,547.58 422.04,542.37 423.80,529.87" fill="none" stroke="#7a8196" stroke-width="0.8" stroke-linejoin="round" />
<circle cx="371.00" cy="551.48" r="1.55" fill="none" stroke="#7a8196" stroke-width="0.75"/>
<circle cx="372.76" cy="549.66" r="1.55" fill="none" stroke="#7a8196" stroke-width="0.75"/>
<circle cx="374.52" cy="538.46" r="1.55" fill="none" stroke="#7a8196" stroke-width="0.75"/>
<circle cx="376.28" cy="544.97" r="1.55" fill="none" stroke="#7a8196" stroke-width="0.75"/>
<circle cx="378.04" cy="551.48" r="1.55" fill="none" stroke="#7a8196" stroke-width="0.75"/>
<circle cx="379.80" cy="550.18" r="1.55" fill="none" stroke="#7a8196" stroke-width="0.75"/>
<circle cx="381.56" cy="558.00" r="1.55" fill="none" stroke="#7a8196" stroke-width="0.75"/>
<circle cx="383.32" cy="558.00" r="1.55" fill="none" stroke="#7a8196" stroke-width="0.75"/>
<circle cx="385.08" cy="550.70" r="1.55" fill="none" stroke="#7a8196" stroke-width="0.75"/>
<circle cx="386.84" cy="547.58" r="1.55" fill="none" stroke="#7a8196" stroke-width="0.75"/>
<circle cx="388.60" cy="542.37" r="1.55" fill="none" stroke="#7a8196" stroke-width="0.75"/>
<circle cx="390.36" cy="548.10" r="1.55" fill="none" stroke="#7a8196" stroke-width="0.75"/>
<circle cx="392.12" cy="533.25" r="1.55" fill="none" stroke="#7a8196" stroke-width="0.75"/>
<circle cx="393.88" cy="546.28" r="1.55" fill="none" stroke="#7a8196" stroke-width="0.75"/>
<circle cx="395.64" cy="548.88" r="1.55" fill="none" stroke="#7a8196" stroke-width="0.75"/>
<circle cx="397.40" cy="550.18" r="1.55" fill="none" stroke="#7a8196" stroke-width="0.75"/>
<circle cx="399.16" cy="541.59" r="1.55" fill="none" stroke="#7a8196" stroke-width="0.75"/>
<circle cx="400.92" cy="542.37" r="1.55" fill="none" stroke="#7a8196" stroke-width="0.75"/>
<circle cx="402.68" cy="546.28" r="1.55" fill="none" stroke="#7a8196" stroke-width="0.75"/>
<circle cx="404.44" cy="544.97" r="1.55" fill="none" stroke="#7a8196" stroke-width="0.75"/>
<circle cx="406.20" cy="548.88" r="1.55" fill="none" stroke="#7a8196" stroke-width="0.75"/>
<circle cx="407.96" cy="551.48" r="1.55" fill="none" stroke="#7a8196" stroke-width="0.75"/>
<circle cx="409.72" cy="552.79" r="1.55" fill="none" stroke="#7a8196" stroke-width="0.75"/>
<circle cx="411.48" cy="544.97" r="1.55" fill="none" stroke="#7a8196" stroke-width="0.75"/>
<circle cx="413.24" cy="543.67" r="1.55" fill="none" stroke="#7a8196" stroke-width="0.75"/>
<circle cx="415.00" cy="538.46" r="1.55" fill="none" stroke="#7a8196" stroke-width="0.75"/>
<circle cx="416.76" cy="530.65" r="1.55" fill="none" stroke="#7a8196" stroke-width="0.75"/>
<circle cx="418.52" cy="534.55" r="1.55" fill="none" stroke="#7a8196" stroke-width="0.75"/>
<circle cx="420.28" cy="547.58" r="1.55" fill="none" stroke="#7a8196" stroke-width="0.75"/>
<circle cx="422.04" cy="542.37" r="1.55" fill="none" stroke="#7a8196" stroke-width="0.75"/>
<circle cx="423.80" cy="529.87" r="1.55" fill="none" stroke="#7a8196" stroke-width="0.75"/>
<polyline points="371.00,546.28 372.76,539.76 374.52,539.76 376.28,541.59 378.04,546.28 379.80,544.45 381.56,559.30 383.32,560.60 385.08,560.60 386.84,564.51 388.60,556.69 390.36,547.58 392.12,546.28 393.88,554.09 395.64,552.79 397.40,547.58 399.16,546.28 400.92,546.28 402.68,546.28 404.44,539.76 406.20,541.07 407.96,541.07 409.72,537.16 411.48,554.09 413.24,531.95 415.00,538.46 416.76,539.76 418.52,531.95 420.28,537.16 422.04,541.07 423.80,538.46" fill="none" stroke="#4e8a5e" stroke-width="0.8" stroke-linejoin="round" />
<circle cx="371.00" cy="546.28" r="1.55" fill="none" stroke="#4e8a5e" stroke-width="0.75"/>
<circle cx="372.76" cy="539.76" r="1.55" fill="none" stroke="#4e8a5e" stroke-width="0.75"/>
<circle cx="374.52" cy="539.76" r="1.55" fill="none" stroke="#4e8a5e" stroke-width="0.75"/>
<circle cx="376.28" cy="541.59" r="1.55" fill="none" stroke="#4e8a5e" stroke-width="0.75"/>
<circle cx="378.04" cy="546.28" r="1.55" fill="none" stroke="#4e8a5e" stroke-width="0.75"/>
<circle cx="379.80" cy="544.45" r="1.55" fill="none" stroke="#4e8a5e" stroke-width="0.75"/>
<circle cx="381.56" cy="559.30" r="1.55" fill="none" stroke="#4e8a5e" stroke-width="0.75"/>
<circle cx="383.32" cy="560.60" r="1.55" fill="none" stroke="#4e8a5e" stroke-width="0.75"/>
<circle cx="385.08" cy="560.60" r="1.55" fill="none" stroke="#4e8a5e" stroke-width="0.75"/>
<circle cx="386.84" cy="564.51" r="1.55" fill="none" stroke="#4e8a5e" stroke-width="0.75"/>
<circle cx="388.60" cy="556.69" r="1.55" fill="none" stroke="#4e8a5e" stroke-width="0.75"/>
<circle cx="390.36" cy="547.58" r="1.55" fill="none" stroke="#4e8a5e" stroke-width="0.75"/>
<circle cx="392.12" cy="546.28" r="1.55" fill="none" stroke="#4e8a5e" stroke-width="0.75"/>
<circle cx="393.88" cy="554.09" r="1.55" fill="none" stroke="#4e8a5e" stroke-width="0.75"/>
<circle cx="395.64" cy="552.79" r="1.55" fill="none" stroke="#4e8a5e" stroke-width="0.75"/>
<circle cx="397.40" cy="547.58" r="1.55" fill="none" stroke="#4e8a5e" stroke-width="0.75"/>
<circle cx="399.16" cy="546.28" r="1.55" fill="none" stroke="#4e8a5e" stroke-width="0.75"/>
<circle cx="400.92" cy="546.28" r="1.55" fill="none" stroke="#4e8a5e" stroke-width="0.75"/>
<circle cx="402.68" cy="546.28" r="1.55" fill="none" stroke="#4e8a5e" stroke-width="0.75"/>
<circle cx="404.44" cy="539.76" r="1.55" fill="none" stroke="#4e8a5e" stroke-width="0.75"/>
<circle cx="406.20" cy="541.07" r="1.55" fill="none" stroke="#4e8a5e" stroke-width="0.75"/>
<circle cx="407.96" cy="541.07" r="1.55" fill="none" stroke="#4e8a5e" stroke-width="0.75"/>
<circle cx="409.72" cy="537.16" r="1.55" fill="none" stroke="#4e8a5e" stroke-width="0.75"/>
<circle cx="411.48" cy="554.09" r="1.55" fill="none" stroke="#4e8a5e" stroke-width="0.75"/>
<circle cx="413.24" cy="531.95" r="1.55" fill="none" stroke="#4e8a5e" stroke-width="0.75"/>
<circle cx="415.00" cy="538.46" r="1.55" fill="none" stroke="#4e8a5e" stroke-width="0.75"/>
<circle cx="416.76" cy="539.76" r="1.55" fill="none" stroke="#4e8a5e" stroke-width="0.75"/>
<circle cx="418.52" cy="531.95" r="1.55" fill="none" stroke="#4e8a5e" stroke-width="0.75"/>
<circle cx="420.28" cy="537.16" r="1.55" fill="none" stroke="#4e8a5e" stroke-width="0.75"/>
<circle cx="422.04" cy="541.07" r="1.55" fill="none" stroke="#4e8a5e" stroke-width="0.75"/>
<circle cx="423.80" cy="538.46" r="1.55" fill="none" stroke="#4e8a5e" stroke-width="0.75"/>
<polyline points="371.00,544.97 372.76,540.81 374.52,539.76 376.28,540.55 378.04,544.97 379.80,539.76 381.56,565.81 383.32,565.81 385.08,561.90 386.84,568.41 388.60,572.32 390.36,565.81 392.12,569.72 393.88,578.83 395.64,580.13 397.40,568.41 399.16,564.51 400.92,563.20 402.68,563.99 404.44,568.93 406.20,576.23 407.96,578.83 409.72,584.56 411.48,584.56 413.24,590.55 415.00,594.46 416.76,588.47 418.52,586.65 420.28,591.33 422.04,594.46 423.80,583.26" fill="none" stroke="#d3198f" stroke-width="0.8" stroke-linejoin="round" />
<circle cx="371.00" cy="544.97" r="1.55" fill="none" stroke="#d3198f" stroke-width="0.75"/>
<circle cx="372.76" cy="540.81" r="1.55" fill="none" stroke="#d3198f" stroke-width="0.75"/>
<circle cx="374.52" cy="539.76" r="1.55" fill="none" stroke="#d3198f" stroke-width="0.75"/>
<circle cx="376.28" cy="540.55" r="1.55" fill="none" stroke="#d3198f" stroke-width="0.75"/>
<circle cx="378.04" cy="544.97" r="1.55" fill="none" stroke="#d3198f" stroke-width="0.75"/>
<circle cx="379.80" cy="539.76" r="1.55" fill="none" stroke="#d3198f" stroke-width="0.75"/>
<circle cx="381.56" cy="565.81" r="1.55" fill="none" stroke="#d3198f" stroke-width="0.75"/>
<circle cx="383.32" cy="565.81" r="1.55" fill="none" stroke="#d3198f" stroke-width="0.75"/>
<circle cx="385.08" cy="561.90" r="1.55" fill="none" stroke="#d3198f" stroke-width="0.75"/>
<circle cx="386.84" cy="568.41" r="1.55" fill="none" stroke="#d3198f" stroke-width="0.75"/>
<circle cx="388.60" cy="572.32" r="1.55" fill="none" stroke="#d3198f" stroke-width="0.75"/>
<circle cx="390.36" cy="565.81" r="1.55" fill="none" stroke="#d3198f" stroke-width="0.75"/>
<circle cx="392.12" cy="569.72" r="1.55" fill="none" stroke="#d3198f" stroke-width="0.75"/>
<circle cx="393.88" cy="578.83" r="1.55" fill="none" stroke="#d3198f" stroke-width="0.75"/>
<circle cx="395.64" cy="580.13" r="1.55" fill="none" stroke="#d3198f" stroke-width="0.75"/>
<circle cx="397.40" cy="568.41" r="1.55" fill="none" stroke="#d3198f" stroke-width="0.75"/>
<circle cx="399.16" cy="564.51" r="1.55" fill="none" stroke="#d3198f" stroke-width="0.75"/>
<circle cx="400.92" cy="563.20" r="1.55" fill="none" stroke="#d3198f" stroke-width="0.75"/>
<circle cx="402.68" cy="563.99" r="1.55" fill="none" stroke="#d3198f" stroke-width="0.75"/>
<circle cx="404.44" cy="568.93" r="1.55" fill="none" stroke="#d3198f" stroke-width="0.75"/>
<circle cx="406.20" cy="576.23" r="1.55" fill="none" stroke="#d3198f" stroke-width="0.75"/>
<circle cx="407.96" cy="578.83" r="1.55" fill="none" stroke="#d3198f" stroke-width="0.75"/>
<circle cx="409.72" cy="584.56" r="1.55" fill="none" stroke="#d3198f" stroke-width="0.75"/>
<circle cx="411.48" cy="584.56" r="1.55" fill="none" stroke="#d3198f" stroke-width="0.75"/>
<circle cx="413.24" cy="590.55" r="1.55" fill="none" stroke="#d3198f" stroke-width="0.75"/>
<circle cx="415.00" cy="594.46" r="1.55" fill="none" stroke="#d3198f" stroke-width="0.75"/>
<circle cx="416.76" cy="588.47" r="1.55" fill="none" stroke="#d3198f" stroke-width="0.75"/>
<circle cx="418.52" cy="586.65" r="1.55" fill="none" stroke="#d3198f" stroke-width="0.75"/>
<circle cx="420.28" cy="591.33" r="1.55" fill="none" stroke="#d3198f" stroke-width="0.75"/>
<circle cx="422.04" cy="594.46" r="1.55" fill="none" stroke="#d3198f" stroke-width="0.75"/>
<circle cx="423.80" cy="583.26" r="1.55" fill="none" stroke="#d3198f" stroke-width="0.75"/>
<rect x="367.90" y="517.50" width="59.30" height="86.20" fill="none" stroke="#111" stroke-width="1.2" />
<line x1="364.60" y1="521.30" x2="367.90" y2="521.30" stroke="#1a1a1a" stroke-width="1.0" />
<text x="362.60" y="524.30" font-size="8.6" fill="#1a1a1a" stroke="#1a1a1a" stroke-width="0.18" text-anchor="end" >2</text>
<line x1="364.60" y1="540.95" x2="367.90" y2="540.95" stroke="#1a1a1a" stroke-width="1.0" />
<text x="362.60" y="543.95" font-size="8.6" fill="#1a1a1a" stroke="#1a1a1a" stroke-width="0.18" text-anchor="end" >1</text>
<line x1="364.60" y1="560.60" x2="367.90" y2="560.60" stroke="#1a1a1a" stroke-width="1.0" />
<text x="362.60" y="563.60" font-size="8.6" fill="#1a1a1a" stroke="#1a1a1a" stroke-width="0.18" text-anchor="end" >0</text>
<line x1="364.60" y1="580.25" x2="367.90" y2="580.25" stroke="#1a1a1a" stroke-width="1.0" />
<text x="362.60" y="583.25" font-size="8.6" fill="#1a1a1a" stroke="#1a1a1a" stroke-width="0.18" text-anchor="end" >−1</text>
<line x1="364.60" y1="599.90" x2="367.90" y2="599.90" stroke="#1a1a1a" stroke-width="1.0" />
<text x="362.60" y="602.90" font-size="8.6" fill="#1a1a1a" stroke="#1a1a1a" stroke-width="0.18" text-anchor="end" >−2</text>
<line x1="370.70" y1="603.70" x2="370.70" y2="606.70" stroke="#1a1a1a" stroke-width="1.0" />
<text x="370.70" y="618.30" font-size="8.6" fill="#1a1a1a" stroke="#1a1a1a" stroke-width="0.18" text-anchor="middle" >−7</text>
<line x1="383.20" y1="603.70" x2="383.20" y2="606.70" stroke="#1a1a1a" stroke-width="1.0" />
<text x="383.20" y="618.30" font-size="8.6" fill="#1a1a1a" stroke="#1a1a1a" stroke-width="0.18" text-anchor="middle" >0</text>
<line x1="395.70" y1="603.70" x2="395.70" y2="606.70" stroke="#1a1a1a" stroke-width="1.0" />
<text x="395.70" y="618.30" font-size="8.6" fill="#1a1a1a" stroke="#1a1a1a" stroke-width="0.18" text-anchor="middle" >7</text>
<line x1="408.20" y1="603.70" x2="408.20" y2="606.70" stroke="#1a1a1a" stroke-width="1.0" />
<text x="408.20" y="618.30" font-size="8.6" fill="#1a1a1a" stroke="#1a1a1a" stroke-width="0.18" text-anchor="middle" >14</text>
<line x1="420.71" y1="603.70" x2="420.71" y2="606.70" stroke="#1a1a1a" stroke-width="1.0" />
<text x="420.71" y="618.30" font-size="8.6" fill="#1a1a1a" stroke="#1a1a1a" stroke-width="0.18" text-anchor="middle" >21</text>
<text x="397.00" y="630.80" font-size="9.0" fill="#1a1a1a" stroke="#1a1a1a" stroke-width="0.15" text-anchor="middle" textLength="51.5" lengthAdjust="spacingAndGlyphs" font-weight="bold">Days (post HCT)</text>
<text x="333.60" y="560.40" font-size="9.6" fill="#1a1a1a" stroke="#1a1a1a" stroke-width="0.25" text-anchor="middle" textLength="69.8" lengthAdjust="spacingAndGlyphs" transform="rotate(-90 333.60 560.40)" font-weight="bold">Night–day temperature</text>
<text x="346.00" y="560.40" font-size="9.6" fill="#1a1a1a" stroke="#1a1a1a" stroke-width="0.2" text-anchor="middle" textLength="30.6" lengthAdjust="spacingAndGlyphs" transform="rotate(-90 346.00 560.40)" font-weight="bold">difference</text>
<line x1="436.00" y1="553.10" x2="445.80" y2="553.10" stroke="#7a8196" stroke-width="0.9" />
<circle cx="440.9" cy="553.10" r="1.5" fill="#fff" stroke="#7a8196" stroke-width="0.8"/>
<text x="449.30" y="555.50" font-size="6.35" fill="#1a1a1a" stroke="#1a1a1a" stroke-width="0.18" text-anchor="start" >Naïve</text>
<line x1="436.00" y1="563.60" x2="445.80" y2="563.60" stroke="#4e8a5e" stroke-width="0.9" />
<circle cx="440.9" cy="563.60" r="1.5" fill="#fff" stroke="#4e8a5e" stroke-width="0.8"/>
<text x="449.30" y="566.00" font-size="6.35" fill="#1a1a1a" stroke="#1a1a1a" stroke-width="0.18" text-anchor="start" >SynHighT</text>
<line x1="436.00" y1="574.20" x2="445.80" y2="574.20" stroke="#d3198f" stroke-width="0.9" />
<circle cx="440.9" cy="574.20" r="1.5" fill="#fff" stroke="#d3198f" stroke-width="0.8"/>
<text x="449.30" y="576.60" font-size="6.35" fill="#1a1a1a" stroke="#1a1a1a" stroke-width="0.18" text-anchor="start" >AlloHighT</text>
<rect x="0.6" y="0.6" width="518.8" height="652.8" fill="none" stroke="#000" stroke-width="1.3"/>
</svg>
</body></html>
